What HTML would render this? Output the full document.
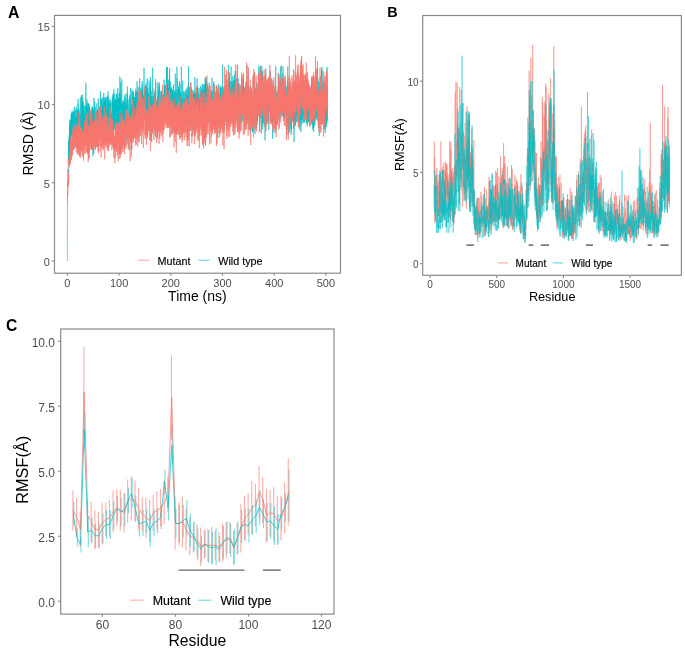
<!DOCTYPE html>
<html><head><meta charset="utf-8"><style>
html,body{margin:0;padding:0;background:#fff;width:685px;height:653px;overflow:hidden}
svg{display:block;filter:blur(0.3px)}
text{font-family:"Liberation Sans", sans-serif}
</style></head><body>
<svg width="685" height="653" viewBox="0 0 685 653">
<rect width="685" height="653" fill="#fff"/>
<polyline points="67.40,261.00 67.45,213.13 67.50,189.02 67.56,187.88 67.61,186.28 67.66,180.82 67.71,181.28 67.76,177.90 67.82,176.02 67.87,175.82 67.92,172.63 67.97,169.46 68.02,173.54 68.08,169.16 68.13,167.31 68.18,162.90 68.23,161.58 68.28,159.62 68.34,160.95 68.39,152.61 68.44,153.19 68.49,161.83 68.54,153.60 68.60,158.69 68.65,142.65 68.70,153.81 68.75,154.12 68.80,147.94 68.86,151.83 68.91,150.10 68.96,139.67 69.01,147.70 69.06,143.29 69.12,140.84 69.17,153.39 69.22,134.85 69.27,140.71 69.32,137.31 69.38,149.38 69.43,136.79 69.48,138.59 69.53,144.35 69.58,124.11 69.64,135.35 69.69,139.32 69.74,136.30 69.79,129.52 69.84,126.86 69.90,130.41 69.95,123.33 70.00,120.17 70.05,141.24 70.11,135.34 70.16,138.24 70.21,130.25 70.26,119.13 70.31,125.11 70.37,137.77 70.42,130.67 70.47,120.55 70.52,132.69 70.57,129.43 70.63,125.95 70.68,143.99 70.73,123.08 70.78,126.62 70.83,123.88 70.89,135.69 70.94,121.49 70.99,133.94 71.04,126.12 71.09,129.06 71.15,128.75 71.20,114.30 71.25,117.22 71.30,134.05 71.35,133.63 71.41,112.96 71.46,130.90 71.51,114.41 71.56,112.60 71.61,131.88 71.67,129.00 71.72,125.77 71.77,134.44 71.82,136.33 71.87,130.90 71.93,119.51 71.98,130.41 72.03,127.46 72.08,129.80 72.13,137.61 72.19,110.78 72.24,146.21 72.29,130.02 72.34,117.74 72.39,137.73 72.45,117.89 72.50,112.94 72.55,135.37 72.60,124.99 72.65,138.68 72.71,122.44 72.76,124.38 72.81,123.81 72.86,112.95 72.91,121.47 72.97,112.30 73.02,119.39 73.07,137.56 73.12,122.43 73.17,119.64 73.23,139.60 73.28,112.20 73.33,124.56 73.38,122.49 73.43,134.62 73.49,125.75 73.54,122.51 73.59,128.42 73.64,124.25 73.69,146.41 73.75,112.10 73.80,138.25 73.85,149.68 73.90,137.13 73.95,137.68 74.01,123.11 74.06,138.90 74.11,126.17 74.16,139.02 74.21,106.87 74.27,122.95 74.32,110.26 74.37,138.21 74.42,120.17 74.47,136.08 74.53,121.07 74.58,120.10 74.63,143.28 74.68,137.61 74.73,138.28 74.79,141.52 74.84,134.50 74.89,137.19 74.94,142.98 75.00,126.42 75.05,122.00 75.10,139.32 75.15,131.72 75.20,126.66 75.26,129.20 75.31,134.20 75.36,119.14 75.41,118.97 75.46,120.75 75.52,130.62 75.57,109.51 75.62,110.22 75.67,131.83 75.72,129.84 75.78,116.43 75.83,134.58 75.88,123.96 75.93,127.46 75.98,135.26 76.04,132.03 76.09,144.36 76.14,134.03 76.19,148.11 76.24,106.40 76.30,113.43 76.35,116.48 76.40,125.56 76.45,119.51 76.50,117.70 76.56,118.77 76.61,120.00 76.66,137.60 76.71,124.20 76.76,133.93 76.82,140.58 76.87,139.41 76.92,124.01 76.97,117.79 77.02,141.50 77.08,109.49 77.13,111.46 77.18,129.26 77.23,130.49 77.28,127.79 77.34,116.35 77.39,128.83 77.44,136.01 77.49,121.10 77.54,144.11 77.60,121.51 77.65,110.58 77.70,119.43 77.75,113.33 77.80,117.33 77.86,114.22 77.91,119.55 77.96,128.41 78.01,120.76 78.06,98.91 78.12,106.03 78.17,104.04 78.22,115.26 78.27,127.86 78.32,127.68 78.38,121.59 78.43,107.58 78.48,119.94 78.53,123.52 78.58,130.45 78.64,114.36 78.69,120.14 78.74,124.26 78.79,124.06 78.84,108.46 78.90,127.50 78.95,110.60 79.00,114.38 79.05,126.05 79.10,117.31 79.16,128.04 79.21,135.46 79.26,130.66 79.31,137.60 79.36,123.18 79.42,128.61 79.47,122.60 79.52,119.53 79.57,156.52 79.62,123.73 79.68,143.66 79.73,124.15 79.78,134.36 79.83,125.85 79.88,113.63 79.94,143.18 79.99,124.33 80.04,126.78 80.09,144.85 80.15,118.52 80.20,124.50 80.25,131.79 80.30,134.37 80.35,97.07 80.41,135.51 80.46,149.60 80.51,139.47 80.56,133.57 80.61,134.56 80.67,132.12 80.72,140.36 80.77,124.23 80.82,134.09 80.87,142.58 80.93,136.91 80.98,131.68 81.03,118.77 81.08,121.99 81.13,130.92 81.19,126.72 81.24,125.24 81.29,106.00 81.34,133.31 81.39,122.52 81.45,119.78 81.50,94.84 81.55,124.35 81.60,123.11 81.65,129.70 81.71,118.60 81.76,113.59 81.81,114.90 81.86,127.61 81.91,123.75 81.97,102.14 82.02,137.20 82.07,115.93 82.12,117.55 82.17,123.62 82.23,94.91 82.28,122.86 82.33,115.60 82.38,110.80 82.43,125.98 82.49,123.41 82.54,124.34 82.59,125.12 82.64,122.12 82.69,132.49 82.75,98.33 82.80,104.09 82.85,104.30 82.90,108.72 82.95,130.85 83.01,104.83 83.06,126.50 83.11,120.03 83.16,101.78 83.21,131.30 83.27,110.87 83.32,116.00 83.37,120.29 83.42,127.84 83.47,116.04 83.53,124.90 83.58,109.15 83.63,107.77 83.68,133.81 83.73,125.36 83.79,123.42 83.84,133.45 83.89,133.00 83.94,121.78 83.99,123.85 84.05,138.84 84.10,127.21 84.15,115.29 84.20,132.68 84.25,130.43 84.31,105.33 84.36,108.00 84.41,138.03 84.46,134.88 84.51,115.87 84.57,131.69 84.62,122.58 84.67,125.52 84.72,115.18 84.77,146.95 84.83,144.69 84.88,133.76 84.93,112.33 84.98,122.87 85.03,136.85 85.09,114.79 85.14,112.17 85.19,119.87 85.24,120.98 85.30,113.98 85.35,107.63 85.40,118.10 85.45,112.98 85.50,117.93 85.56,122.18 85.61,128.33 85.66,117.19 85.71,122.46 85.76,122.11 85.82,110.28 85.87,82.75 85.92,110.92 85.97,135.25 86.02,113.90 86.08,125.39 86.13,127.12 86.18,125.86 86.23,104.92 86.28,108.77 86.34,125.75 86.39,129.61 86.44,120.02 86.49,126.01 86.54,104.15 86.60,134.46 86.65,138.26 86.70,124.21 86.75,121.85 86.80,121.21 86.86,114.38 86.91,99.14 86.96,122.94 87.01,125.67 87.06,138.80 87.12,118.93 87.17,112.99 87.22,125.06 87.27,110.57 87.32,122.98 87.38,107.11 87.43,117.80 87.48,130.57 87.53,126.83 87.58,135.24 87.64,137.38 87.69,117.82 87.74,112.13 87.79,102.52 87.84,123.74 87.90,112.20 87.95,133.48 88.00,112.37 88.05,117.32 88.10,128.65 88.16,116.52 88.21,117.52 88.26,141.21 88.31,115.51 88.36,120.49 88.42,125.48 88.47,126.79 88.52,106.04 88.57,107.29 88.62,103.89 88.68,135.13 88.73,128.86 88.78,112.72 88.83,132.43 88.88,127.90 88.94,138.91 88.99,103.55 89.04,109.00 89.09,115.17 89.14,116.08 89.20,123.04 89.25,122.71 89.30,114.20 89.35,127.72 89.40,107.50 89.46,125.74 89.51,128.50 89.56,106.59 89.61,121.88 89.66,115.37 89.72,125.39 89.77,143.63 89.82,116.24 89.87,135.77 89.92,111.80 89.98,138.84 90.03,143.03 90.08,121.31 90.13,119.18 90.19,123.63 90.24,136.60 90.29,116.13 90.34,140.26 90.39,129.33 90.45,132.87 90.50,127.23 90.55,115.58 90.60,129.87 90.65,118.02 90.71,117.29 90.76,140.53 90.81,135.13 90.86,126.65 90.91,128.66 90.97,120.59 91.02,142.84 91.07,116.26 91.12,115.01 91.17,124.83 91.23,136.83 91.28,124.48 91.33,129.12 91.38,118.98 91.43,126.31 91.49,118.71 91.54,129.05 91.59,111.61 91.64,149.70 91.69,137.33 91.75,123.12 91.80,142.42 91.85,120.55 91.90,107.94 91.95,126.52 92.01,137.00 92.06,131.62 92.11,126.13 92.16,129.76 92.21,133.91 92.27,106.62 92.32,127.99 92.37,137.23 92.42,118.10 92.47,117.09 92.53,114.47 92.58,106.85 92.63,134.79 92.68,116.12 92.73,116.01 92.79,128.33 92.84,124.92 92.89,156.25 92.94,132.72 92.99,110.22 93.05,145.88 93.10,131.85 93.15,126.01 93.20,122.36 93.25,112.54 93.31,145.10 93.36,127.83 93.41,119.67 93.46,142.42 93.51,130.31 93.57,109.51 93.62,114.13 93.67,121.98 93.72,153.94 93.77,130.66 93.83,125.55 93.88,132.18 93.93,129.51 93.98,97.90 94.03,131.50 94.09,138.77 94.14,126.40 94.19,130.46 94.24,128.41 94.29,126.11 94.35,118.03 94.40,123.22 94.45,137.91 94.50,127.71 94.55,121.47 94.61,131.59 94.66,114.66 94.71,101.33 94.76,135.39 94.81,122.28 94.87,106.14 94.92,111.01 94.97,127.10 95.02,117.85 95.07,133.05 95.13,140.53 95.18,121.58 95.23,119.99 95.28,122.64 95.34,128.29 95.39,124.77 95.44,134.76 95.49,124.50 95.54,120.44 95.60,129.16 95.65,120.53 95.70,146.35 95.75,137.11 95.80,114.77 95.86,111.78 95.91,126.44 95.96,130.75 96.01,141.81 96.06,125.06 96.12,120.73 96.17,143.38 96.22,122.19 96.27,124.11 96.32,123.85 96.38,138.97 96.43,121.76 96.48,141.48 96.53,112.03 96.58,125.50 96.64,137.61 96.69,111.93 96.74,113.42 96.79,132.62 96.84,103.38 96.90,134.10 96.95,119.83 97.00,110.78 97.05,146.55 97.10,112.83 97.16,123.46 97.21,125.17 97.26,135.19 97.31,122.31 97.36,137.67 97.42,136.58 97.47,129.93 97.52,137.82 97.57,109.38 97.62,136.51 97.68,129.14 97.73,124.74 97.78,121.65 97.83,114.82 97.88,115.05 97.94,125.69 97.99,125.98 98.04,121.56 98.09,112.65 98.14,114.51 98.20,126.57 98.25,141.19 98.30,98.58 98.35,109.42 98.40,115.88 98.46,115.37 98.51,123.62 98.56,129.31 98.61,124.10 98.66,122.37 98.72,126.37 98.77,134.32 98.82,124.39 98.87,115.74 98.92,126.88 98.98,122.39 99.03,145.24 99.08,126.72 99.13,124.82 99.18,135.32 99.24,140.75 99.29,119.18 99.34,130.52 99.39,119.95 99.44,128.93 99.50,117.78 99.55,126.57 99.60,136.50 99.65,121.14 99.70,123.18 99.76,112.98 99.81,123.27 99.86,123.15 99.91,110.61 99.96,106.65 100.02,108.88 100.07,106.28 100.12,112.18 100.17,108.86 100.23,106.56 100.28,111.40 100.33,113.50 100.38,113.71 100.43,91.32 100.49,115.48 100.54,117.31 100.59,117.69 100.64,115.88 100.69,114.00 100.75,127.47 100.80,136.62 100.85,115.28 100.90,133.31 100.95,114.20 101.01,114.94 101.06,105.29 101.11,99.17 101.16,112.47 101.21,120.71 101.27,127.83 101.32,124.83 101.37,116.33 101.42,138.10 101.47,116.01 101.53,116.66 101.58,110.97 101.63,120.69 101.68,116.64 101.73,124.17 101.79,122.05 101.84,135.55 101.89,115.43 101.94,99.11 101.99,111.20 102.05,109.24 102.10,122.66 102.15,97.21 102.20,119.50 102.25,104.86 102.31,111.84 102.36,122.22 102.41,103.24 102.46,115.01 102.51,114.76 102.57,111.42 102.62,116.91 102.67,120.63 102.72,111.98 102.77,120.14 102.83,115.77 102.88,122.67 102.93,131.76 102.98,123.93 103.03,123.09 103.09,116.90 103.14,105.21 103.19,134.68 103.24,116.78 103.29,140.40 103.35,128.03 103.40,124.10 103.45,142.49 103.50,138.80 103.55,116.20 103.61,116.05 103.66,118.08 103.71,124.33 103.76,92.81 103.81,116.30 103.87,123.73 103.92,97.21 103.97,107.50 104.02,116.85 104.07,101.77 104.13,110.46 104.18,104.15 104.23,107.90 104.28,120.13 104.33,102.18 104.39,109.86 104.44,121.93 104.49,119.21 104.54,101.51 104.59,115.28 104.65,112.84 104.70,106.51 104.75,112.59 104.80,129.57 104.85,108.52 104.91,105.88 104.96,108.79 105.01,100.12 105.06,112.45 105.11,107.30 105.17,97.37 105.22,116.30 105.27,97.75 105.32,98.65 105.38,109.33 105.43,99.19 105.48,109.00 105.53,128.21 105.58,107.57 105.64,117.04 105.69,115.78 105.74,118.39 105.79,106.50 105.84,114.56 105.90,127.47 105.95,116.08 106.00,115.07 106.05,129.52 106.10,124.72 106.16,122.25 106.21,123.22 106.26,112.96 106.31,106.89 106.36,96.76 106.42,103.84 106.47,105.65 106.52,104.73 106.57,102.73 106.62,120.33 106.68,109.67 106.73,114.40 106.78,119.25 106.83,120.35 106.88,120.95 106.94,110.29 106.99,128.03 107.04,109.77 107.09,116.31 107.14,115.23 107.20,112.05 107.25,107.96 107.30,121.10 107.35,114.82 107.40,130.61 107.46,136.73 107.51,133.38 107.56,98.23 107.61,133.89 107.66,111.46 107.72,101.87 107.77,120.68 107.82,99.16 107.87,95.71 107.92,106.30 107.98,91.29 108.03,109.17 108.08,123.38 108.13,110.32 108.18,120.88 108.24,131.44 108.29,131.45 108.34,96.74 108.39,125.88 108.44,120.21 108.50,126.22 108.55,116.59 108.60,120.50 108.65,123.59 108.70,112.68 108.76,134.99 108.81,129.26 108.86,118.27 108.91,100.80 108.96,112.74 109.02,104.14 109.07,117.49 109.12,122.71 109.17,134.88 109.22,120.79 109.28,142.17 109.33,122.35 109.38,102.48 109.43,115.08 109.48,106.59 109.54,123.06 109.59,133.10 109.64,124.23 109.69,123.10 109.74,108.16 109.80,98.77 109.85,125.89 109.90,123.10 109.95,122.44 110.00,124.59 110.06,133.51 110.11,120.59 110.16,117.62 110.21,117.82 110.26,133.13 110.32,122.67 110.37,138.88 110.42,111.12 110.47,128.03 110.53,121.41 110.58,123.51 110.63,125.54 110.68,129.48 110.73,137.58 110.79,102.71 110.84,117.45 110.89,118.14 110.94,100.44 110.99,122.82 111.05,118.02 111.10,124.48 111.15,112.86 111.20,119.34 111.25,121.14 111.31,128.26 111.36,123.01 111.41,113.07 111.46,144.87 111.51,125.10 111.57,128.59 111.62,126.55 111.67,143.71 111.72,117.32 111.77,133.66 111.83,125.80 111.88,128.14 111.93,138.57 111.98,126.52 112.03,139.49 112.09,128.08 112.14,124.50 112.19,118.89 112.24,117.47 112.29,119.80 112.35,96.90 112.40,113.64 112.45,127.58 112.50,123.40 112.55,125.42 112.61,120.75 112.66,124.92 112.71,127.25 112.76,100.72 112.81,116.53 112.87,119.56 112.92,119.71 112.97,94.92 113.02,100.31 113.07,108.83 113.13,102.15 113.18,144.77 113.23,108.48 113.28,102.07 113.33,93.05 113.39,112.27 113.44,129.24 113.49,106.53 113.54,118.29 113.59,130.66 113.65,118.81 113.70,102.15 113.75,101.82 113.80,106.72 113.85,123.76 113.91,88.82 113.96,126.20 114.01,107.91 114.06,129.42 114.11,101.44 114.17,111.22 114.22,105.69 114.27,111.58 114.32,111.37 114.37,109.26 114.43,129.48 114.48,100.47 114.53,101.32 114.58,113.17 114.63,110.75 114.69,106.75 114.74,94.15 114.79,104.46 114.84,108.40 114.89,114.77 114.95,124.69 115.00,115.02 115.05,108.44 115.10,111.42 115.15,108.79 115.21,104.19 115.26,106.57 115.31,107.65 115.36,103.81 115.42,108.61 115.47,109.97 115.52,105.51 115.57,128.46 115.62,98.70 115.68,123.33 115.73,103.32 115.78,110.61 115.83,100.29 115.88,112.23 115.94,121.00 115.99,100.84 116.04,111.11 116.09,112.17 116.14,111.72 116.20,101.39 116.25,103.74 116.30,109.37 116.35,126.75 116.40,115.90 116.46,110.51 116.51,93.60 116.56,108.41 116.61,113.75 116.66,100.75 116.72,113.97 116.77,113.71 116.82,112.28 116.87,127.96 116.92,103.04 116.98,107.64 117.03,113.74 117.08,121.98 117.13,106.30 117.18,95.29 117.24,115.29 117.29,120.00 117.34,103.47 117.39,122.44 117.44,130.82 117.50,113.98 117.55,115.99 117.60,111.25 117.65,113.51 117.70,104.86 117.76,88.13 117.81,113.61 117.86,112.46 117.91,100.71 117.96,99.74 118.02,99.85 118.07,103.07 118.12,142.63 118.17,119.83 118.22,113.86 118.28,108.37 118.33,127.75 118.38,98.01 118.43,110.83 118.48,120.20 118.54,111.83 118.59,116.05 118.64,120.41 118.69,106.70 118.74,113.33 118.80,126.29 118.85,117.98 118.90,111.82 118.95,122.00 119.00,98.68 119.06,122.65 119.11,93.91 119.16,103.54 119.21,121.17 119.26,110.80 119.32,99.81 119.37,114.52 119.42,124.36 119.47,110.87 119.52,92.35 119.58,125.67 119.63,104.77 119.68,108.73 119.73,109.28 119.78,112.83 119.84,112.63 119.89,76.62 119.94,103.20 119.99,119.40 120.04,93.98 120.10,124.66 120.15,105.15 120.20,112.13 120.25,101.53 120.30,110.73 120.36,104.32 120.41,115.41 120.46,105.04 120.51,112.71 120.57,96.04 120.62,125.68 120.67,82.22 120.72,116.43 120.77,117.64 120.83,125.98 120.88,114.93 120.93,135.47 120.98,133.93 121.03,113.01 121.09,135.80 121.14,104.83 121.19,120.33 121.24,114.74 121.29,116.28 121.35,113.61 121.40,120.02 121.45,121.04 121.50,117.72 121.55,105.79 121.61,103.24 121.66,103.65 121.71,113.03 121.76,79.22 121.81,133.07 121.87,110.26 121.92,108.42 121.97,122.20 122.02,109.72 122.07,102.43 122.13,113.39 122.18,104.68 122.23,113.03 122.28,134.00 122.33,120.21 122.39,120.30 122.44,111.37 122.49,124.54 122.54,119.38 122.59,124.99 122.65,116.64 122.70,116.92 122.75,108.31 122.80,112.06 122.85,117.57 122.91,117.22 122.96,117.93 123.01,115.98 123.06,100.26 123.11,142.09 123.17,117.79 123.22,111.69 123.27,104.09 123.32,127.44 123.37,112.87 123.43,109.08 123.48,120.81 123.53,137.80 123.58,123.01 123.63,131.60 123.69,112.89 123.74,127.77 123.79,100.70 123.84,117.35 123.89,125.71 123.95,124.55 124.00,130.33 124.05,115.82 124.10,104.36 124.15,121.26 124.21,110.40 124.26,129.72 124.31,116.12 124.36,95.40 124.41,133.45 124.47,104.65 124.52,102.97 124.57,135.23 124.62,130.36 124.67,123.29 124.73,102.86 124.78,116.83 124.83,114.41 124.88,106.08 124.93,112.26 124.99,111.68 125.04,116.51 125.09,102.25 125.14,121.93 125.19,98.18 125.25,118.58 125.30,124.02 125.35,109.48 125.40,110.41 125.45,134.66 125.51,111.84 125.56,127.41 125.61,122.07 125.66,105.81 125.72,122.80 125.77,109.73 125.82,118.20 125.87,93.48 125.92,114.02 125.98,125.67 126.03,125.41 126.08,124.01 126.13,113.35 126.18,115.31 126.24,104.33 126.29,113.18 126.34,115.66 126.39,114.27 126.44,120.63 126.50,116.21 126.55,110.07 126.60,109.32 126.65,123.94 126.70,136.90 126.76,125.34 126.81,113.88 126.86,141.87 126.91,120.37 126.96,108.62 127.02,117.69 127.07,123.22 127.12,93.81 127.17,97.03 127.22,114.34 127.28,99.35 127.33,99.57 127.38,125.11 127.43,86.51 127.48,123.11 127.54,114.07 127.59,123.37 127.64,111.62 127.69,125.94 127.74,112.28 127.80,100.28 127.85,109.63 127.90,115.30 127.95,98.50 128.00,124.12 128.06,104.65 128.11,117.47 128.16,113.14 128.21,115.30 128.26,114.23 128.32,115.53 128.37,123.44 128.42,121.44 128.47,112.84 128.52,119.38 128.58,128.42 128.63,125.74 128.68,125.78 128.73,118.95 128.78,116.78 128.84,118.28 128.89,125.73 128.94,118.75 128.99,132.74 129.04,149.72 129.10,120.94 129.15,137.77 129.20,130.88 129.25,133.07 129.30,113.63 129.36,131.26 129.41,116.48 129.46,123.21 129.51,129.56 129.56,131.83 129.62,109.78 129.67,110.66 129.72,106.86 129.77,95.32 129.82,112.43 129.88,112.10 129.93,116.67 129.98,114.63 130.03,120.84 130.08,127.10 130.14,97.65 130.19,135.85 130.24,113.33 130.29,111.42 130.34,114.50 130.40,126.51 130.45,118.22 130.50,121.12 130.55,126.70 130.61,88.06 130.66,118.23 130.71,121.10 130.76,109.31 130.81,128.31 130.87,114.09 130.92,123.39 130.97,112.53 131.02,117.50 131.07,115.01 131.13,126.11 131.18,124.30 131.23,125.67 131.28,115.43 131.33,109.24 131.39,105.17 131.44,120.02 131.49,112.90 131.54,129.06 131.59,133.90 131.65,119.62 131.70,119.12 131.75,128.28 131.80,130.31 131.85,107.25 131.91,119.99 131.96,129.29 132.01,89.59 132.06,110.06 132.11,114.47 132.17,104.23 132.22,118.02 132.27,93.31 132.32,124.84 132.37,124.93 132.43,104.13 132.48,120.61 132.53,99.50 132.58,129.87 132.63,119.91 132.69,110.58 132.74,108.38 132.79,102.00 132.84,109.16 132.89,91.49 132.95,118.42 133.00,100.37 133.05,105.21 133.10,116.35 133.15,93.54 133.21,119.21 133.26,120.84 133.31,125.01 133.36,119.80 133.41,129.56 133.47,110.08 133.52,127.41 133.57,91.07 133.62,93.52 133.67,99.69 133.73,113.24 133.78,116.45 133.83,97.34 133.88,106.84 133.93,102.84 133.99,116.54 134.04,99.07 134.09,117.62 134.14,108.01 134.19,125.46 134.25,114.33 134.30,101.79 134.35,110.21 134.40,110.26 134.45,99.36 134.51,109.40 134.56,97.57 134.61,133.28 134.66,103.89 134.71,103.41 134.77,123.75 134.82,119.75 134.87,96.87 134.92,116.87 134.97,112.85 135.03,100.39 135.08,109.80 135.13,102.24 135.18,116.03 135.23,102.81 135.29,96.60 135.34,104.14 135.39,130.64 135.44,101.68 135.49,106.97 135.55,116.89 135.60,92.94 135.65,126.35 135.70,88.67 135.76,114.74 135.81,91.84 135.86,108.15 135.91,123.70 135.96,109.96 136.02,107.32 136.07,103.71 136.12,98.19 136.17,117.83 136.22,105.11 136.28,101.27 136.33,109.81 136.38,116.60 136.43,117.08 136.48,101.38 136.54,100.06 136.59,114.05 136.64,118.65 136.69,91.45 136.74,119.40 136.80,103.13 136.85,111.78 136.90,122.74 136.95,104.00 137.00,107.04 137.06,89.80 137.11,81.10 137.16,105.80 137.21,94.36 137.26,95.49 137.32,111.40 137.37,115.62 137.42,91.79 137.47,113.02 137.52,110.00 137.58,114.39 137.63,113.96 137.68,120.14 137.73,106.08 137.78,100.38 137.84,114.84 137.89,126.35 137.94,112.36 137.99,126.93 138.04,118.41 138.10,99.64 138.15,86.84 138.20,106.77 138.25,113.98 138.30,104.79 138.36,134.97 138.41,118.81 138.46,97.49 138.51,106.12 138.56,126.95 138.62,129.09 138.67,104.02 138.72,112.40 138.77,117.24 138.82,105.50 138.88,118.69 138.93,131.76 138.98,104.47 139.03,121.05 139.08,124.67 139.14,127.06 139.19,109.31 139.24,121.89 139.29,104.72 139.34,114.66 139.40,99.92 139.45,113.47 139.50,107.71 139.55,128.25 139.60,120.44 139.66,101.31 139.71,78.24 139.76,124.14 139.81,119.16 139.86,104.52 139.92,101.38 139.97,113.97 140.02,104.94 140.07,120.57 140.12,105.93 140.18,93.95 140.23,87.78 140.28,106.29 140.33,109.38 140.38,103.79 140.44,97.05 140.49,104.24 140.54,116.88 140.59,105.71 140.65,97.64 140.70,113.43 140.75,119.82 140.80,100.02 140.85,102.27 140.91,96.55 140.96,104.61 141.01,113.27 141.06,111.44 141.11,118.69 141.17,117.72 141.22,112.25 141.27,112.19 141.32,95.80 141.37,120.36 141.43,109.48 141.48,116.08 141.53,93.58 141.58,103.73 141.63,109.73 141.69,98.42 141.74,105.34 141.79,111.19 141.84,90.09 141.89,98.21 141.95,87.69 142.00,92.97 142.05,97.46 142.10,104.41 142.15,118.39 142.21,81.00 142.26,108.41 142.31,102.38 142.36,84.33 142.41,116.86 142.47,119.55 142.52,103.56 142.57,98.22 142.62,114.98 142.67,106.61 142.73,95.48 142.78,117.05 142.83,112.33 142.88,118.78 142.93,96.94 142.99,104.75 143.04,112.69 143.09,127.36 143.14,109.82 143.19,96.40 143.25,110.47 143.30,111.60 143.35,101.02 143.40,119.86 143.45,108.25 143.51,103.32 143.56,116.75 143.61,116.98 143.66,104.92 143.71,108.34 143.77,107.50 143.82,103.75 143.87,103.39 143.92,116.84 143.97,115.39 144.03,67.99 144.08,96.89 144.13,94.01 144.18,116.29 144.23,97.63 144.29,101.31 144.34,109.70 144.39,104.85 144.44,100.60 144.49,90.25 144.55,119.47 144.60,103.54 144.65,110.68 144.70,111.38 144.75,96.67 144.81,97.44 144.86,115.20 144.91,107.90 144.96,102.96 145.01,120.38 145.07,98.28 145.12,108.70 145.17,106.65 145.22,105.26 145.27,89.67 145.33,85.71 145.38,111.99 145.43,91.95 145.48,112.92 145.53,112.65 145.59,119.64 145.64,94.05 145.69,100.86 145.74,99.18 145.80,101.67 145.85,102.26 145.90,110.15 145.95,109.13 146.00,95.48 146.06,98.40 146.11,82.70 146.16,105.82 146.21,103.97 146.26,109.18 146.32,86.09 146.37,113.25 146.42,93.84 146.47,87.42 146.52,103.32 146.58,94.32 146.63,124.57 146.68,105.24 146.73,117.10 146.78,98.16 146.84,100.35 146.89,108.46 146.94,90.86 146.99,96.59 147.04,107.26 147.10,106.58 147.15,113.57 147.20,102.66 147.25,78.68 147.30,107.01 147.36,95.94 147.41,104.57 147.46,92.34 147.51,96.03 147.56,101.58 147.62,117.60 147.67,105.44 147.72,88.28 147.77,103.43 147.82,93.32 147.88,105.58 147.93,118.32 147.98,97.20 148.03,97.78 148.08,107.10 148.14,107.68 148.19,101.12 148.24,111.12 148.29,102.15 148.34,106.22 148.40,129.06 148.45,107.86 148.50,111.03 148.55,113.38 148.60,99.47 148.66,108.22 148.71,98.83 148.76,93.39 148.81,101.83 148.86,118.04 148.92,109.95 148.97,93.48 149.02,105.50 149.07,80.59 149.12,102.70 149.18,96.87 149.23,100.56 149.28,97.24 149.33,111.42 149.38,105.37 149.44,105.40 149.49,103.84 149.54,124.78 149.59,107.78 149.64,120.20 149.70,91.93 149.75,90.75 149.80,89.14 149.85,96.74 149.90,109.20 149.96,94.70 150.01,104.38 150.06,95.69 150.11,111.41 150.16,107.66 150.22,96.82 150.27,84.64 150.32,102.78 150.37,80.13 150.42,77.10 150.48,117.96 150.53,105.65 150.58,115.42 150.63,108.85 150.68,113.15 150.74,108.45 150.79,97.93 150.84,99.25 150.89,105.41 150.95,109.13 151.00,108.11 151.05,106.67 151.10,102.80 151.15,108.96 151.21,102.84 151.26,121.41 151.31,100.48 151.36,90.61 151.41,105.28 151.47,123.47 151.52,96.37 151.57,114.15 151.62,141.85 151.67,114.63 151.73,106.97 151.78,108.71 151.83,100.76 151.88,106.68 151.93,111.10 151.99,132.78 152.04,123.78 152.09,108.99 152.14,103.54 152.19,121.20 152.25,116.95 152.30,106.81 152.35,130.37 152.40,129.77 152.45,113.16 152.51,108.37 152.56,114.53 152.61,133.20 152.66,67.65 152.71,124.07 152.77,104.76 152.82,112.71 152.87,106.82 152.92,103.32 152.97,115.49 153.03,102.27 153.08,98.11 153.13,105.89 153.18,96.21 153.23,113.89 153.29,98.11 153.34,103.23 153.39,115.64 153.44,105.94 153.49,111.89 153.55,112.23 153.60,105.85 153.65,96.24 153.70,112.16 153.75,106.80 153.81,123.17 153.86,107.65 153.91,97.27 153.96,100.87 154.01,103.79 154.07,98.74 154.12,120.31 154.17,111.04 154.22,123.33 154.27,122.54 154.33,101.03 154.38,120.44 154.43,93.00 154.48,124.25 154.53,106.41 154.59,120.99 154.64,106.54 154.69,119.15 154.74,107.45 154.79,110.77 154.85,115.30 154.90,106.67 154.95,96.84 155.00,118.16 155.05,103.59 155.11,111.38 155.16,114.37 155.21,91.26 155.26,136.39 155.31,121.74 155.37,133.27 155.42,119.00 155.47,119.16 155.52,79.05 155.57,113.67 155.63,98.18 155.68,102.36 155.73,120.56 155.78,111.74 155.84,100.30 155.89,114.64 155.94,115.90 155.99,111.42 156.04,131.82 156.10,125.27 156.15,113.04 156.20,109.65 156.25,123.84 156.30,116.59 156.36,114.24 156.41,113.17 156.46,103.31 156.51,109.21 156.56,107.14 156.62,122.86 156.67,119.06 156.72,106.00 156.77,125.52 156.82,105.88 156.88,116.45 156.93,117.26 156.98,102.12 157.03,115.16 157.08,119.02 157.14,117.15 157.19,109.02 157.24,82.48 157.29,131.43 157.34,112.37 157.40,113.80 157.45,102.23 157.50,114.60 157.55,137.43 157.60,96.65 157.66,122.72 157.71,111.40 157.76,125.36 157.81,123.04 157.86,114.71 157.92,101.71 157.97,102.40 158.02,117.10 158.07,106.80 158.12,114.36 158.18,107.71 158.23,107.88 158.28,104.71 158.33,112.61 158.38,109.93 158.44,105.56 158.49,105.72 158.54,115.51 158.59,90.16 158.64,113.51 158.70,102.45 158.75,107.02 158.80,97.28 158.85,129.49 158.90,86.55 158.96,110.03 159.01,119.54 159.06,104.06 159.11,82.10 159.16,101.01 159.22,118.25 159.27,109.20 159.32,91.53 159.37,120.01 159.42,106.69 159.48,107.76 159.53,83.95 159.58,109.20 159.63,93.68 159.68,113.52 159.74,114.69 159.79,95.31 159.84,98.53 159.89,123.83 159.94,99.50 160.00,98.63 160.05,110.95 160.10,101.60 160.15,101.70 160.20,110.29 160.26,110.45 160.31,112.38 160.36,110.40 160.41,120.09 160.46,107.76 160.52,122.71 160.57,108.12 160.62,110.91 160.67,121.50 160.72,102.61 160.78,91.16 160.83,99.38 160.88,125.69 160.93,99.95 160.99,111.43 161.04,113.32 161.09,118.68 161.14,113.99 161.19,97.92 161.25,107.10 161.30,116.37 161.35,118.59 161.40,114.53 161.45,104.71 161.51,90.70 161.56,114.58 161.61,109.01 161.66,113.52 161.71,117.48 161.77,103.96 161.82,102.07 161.87,121.81 161.92,115.81 161.97,92.97 162.03,102.64 162.08,99.90 162.13,111.38 162.18,109.09 162.23,99.52 162.29,109.77 162.34,116.59 162.39,105.25 162.44,96.14 162.49,116.63 162.55,95.03 162.60,100.56 162.65,116.71 162.70,108.26 162.75,108.96 162.81,101.79 162.86,102.56 162.91,121.77 162.96,122.33 163.01,98.89 163.07,109.33 163.12,107.26 163.17,107.60 163.22,96.29 163.27,123.68 163.33,99.37 163.38,117.51 163.43,100.36 163.48,94.42 163.53,122.85 163.59,103.81 163.64,110.32 163.69,109.36 163.74,105.99 163.79,115.88 163.85,114.22 163.90,97.27 163.95,94.98 164.00,108.91 164.05,117.73 164.11,79.63 164.16,91.05 164.21,99.10 164.26,111.56 164.31,107.31 164.37,98.22 164.42,110.58 164.47,85.18 164.52,98.16 164.57,96.08 164.63,111.77 164.68,111.36 164.73,110.58 164.78,97.95 164.83,103.37 164.89,102.89 164.94,97.95 164.99,98.68 165.04,85.56 165.09,100.91 165.15,109.98 165.20,99.55 165.25,84.66 165.30,106.08 165.35,100.22 165.41,104.71 165.46,99.41 165.51,100.41 165.56,110.70 165.61,105.38 165.67,95.01 165.72,92.13 165.77,93.70 165.82,93.44 165.88,104.21 165.93,105.17 165.98,91.59 166.03,113.03 166.08,102.07 166.14,120.30 166.19,105.64 166.24,107.99 166.29,113.03 166.34,95.46 166.40,109.03 166.45,105.16 166.50,105.05 166.55,110.42 166.60,67.09 166.66,108.76 166.71,102.03 166.76,117.70 166.81,107.52 166.86,104.87 166.92,104.42 166.97,67.08 167.02,98.18 167.07,83.91 167.12,101.11 167.18,101.08 167.23,67.07 167.28,73.09 167.33,82.57 167.38,91.37 167.44,84.34 167.49,104.74 167.54,100.36 167.59,95.23 167.64,96.72 167.70,106.77 167.75,105.37 167.80,91.49 167.85,94.85 167.90,119.61 167.96,99.16 168.01,87.43 168.06,106.86 168.11,98.51 168.16,116.24 168.22,93.88 168.27,114.15 168.32,115.11 168.37,104.45 168.42,79.58 168.48,109.54 168.53,116.52 168.58,98.90 168.63,102.20 168.68,88.11 168.74,118.36 168.79,120.96 168.84,108.13 168.89,101.38 168.94,101.27 169.00,94.28 169.05,121.51 169.10,114.26 169.15,107.06 169.20,97.52 169.26,100.22 169.31,108.07 169.36,115.14 169.41,96.91 169.46,94.79 169.52,75.90 169.57,105.54 169.62,68.04 169.67,117.65 169.72,111.49 169.78,114.31 169.83,112.10 169.88,117.38 169.93,115.12 169.98,109.27 170.04,113.78 170.09,102.67 170.14,109.40 170.19,107.73 170.24,93.28 170.30,104.74 170.35,81.32 170.40,107.06 170.45,105.61 170.50,101.54 170.56,115.22 170.61,95.09 170.66,90.36 170.71,92.80 170.76,107.97 170.82,119.55 170.87,108.17 170.92,103.55 170.97,96.62 171.03,106.59 171.08,105.28 171.13,87.10 171.18,111.03 171.23,87.71 171.29,95.93 171.34,119.43 171.39,93.60 171.44,112.85 171.49,116.39 171.55,125.51 171.60,123.48 171.65,102.92 171.70,111.40 171.75,105.23 171.81,119.79 171.86,113.03 171.91,111.81 171.96,125.94 172.01,127.04 172.07,105.25 172.12,108.42 172.17,118.85 172.22,111.49 172.27,102.50 172.33,89.71 172.38,116.54 172.43,103.14 172.48,89.05 172.53,108.46 172.59,92.78 172.64,132.88 172.69,91.42 172.74,106.55 172.79,125.33 172.85,98.81 172.90,95.69 172.95,95.54 173.00,94.69 173.05,105.68 173.11,113.95 173.16,112.34 173.21,107.70 173.26,103.87 173.31,114.90 173.37,108.72 173.42,100.21 173.47,106.07 173.52,84.32 173.57,85.51 173.63,119.18 173.68,113.24 173.73,121.57 173.78,120.76 173.83,103.22 173.89,119.02 173.94,103.34 173.99,110.45 174.04,98.88 174.09,109.64 174.15,109.16 174.20,95.96 174.25,99.07 174.30,99.30 174.35,92.69 174.41,113.30 174.46,101.34 174.51,111.20 174.56,94.95 174.61,96.59 174.67,113.85 174.72,90.72 174.77,115.84 174.82,92.83 174.87,103.22 174.93,115.13 174.98,117.52 175.03,111.00 175.08,108.02 175.13,114.81 175.19,102.63 175.24,123.16 175.29,73.77 175.34,97.00 175.39,128.37 175.45,104.95 175.50,120.06 175.55,132.72 175.60,114.89 175.65,109.96 175.71,96.92 175.76,111.72 175.81,92.34 175.86,91.65 175.91,94.79 175.97,90.59 176.02,100.94 176.07,109.56 176.12,98.71 176.18,93.55 176.23,101.62 176.28,108.61 176.33,121.98 176.38,99.59 176.44,101.02 176.49,117.96 176.54,103.94 176.59,97.15 176.64,104.04 176.70,95.22 176.75,94.61 176.80,116.63 176.85,105.22 176.90,97.37 176.96,66.68 177.01,89.12 177.06,121.47 177.11,104.28 177.16,95.38 177.22,89.47 177.27,78.26 177.32,112.20 177.37,106.85 177.42,113.33 177.48,93.91 177.53,115.27 177.58,89.24 177.63,92.39 177.68,96.80 177.74,125.12 177.79,99.63 177.84,95.06 177.89,115.35 177.94,104.47 178.00,102.57 178.05,95.35 178.10,101.46 178.15,102.95 178.20,109.14 178.26,102.34 178.31,104.33 178.36,95.66 178.41,105.11 178.46,92.65 178.52,119.60 178.57,89.32 178.62,104.17 178.67,89.72 178.72,101.25 178.78,93.34 178.83,85.92 178.88,106.00 178.93,100.66 178.98,103.96 179.04,100.69 179.09,119.22 179.14,103.65 179.19,105.76 179.24,110.80 179.30,104.35 179.35,117.48 179.40,87.57 179.45,95.83 179.50,81.07 179.56,108.18 179.61,101.47 179.66,94.71 179.71,103.89 179.76,96.29 179.82,106.09 179.87,102.85 179.92,98.03 179.97,102.04 180.02,84.22 180.08,97.33 180.13,116.27 180.18,94.88 180.23,116.89 180.28,102.36 180.34,116.08 180.39,112.59 180.44,91.83 180.49,111.74 180.54,113.11 180.60,112.26 180.65,109.88 180.70,93.54 180.75,120.08 180.80,121.43 180.86,102.91 180.91,122.94 180.96,109.95 181.01,95.16 181.07,108.04 181.12,114.15 181.17,117.95 181.22,119.19 181.27,116.51 181.33,66.51 181.38,98.30 181.43,100.86 181.48,114.80 181.53,117.02 181.59,102.87 181.64,128.77 181.69,113.96 181.74,113.67 181.79,122.51 181.85,122.49 181.90,110.11 181.95,129.58 182.00,119.50 182.05,117.64 182.11,109.25 182.16,123.50 182.21,99.71 182.26,113.86 182.31,113.45 182.37,114.99 182.42,116.13 182.47,120.92 182.52,99.02 182.57,108.06 182.63,111.63 182.68,80.73 182.73,116.45 182.78,102.74 182.83,108.35 182.89,116.78 182.94,102.08 182.99,123.22 183.04,99.46 183.09,113.95 183.15,100.04 183.20,91.67 183.25,99.96 183.30,112.48 183.35,107.27 183.41,109.74 183.46,118.57 183.51,118.01 183.56,108.25 183.61,103.37 183.67,126.29 183.72,109.91 183.77,104.70 183.82,106.80 183.87,117.52 183.93,99.52 183.98,122.73 184.03,102.79 184.08,91.17 184.13,127.31 184.19,104.94 184.24,104.75 184.29,104.56 184.34,115.36 184.39,109.38 184.45,118.90 184.50,103.57 184.55,98.94 184.60,110.33 184.65,111.54 184.71,108.12 184.76,102.44 184.81,102.22 184.86,104.69 184.91,102.94 184.97,117.01 185.02,132.20 185.07,100.28 185.12,93.11 185.17,120.08 185.23,110.73 185.28,100.53 185.33,92.96 185.38,96.61 185.43,90.48 185.49,103.61 185.54,100.04 185.59,101.06 185.64,109.42 185.69,93.43 185.75,100.23 185.80,96.32 185.85,110.23 185.90,95.08 185.95,115.91 186.01,101.77 186.06,131.67 186.11,115.83 186.16,99.05 186.22,111.27 186.27,104.32 186.32,121.61 186.37,88.81 186.42,99.95 186.48,106.53 186.53,102.51 186.58,103.21 186.63,92.78 186.68,105.21 186.74,121.24 186.79,108.94 186.84,94.69 186.89,100.50 186.94,109.42 187.00,99.72 187.05,103.86 187.10,99.67 187.15,120.49 187.20,113.88 187.26,99.09 187.31,108.30 187.36,103.30 187.41,87.09 187.46,109.52 187.52,103.96 187.57,112.43 187.62,116.53 187.67,110.83 187.72,126.22 187.78,132.30 187.83,96.53 187.88,110.77 187.93,98.81 187.98,108.83 188.04,108.56 188.09,103.77 188.14,103.71 188.19,123.56 188.24,98.27 188.30,119.84 188.35,107.13 188.40,83.86 188.45,108.32 188.50,92.60 188.56,66.22 188.61,101.68 188.66,107.00 188.71,103.94 188.76,117.27 188.82,116.25 188.87,104.00 188.92,123.12 188.97,114.54 189.02,98.73 189.08,110.75 189.13,113.88 189.18,113.87 189.23,101.11 189.28,105.78 189.34,100.94 189.39,105.74 189.44,86.79 189.49,109.16 189.54,123.95 189.60,95.92 189.65,105.87 189.70,105.70 189.75,123.47 189.80,97.60 189.86,108.22 189.91,107.19 189.96,119.78 190.01,98.59 190.06,104.58 190.12,91.40 190.17,112.22 190.22,120.85 190.27,107.40 190.32,116.74 190.38,102.92 190.43,117.20 190.48,107.52 190.53,107.85 190.58,104.58 190.64,110.39 190.69,113.78 190.74,107.65 190.79,111.24 190.84,102.77 190.90,106.31 190.95,127.06 191.00,105.30 191.05,91.19 191.10,101.89 191.16,90.82 191.21,100.12 191.26,109.67 191.31,117.43 191.37,96.07 191.42,93.98 191.47,87.48 191.52,100.81 191.57,100.36 191.63,104.84 191.68,101.62 191.73,104.62 191.78,102.95 191.83,114.61 191.89,112.51 191.94,100.06 191.99,108.60 192.04,130.65 192.09,106.47 192.15,130.61 192.20,90.03 192.25,102.77 192.30,102.42 192.35,115.67 192.41,119.75 192.46,111.08 192.51,108.41 192.56,116.79 192.61,107.59 192.67,94.09 192.72,102.49 192.77,118.89 192.82,130.84 192.87,109.33 192.93,115.38 192.98,104.70 193.03,93.63 193.08,93.01 193.13,103.81 193.19,96.03 193.24,90.44 193.29,105.67 193.34,105.86 193.39,99.99 193.45,109.24 193.50,112.36 193.55,114.98 193.60,108.27 193.65,114.51 193.71,100.42 193.76,111.90 193.81,94.33 193.86,97.98 193.91,121.93 193.97,98.47 194.02,110.95 194.07,92.97 194.12,101.03 194.17,105.33 194.23,97.40 194.28,107.83 194.33,98.28 194.38,97.96 194.43,102.99 194.49,97.74 194.54,111.04 194.59,95.85 194.64,113.88 194.69,98.15 194.75,100.28 194.80,99.90 194.85,112.08 194.90,77.16 194.95,110.35 195.01,105.93 195.06,113.83 195.11,92.51 195.16,109.33 195.21,93.38 195.27,113.36 195.32,100.25 195.37,106.49 195.42,93.55 195.47,104.57 195.53,110.88 195.58,98.79 195.63,115.54 195.68,114.00 195.73,97.41 195.79,124.31 195.84,99.82 195.89,110.42 195.94,115.41 195.99,103.80 196.05,101.80 196.10,88.91 196.15,110.66 196.20,101.08 196.26,101.97 196.31,108.72 196.36,115.61 196.41,117.19 196.46,113.70 196.52,100.64 196.57,102.00 196.62,103.49 196.67,92.53 196.72,108.65 196.78,109.35 196.83,108.88 196.88,85.80 196.93,123.12 196.98,100.21 197.04,97.94 197.09,101.60 197.14,78.63 197.19,89.96 197.24,95.87 197.30,110.69 197.35,97.25 197.40,106.79 197.45,103.02 197.50,102.38 197.56,106.97 197.61,95.86 197.66,87.85 197.71,93.07 197.76,101.36 197.82,120.20 197.87,92.31 197.92,91.46 197.97,106.69 198.02,109.74 198.08,99.22 198.13,115.28 198.18,99.39 198.23,115.72 198.28,115.97 198.34,105.81 198.39,120.41 198.44,104.16 198.49,98.68 198.54,116.58 198.60,94.08 198.65,107.88 198.70,97.87 198.75,100.45 198.80,107.40 198.86,109.77 198.91,119.17 198.96,109.88 199.01,111.21 199.06,87.82 199.12,95.30 199.17,119.39 199.22,99.06 199.27,105.01 199.32,110.62 199.38,101.44 199.43,98.70 199.48,111.18 199.53,107.76 199.58,104.56 199.64,115.28 199.69,104.96 199.74,106.42 199.79,111.68 199.84,113.18 199.90,103.48 199.95,97.87 200.00,103.74 200.05,114.31 200.10,99.07 200.16,105.31 200.21,100.34 200.26,94.16 200.31,114.40 200.36,105.99 200.42,110.63 200.47,113.54 200.52,85.97 200.57,96.81 200.62,122.97 200.68,102.18 200.73,110.04 200.78,92.38 200.83,102.80 200.88,103.76 200.94,100.86 200.99,98.27 201.04,100.88 201.09,103.08 201.14,100.13 201.20,93.88 201.25,110.79 201.30,98.97 201.35,93.49 201.41,104.56 201.46,95.88 201.51,114.27 201.56,104.77 201.61,88.73 201.67,94.64 201.72,102.82 201.77,98.13 201.82,94.22 201.87,113.97 201.93,94.98 201.98,105.55 202.03,100.67 202.08,100.76 202.13,91.80 202.19,92.79 202.24,83.93 202.29,98.74 202.34,105.45 202.39,107.28 202.45,97.39 202.50,86.72 202.55,100.22 202.60,108.76 202.65,100.13 202.71,99.75 202.76,103.09 202.81,110.80 202.86,127.76 202.91,107.99 202.97,93.53 203.02,102.64 203.07,124.71 203.12,102.64 203.17,119.95 203.23,84.10 203.28,100.87 203.33,114.07 203.38,94.30 203.43,110.58 203.49,97.73 203.54,103.05 203.59,115.55 203.64,97.81 203.69,116.84 203.75,91.75 203.80,103.54 203.85,115.24 203.90,122.72 203.95,89.67 204.01,90.95 204.06,115.67 204.11,89.22 204.16,104.69 204.21,108.09 204.27,106.34 204.32,106.03 204.37,89.31 204.42,102.36 204.47,120.56 204.53,83.97 204.58,96.91 204.63,113.15 204.68,105.93 204.73,110.52 204.79,101.01 204.84,96.08 204.89,97.43 204.94,104.38 204.99,107.43 205.05,93.22 205.10,100.97 205.15,77.35 205.20,106.11 205.25,90.90 205.31,97.95 205.36,106.47 205.41,84.99 205.46,96.34 205.51,105.74 205.57,100.13 205.62,86.64 205.67,107.73 205.72,82.51 205.77,90.47 205.83,99.37 205.88,81.98 205.93,79.02 205.98,90.34 206.03,93.82 206.09,77.22 206.14,80.26 206.19,105.14 206.24,98.05 206.30,99.49 206.35,102.33 206.40,112.34 206.45,89.94 206.50,97.15 206.56,94.23 206.61,81.28 206.66,99.70 206.71,95.99 206.76,93.71 206.82,101.69 206.87,99.32 206.92,92.15 206.97,100.32 207.02,87.84 207.08,108.77 207.13,101.09 207.18,117.97 207.23,105.03 207.28,110.57 207.34,89.88 207.39,94.84 207.44,97.47 207.49,84.12 207.54,89.39 207.60,94.20 207.65,106.64 207.70,114.21 207.75,101.86 207.80,104.70 207.86,109.34 207.91,106.69 207.96,119.06 208.01,88.88 208.06,114.59 208.12,109.22 208.17,98.34 208.22,119.16 208.27,95.20 208.32,95.84 208.38,107.38 208.43,115.65 208.48,108.03 208.53,121.82 208.58,88.84 208.64,102.75 208.69,109.80 208.74,112.62 208.79,99.65 208.84,90.53 208.90,116.57 208.95,111.04 209.00,121.27 209.05,98.60 209.10,103.44 209.16,82.83 209.21,105.17 209.26,109.88 209.31,110.94 209.36,95.37 209.42,119.69 209.47,97.74 209.52,104.17 209.57,112.62 209.62,115.83 209.68,97.20 209.73,90.38 209.78,113.00 209.83,101.98 209.88,90.50 209.94,113.74 209.99,108.81 210.04,117.65 210.09,107.21 210.14,107.09 210.20,111.74 210.25,115.83 210.30,124.30 210.35,122.06 210.40,118.02 210.46,101.73 210.51,112.52 210.56,115.52 210.61,101.79 210.66,104.61 210.72,117.66 210.77,117.13 210.82,105.08 210.87,107.98 210.92,120.55 210.98,110.93 211.03,113.36 211.08,101.90 211.13,121.46 211.18,103.76 211.24,108.08 211.29,122.76 211.34,102.46 211.39,101.83 211.45,123.87 211.50,90.54 211.55,119.42 211.60,115.68 211.65,110.58 211.71,97.97 211.76,99.63 211.81,106.42 211.86,92.39 211.91,101.11 211.97,91.40 212.02,77.69 212.07,101.98 212.12,129.63 212.17,109.93 212.23,115.21 212.28,103.14 212.33,102.05 212.38,116.02 212.43,114.29 212.49,105.18 212.54,102.90 212.59,127.71 212.64,92.57 212.69,102.11 212.75,104.05 212.80,101.72 212.85,113.59 212.90,104.50 212.95,94.50 213.01,93.27 213.06,98.38 213.11,104.76 213.16,110.90 213.21,89.92 213.27,96.80 213.32,106.81 213.37,124.79 213.42,111.21 213.47,120.23 213.53,90.05 213.58,103.00 213.63,113.56 213.68,107.00 213.73,81.40 213.79,94.40 213.84,119.83 213.89,108.39 213.94,119.07 213.99,124.79 214.05,105.87 214.10,84.09 214.15,89.91 214.20,104.19 214.25,109.14 214.31,104.28 214.36,96.32 214.41,122.67 214.46,127.31 214.51,90.44 214.57,105.43 214.62,92.45 214.67,106.73 214.72,95.44 214.77,117.25 214.83,105.99 214.88,95.42 214.93,99.45 214.98,110.15 215.03,99.95 215.09,115.20 215.14,122.70 215.19,104.89 215.24,97.12 215.29,101.72 215.35,121.40 215.40,99.67 215.45,100.72 215.50,112.46 215.55,133.09 215.61,98.33 215.66,98.57 215.71,102.05 215.76,124.64 215.81,122.42 215.87,96.56 215.92,98.27 215.97,102.09 216.02,107.86 216.07,101.10 216.13,110.51 216.18,106.76 216.23,111.41 216.28,100.16 216.33,106.52 216.39,93.72 216.44,96.68 216.49,114.31 216.54,86.28 216.60,118.00 216.65,101.35 216.70,95.65 216.75,94.48 216.80,129.91 216.86,97.03 216.91,94.13 216.96,90.15 217.01,126.95 217.06,110.40 217.12,105.11 217.17,107.95 217.22,89.67 217.27,110.63 217.32,91.35 217.38,98.19 217.43,118.48 217.48,113.41 217.53,108.59 217.58,103.54 217.64,93.69 217.69,107.25 217.74,96.68 217.79,106.72 217.84,137.97 217.90,110.92 217.95,102.06 218.00,111.88 218.05,115.89 218.10,103.70 218.16,86.84 218.21,106.02 218.26,111.46 218.31,112.87 218.36,83.90 218.42,105.17 218.47,97.73 218.52,92.59 218.57,94.26 218.62,113.63 218.68,95.55 218.73,96.99 218.78,100.39 218.83,96.31 218.88,111.12 218.94,105.79 218.99,111.76 219.04,98.66 219.09,113.68 219.14,103.55 219.20,118.51 219.25,109.17 219.30,110.58 219.35,108.62 219.40,105.07 219.46,108.25 219.51,107.73 219.56,127.03 219.61,95.11 219.66,113.71 219.72,109.20 219.77,114.16 219.82,93.50 219.87,111.67 219.92,97.13 219.98,90.51 220.03,85.42 220.08,90.15 220.13,94.60 220.18,112.29 220.24,87.86 220.29,89.62 220.34,91.95 220.39,92.11 220.44,99.81 220.50,104.80 220.55,89.05 220.60,87.46 220.65,111.49 220.70,93.56 220.76,99.56 220.81,94.23 220.86,100.98 220.91,93.17 220.96,93.33 221.02,94.79 221.07,117.76 221.12,96.98 221.17,104.85 221.22,118.11 221.28,99.12 221.33,119.73 221.38,96.73 221.43,86.63 221.49,108.38 221.54,93.40 221.59,98.03 221.64,96.22 221.69,115.59 221.75,94.74 221.80,100.85 221.85,93.76 221.90,100.72 221.95,88.90 222.01,96.86 222.06,94.05 222.11,88.25 222.16,98.56 222.21,90.20 222.27,99.37 222.32,96.11 222.37,107.09 222.42,95.73 222.47,93.34 222.53,107.96 222.58,64.86 222.63,102.38 222.68,117.95 222.73,102.89 222.79,92.51 222.84,112.56 222.89,125.74 222.94,106.41 222.99,115.93 223.05,90.74 223.10,110.12 223.15,109.81 223.20,117.24 223.25,108.65 223.31,114.67 223.36,118.88 223.41,111.85 223.46,118.84 223.51,96.73 223.57,120.97 223.62,110.90 223.67,115.90 223.72,123.38 223.77,93.82 223.83,131.82 223.88,96.14 223.93,123.89 223.98,108.09 224.03,86.23 224.09,129.05 224.14,121.28 224.19,93.49 224.24,106.09 224.29,114.61 224.35,108.57 224.40,119.03 224.45,104.42 224.50,94.49 224.55,113.49 224.61,108.52 224.66,96.39 224.71,90.79 224.76,115.42 224.81,104.20 224.87,112.67 224.92,113.39 224.97,110.15 225.02,110.65 225.07,122.69 225.13,125.12 225.18,112.67 225.23,103.47 225.28,92.48 225.33,109.21 225.39,105.97 225.44,97.63 225.49,97.44 225.54,106.53 225.59,105.98 225.65,86.85 225.70,109.88 225.75,109.85 225.80,121.24 225.85,101.97 225.91,107.78 225.96,86.77 226.01,108.57 226.06,97.10 226.11,95.59 226.17,88.26 226.22,118.21 226.27,89.48 226.32,102.96 226.37,106.23 226.43,108.16 226.48,108.53 226.53,108.97 226.58,129.98 226.64,99.54 226.69,104.30 226.74,112.37 226.79,103.04 226.84,79.50 226.90,98.15 226.95,105.22 227.00,83.30 227.05,107.89 227.10,101.46 227.16,105.36 227.21,101.04 227.26,90.78 227.31,93.38 227.36,107.12 227.42,100.93 227.47,99.49 227.52,104.83 227.57,102.10 227.62,109.18 227.68,108.95 227.73,100.33 227.78,111.07 227.83,94.80 227.88,101.06 227.94,105.39 227.99,101.59 228.04,100.01 228.09,97.57 228.14,97.73 228.20,101.19 228.25,107.67 228.30,83.22 228.35,89.91 228.40,64.70 228.46,88.20 228.51,93.85 228.56,102.21 228.61,98.78 228.66,73.72 228.72,89.70 228.77,89.23 228.82,104.60 228.87,93.96 228.92,77.03 228.98,94.66 229.03,87.46 229.08,84.76 229.13,91.01 229.18,83.27 229.24,77.31 229.29,94.15 229.34,104.70 229.39,72.53 229.44,96.09 229.50,98.09 229.55,85.58 229.60,104.50 229.65,100.51 229.70,106.20 229.76,98.21 229.81,102.95 229.86,95.13 229.91,102.48 229.96,106.50 230.02,102.87 230.07,101.44 230.12,105.34 230.17,91.45 230.22,95.17 230.28,99.17 230.33,112.01 230.38,92.99 230.43,111.49 230.48,97.36 230.54,98.00 230.59,104.62 230.64,108.41 230.69,108.06 230.74,81.03 230.80,103.53 230.85,103.11 230.90,90.78 230.95,95.23 231.00,88.77 231.06,111.27 231.11,110.27 231.16,66.51 231.21,98.83 231.26,101.34 231.32,96.63 231.37,88.94 231.42,111.77 231.47,98.37 231.53,100.76 231.58,93.54 231.63,97.02 231.68,104.00 231.73,106.59 231.79,120.86 231.84,86.67 231.89,111.41 231.94,101.33 231.99,81.15 232.05,102.61 232.10,92.22 232.15,99.44 232.20,91.17 232.25,96.01 232.31,101.74 232.36,83.94 232.41,100.14 232.46,111.45 232.51,101.32 232.57,92.97 232.62,107.69 232.67,88.75 232.72,88.64 232.77,75.81 232.83,104.32 232.88,91.83 232.93,115.52 232.98,102.52 233.03,97.58 233.09,93.19 233.14,97.18 233.19,96.94 233.24,102.02 233.29,100.39 233.35,92.66 233.40,89.54 233.45,89.66 233.50,85.94 233.55,81.82 233.61,111.33 233.66,99.37 233.71,96.76 233.76,103.05 233.81,85.65 233.87,88.71 233.92,96.97 233.97,93.22 234.02,79.99 234.07,96.83 234.13,95.80 234.18,83.64 234.23,87.82 234.28,78.44 234.33,89.00 234.39,84.12 234.44,96.47 234.49,75.19 234.54,90.46 234.59,115.70 234.65,85.89 234.70,80.50 234.75,87.93 234.80,90.76 234.85,78.55 234.91,90.75 234.96,81.51 235.01,71.06 235.06,85.55 235.11,83.53 235.17,90.07 235.22,92.65 235.27,92.03 235.32,94.13 235.37,84.96 235.43,110.60 235.48,98.42 235.53,90.81 235.58,106.55 235.63,99.53 235.69,104.45 235.74,92.49 235.79,88.37 235.84,83.95 235.89,93.94 235.95,106.74 236.00,97.58 236.05,96.25 236.10,88.02 236.15,121.91 236.21,97.71 236.26,118.63 236.31,94.92 236.36,98.93 236.41,98.99 236.47,94.13 236.52,98.01 236.57,108.47 236.62,97.68 236.68,89.82 236.73,101.19 236.78,99.42 236.83,111.95 236.88,88.30 236.94,105.24 236.99,108.50 237.04,107.04 237.09,110.81 237.14,104.96 237.20,90.26 237.25,95.32 237.30,87.85 237.35,87.68 237.40,111.43 237.46,96.94 237.51,64.45 237.56,77.83 237.61,115.45 237.66,116.14 237.72,97.26 237.77,105.05 237.82,109.99 237.87,98.05 237.92,108.75 237.98,123.71 238.03,100.78 238.08,99.48 238.13,78.07 238.18,91.40 238.24,100.13 238.29,105.25 238.34,109.98 238.39,120.41 238.44,107.55 238.50,92.40 238.55,95.51 238.60,82.97 238.65,104.40 238.70,120.83 238.76,94.20 238.81,91.89 238.86,112.79 238.91,117.52 238.96,102.36 239.02,97.65 239.07,116.37 239.12,108.39 239.17,112.46 239.22,117.08 239.28,118.67 239.33,103.03 239.38,108.84 239.43,112.52 239.48,131.39 239.54,89.83 239.59,116.15 239.64,107.73 239.69,115.68 239.74,102.64 239.80,120.81 239.85,105.18 239.90,107.90 239.95,97.29 240.00,116.99 240.06,111.63 240.11,108.00 240.16,85.52 240.21,119.94 240.26,102.70 240.32,111.94 240.37,101.58 240.42,98.24 240.47,102.99 240.52,101.83 240.58,102.57 240.63,111.67 240.68,108.98 240.73,122.61 240.78,110.60 240.84,115.47 240.89,110.14 240.94,99.93 240.99,104.89 241.04,102.29 241.10,96.04 241.15,129.74 241.20,101.44 241.25,105.69 241.30,106.91 241.36,116.44 241.41,99.50 241.46,93.76 241.51,94.08 241.56,105.82 241.62,98.87 241.67,95.71 241.72,84.72 241.77,80.79 241.83,101.87 241.88,101.71 241.93,100.96 241.98,101.52 242.03,96.03 242.09,95.76 242.14,109.49 242.19,109.50 242.24,97.43 242.29,106.09 242.35,102.70 242.40,121.51 242.45,93.96 242.50,101.54 242.55,103.14 242.61,97.39 242.66,100.65 242.71,108.01 242.76,79.94 242.81,104.14 242.87,90.11 242.92,82.18 242.97,104.77 243.02,97.60 243.07,106.48 243.13,88.79 243.18,102.17 243.23,110.63 243.28,86.77 243.33,91.40 243.39,108.43 243.44,88.41 243.49,97.03 243.54,72.85 243.59,81.68 243.65,104.61 243.70,101.40 243.75,107.62 243.80,97.81 243.85,98.70 243.91,91.30 243.96,99.61 244.01,114.43 244.06,109.56 244.11,87.00 244.17,91.43 244.22,105.10 244.27,106.42 244.32,105.15 244.37,104.51 244.43,120.78 244.48,96.41 244.53,113.03 244.58,105.48 244.63,130.57 244.69,104.00 244.74,92.38 244.79,127.15 244.84,90.84 244.89,101.24 244.95,112.49 245.00,118.88 245.05,92.00 245.10,100.53 245.15,97.92 245.21,106.96 245.26,110.64 245.31,95.60 245.36,114.06 245.41,96.19 245.47,121.38 245.52,112.29 245.57,86.56 245.62,92.52 245.67,121.36 245.73,116.48 245.78,99.64 245.83,103.32 245.88,82.77 245.93,87.01 245.99,100.27 246.04,98.57 246.09,120.01 246.14,112.58 246.19,109.29 246.25,106.39 246.30,118.12 246.35,112.73 246.40,111.95 246.45,93.84 246.51,93.37 246.56,106.31 246.61,104.44 246.66,101.01 246.72,111.44 246.77,105.54 246.82,119.99 246.87,98.16 246.92,95.30 246.98,101.16 247.03,100.10 247.08,64.93 247.13,85.64 247.18,103.77 247.24,118.15 247.29,116.20 247.34,99.39 247.39,96.01 247.44,97.56 247.50,96.50 247.55,102.89 247.60,118.55 247.65,110.62 247.70,120.24 247.76,106.03 247.81,113.84 247.86,98.55 247.91,101.29 247.96,119.01 248.02,92.34 248.07,91.71 248.12,112.76 248.17,99.42 248.22,95.67 248.28,105.14 248.33,93.35 248.38,99.13 248.43,91.84 248.48,99.52 248.54,103.49 248.59,96.63 248.64,93.66 248.69,99.66 248.74,107.04 248.80,112.32 248.85,109.12 248.90,112.69 248.95,104.63 249.00,104.83 249.06,90.21 249.11,105.18 249.16,104.05 249.21,90.13 249.26,93.96 249.32,110.63 249.37,100.60 249.42,108.79 249.47,106.49 249.52,107.81 249.58,111.75 249.63,118.02 249.68,127.10 249.73,101.57 249.78,92.36 249.84,114.77 249.89,101.10 249.94,110.12 249.99,95.76 250.04,115.76 250.10,109.49 250.15,108.90 250.20,131.20 250.25,106.73 250.30,109.31 250.36,133.42 250.41,103.08 250.46,107.74 250.51,105.27 250.56,103.21 250.62,110.84 250.67,118.27 250.72,112.05 250.77,111.38 250.82,86.44 250.88,89.66 250.93,111.12 250.98,109.33 251.03,103.59 251.08,102.05 251.14,115.72 251.19,117.58 251.24,88.26 251.29,96.07 251.34,122.30 251.40,125.37 251.45,116.01 251.50,105.58 251.55,103.06 251.60,111.48 251.66,123.22 251.71,104.97 251.76,102.10 251.81,109.86 251.87,114.76 251.92,103.96 251.97,110.22 252.02,120.87 252.07,109.45 252.13,122.19 252.18,99.96 252.23,104.53 252.28,119.64 252.33,108.21 252.39,97.68 252.44,131.73 252.49,113.05 252.54,95.61 252.59,125.64 252.65,111.68 252.70,122.48 252.75,109.15 252.80,132.23 252.85,125.75 252.91,115.46 252.96,107.29 253.01,104.48 253.06,103.21 253.11,95.34 253.17,99.70 253.22,99.42 253.27,116.14 253.32,107.34 253.37,73.95 253.43,82.48 253.48,96.48 253.53,98.06 253.58,95.81 253.63,110.38 253.69,86.05 253.74,95.96 253.79,108.23 253.84,83.59 253.89,125.94 253.95,102.82 254.00,123.38 254.05,111.53 254.10,106.10 254.15,108.08 254.21,102.76 254.26,112.42 254.31,102.88 254.36,113.61 254.41,106.27 254.47,116.69 254.52,96.11 254.57,115.12 254.62,94.74 254.67,105.67 254.73,105.98 254.78,90.79 254.83,101.77 254.88,121.97 254.93,99.60 254.99,133.92 255.04,103.09 255.09,109.71 255.14,120.95 255.19,106.12 255.25,109.77 255.30,87.71 255.35,112.51 255.40,89.49 255.45,94.07 255.51,116.18 255.56,118.37 255.61,98.44 255.66,113.14 255.71,109.17 255.77,113.70 255.82,122.89 255.87,115.12 255.92,118.96 255.97,123.66 256.03,97.53 256.08,90.52 256.13,93.09 256.18,108.71 256.23,106.80 256.29,103.15 256.34,94.24 256.39,105.72 256.44,112.81 256.49,111.82 256.55,96.01 256.60,81.82 256.65,113.56 256.70,128.39 256.75,98.74 256.81,106.49 256.86,103.44 256.91,91.94 256.96,103.05 257.02,119.56 257.07,125.10 257.12,106.12 257.17,117.12 257.22,102.84 257.28,119.77 257.33,110.95 257.38,121.45 257.43,108.95 257.48,110.33 257.54,100.68 257.59,91.75 257.64,107.86 257.69,112.68 257.74,84.35 257.80,101.17 257.85,97.74 257.90,96.20 257.95,89.10 258.00,92.13 258.06,95.78 258.11,93.55 258.16,110.31 258.21,109.35 258.26,103.87 258.32,101.04 258.37,99.90 258.42,95.50 258.47,97.86 258.52,102.82 258.58,115.49 258.63,91.22 258.68,65.57 258.73,109.72 258.78,98.37 258.84,99.26 258.89,102.55 258.94,97.67 258.99,112.43 259.04,106.92 259.10,84.24 259.15,110.34 259.20,105.84 259.25,115.31 259.30,107.76 259.36,98.87 259.41,97.53 259.46,132.05 259.51,96.03 259.56,101.92 259.62,108.05 259.67,93.11 259.72,93.73 259.77,124.48 259.82,92.18 259.88,88.55 259.93,111.21 259.98,106.57 260.03,94.73 260.08,106.00 260.14,115.14 260.19,109.23 260.24,114.09 260.29,94.66 260.34,116.96 260.40,90.55 260.45,117.92 260.50,100.42 260.55,65.68 260.60,101.57 260.66,86.14 260.71,85.08 260.76,83.30 260.81,96.61 260.86,94.88 260.92,93.93 260.97,78.67 261.02,100.78 261.07,86.93 261.12,94.44 261.18,87.73 261.23,93.56 261.28,92.69 261.33,106.21 261.38,104.70 261.44,114.03 261.49,103.02 261.54,102.69 261.59,92.56 261.64,114.17 261.70,71.22 261.75,104.71 261.80,65.75 261.85,93.72 261.91,129.00 261.96,107.05 262.01,90.53 262.06,129.70 262.11,98.19 262.17,112.95 262.22,109.91 262.27,102.25 262.32,122.35 262.37,103.48 262.43,113.53 262.48,113.97 262.53,99.77 262.58,71.12 262.63,101.83 262.69,100.03 262.74,107.07 262.79,111.69 262.84,106.11 262.89,94.18 262.95,107.11 263.00,99.70 263.05,112.11 263.10,82.72 263.15,123.52 263.21,100.20 263.26,101.70 263.31,104.77 263.36,119.09 263.41,119.60 263.47,111.47 263.52,107.56 263.57,120.42 263.62,118.50 263.67,101.27 263.73,96.48 263.78,112.25 263.83,116.12 263.88,116.87 263.93,84.56 263.99,103.51 264.04,109.26 264.09,98.59 264.14,86.13 264.19,96.68 264.25,123.11 264.30,110.05 264.35,113.82 264.40,112.53 264.45,121.69 264.51,114.80 264.56,121.01 264.61,107.18 264.66,109.63 264.71,123.81 264.77,125.49 264.82,112.06 264.87,101.14 264.92,102.78 264.97,109.53 265.03,140.44 265.08,111.67 265.13,112.79 265.18,108.99 265.23,119.78 265.29,110.34 265.34,112.56 265.39,78.36 265.44,98.53 265.49,106.94 265.55,104.97 265.60,107.17 265.65,103.03 265.70,109.49 265.75,68.66 265.81,93.85 265.86,94.97 265.91,100.59 265.96,92.04 266.01,103.03 266.07,114.66 266.12,122.45 266.17,113.01 266.22,107.33 266.27,103.79 266.33,96.66 266.38,112.45 266.43,113.77 266.48,98.54 266.53,94.18 266.59,110.30 266.64,102.54 266.69,92.19 266.74,100.80 266.79,104.41 266.85,124.00 266.90,90.17 266.95,97.03 267.00,103.89 267.06,109.85 267.11,116.60 267.16,103.12 267.21,102.16 267.26,89.50 267.32,112.83 267.37,86.80 267.42,101.21 267.47,89.14 267.52,111.70 267.58,97.66 267.63,89.89 267.68,102.75 267.73,119.67 267.78,109.75 267.84,102.26 267.89,120.59 267.94,121.18 267.99,104.02 268.04,114.83 268.10,97.23 268.15,116.40 268.20,121.82 268.25,110.84 268.30,88.06 268.36,111.41 268.41,104.16 268.46,102.38 268.51,114.51 268.56,93.41 268.62,102.96 268.67,100.38 268.72,100.10 268.77,120.27 268.82,129.73 268.88,102.84 268.93,103.73 268.98,94.53 269.03,86.66 269.08,104.52 269.14,105.23 269.19,96.54 269.24,85.99 269.29,110.64 269.34,95.69 269.40,102.84 269.45,103.78 269.50,91.22 269.55,107.92 269.60,111.32 269.66,94.66 269.71,101.84 269.76,102.62 269.81,102.53 269.86,94.79 269.92,104.59 269.97,93.52 270.02,96.38 270.07,85.20 270.12,87.25 270.18,93.03 270.23,93.53 270.28,101.26 270.33,106.09 270.38,71.85 270.44,102.66 270.49,96.05 270.54,88.52 270.59,117.13 270.64,110.87 270.70,106.85 270.75,112.40 270.80,115.86 270.85,108.83 270.90,89.51 270.96,96.19 271.01,104.82 271.06,104.49 271.11,122.51 271.16,99.23 271.22,101.05 271.27,116.93 271.32,103.14 271.37,107.77 271.42,109.63 271.48,113.13 271.53,110.47 271.58,113.38 271.63,100.10 271.68,78.11 271.74,100.25 271.79,106.70 271.84,108.11 271.89,84.79 271.95,124.73 272.00,95.68 272.05,102.09 272.10,104.87 272.15,110.42 272.21,108.12 272.26,116.80 272.31,120.77 272.36,107.89 272.41,121.27 272.47,96.61 272.52,93.83 272.57,138.87 272.62,120.71 272.67,102.39 272.73,102.09 272.78,102.94 272.83,99.51 272.88,96.61 272.93,95.14 272.99,85.86 273.04,102.21 273.09,93.22 273.14,118.46 273.19,105.86 273.25,116.11 273.30,89.25 273.35,80.71 273.40,81.87 273.45,120.05 273.51,107.22 273.56,106.75 273.61,105.41 273.66,96.21 273.71,96.36 273.77,132.45 273.82,92.27 273.87,111.41 273.92,110.48 273.97,89.69 274.03,106.68 274.08,119.06 274.13,119.33 274.18,104.90 274.23,97.03 274.29,90.22 274.34,106.62 274.39,109.33 274.44,87.77 274.49,108.18 274.55,89.82 274.60,102.39 274.65,100.19 274.70,106.11 274.75,101.26 274.81,107.91 274.86,108.11 274.91,105.60 274.96,112.00 275.01,101.93 275.07,103.17 275.12,105.37 275.17,104.76 275.22,104.14 275.27,85.48 275.33,102.89 275.38,109.44 275.43,106.33 275.48,96.09 275.53,103.80 275.59,104.31 275.64,104.25 275.69,100.57 275.74,66.45 275.79,99.02 275.85,121.23 275.90,115.54 275.95,130.90 276.00,94.35 276.05,93.19 276.11,91.58 276.16,103.16 276.21,94.44 276.26,106.24 276.31,107.84 276.37,122.41 276.42,114.84 276.47,112.69 276.52,99.05 276.57,92.99 276.63,114.42 276.68,105.41 276.73,105.92 276.78,115.47 276.83,123.66 276.89,113.47 276.94,120.30 276.99,110.01 277.04,109.08 277.10,109.83 277.15,109.36 277.20,102.55 277.25,116.62 277.30,98.50 277.36,123.43 277.41,105.85 277.46,102.26 277.51,113.74 277.56,122.24 277.62,100.84 277.67,113.43 277.72,98.44 277.77,98.74 277.82,106.82 277.88,104.61 277.93,95.44 277.98,101.73 278.03,114.55 278.08,104.61 278.14,100.61 278.19,102.41 278.24,101.69 278.29,104.50 278.34,103.72 278.40,111.84 278.45,115.96 278.50,90.70 278.55,108.76 278.60,100.17 278.66,116.59 278.71,99.84 278.76,109.14 278.81,73.32 278.86,111.99 278.92,109.38 278.97,89.29 279.02,87.84 279.07,121.10 279.12,97.47 279.18,92.32 279.23,112.69 279.28,94.33 279.33,105.60 279.38,109.16 279.44,104.77 279.49,105.71 279.54,115.71 279.59,81.02 279.64,108.43 279.70,111.56 279.75,94.70 279.80,105.38 279.85,90.43 279.90,104.51 279.96,97.90 280.01,100.07 280.06,99.47 280.11,104.40 280.16,102.95 280.22,84.99 280.27,107.82 280.32,104.22 280.37,101.72 280.42,92.45 280.48,92.88 280.53,89.07 280.58,112.91 280.63,66.51 280.68,102.61 280.74,103.18 280.79,99.15 280.84,118.82 280.89,95.34 280.94,96.10 281.00,112.28 281.05,98.69 281.10,81.85 281.15,102.28 281.20,92.42 281.26,100.08 281.31,105.90 281.36,105.74 281.41,99.67 281.46,83.89 281.52,88.81 281.57,104.91 281.62,87.70 281.67,99.88 281.72,104.79 281.78,93.53 281.83,106.14 281.88,113.02 281.93,86.23 281.98,115.67 282.04,92.60 282.09,111.98 282.14,97.02 282.19,98.31 282.25,99.26 282.30,116.52 282.35,94.98 282.40,87.13 282.45,103.95 282.51,96.26 282.56,86.18 282.61,103.35 282.66,93.65 282.71,106.27 282.77,93.15 282.82,90.81 282.87,73.52 282.92,88.20 282.97,66.53 283.03,83.64 283.08,107.95 283.13,87.14 283.18,102.37 283.23,103.70 283.29,86.96 283.34,96.98 283.39,86.10 283.44,112.83 283.49,96.56 283.55,103.55 283.60,103.14 283.65,121.11 283.70,94.45 283.75,102.09 283.81,113.86 283.86,117.50 283.91,112.88 283.96,89.91 284.01,105.12 284.07,108.60 284.12,101.60 284.17,104.32 284.22,104.34 284.27,99.41 284.33,102.05 284.38,96.21 284.43,117.32 284.48,104.95 284.53,108.22 284.59,102.57 284.64,104.87 284.69,110.01 284.74,97.38 284.79,93.28 284.85,106.76 284.90,113.96 284.95,97.35 285.00,93.32 285.05,103.91 285.11,99.48 285.16,108.84 285.21,100.51 285.26,88.82 285.31,91.12 285.37,98.22 285.42,102.46 285.47,115.78 285.52,95.48 285.57,95.13 285.63,89.93 285.68,82.13 285.73,97.80 285.78,92.63 285.83,112.60 285.89,90.97 285.94,94.66 285.99,88.90 286.04,95.85 286.09,97.51 286.15,87.08 286.20,108.42 286.25,97.16 286.30,91.99 286.35,110.13 286.41,112.86 286.46,99.33 286.51,103.90 286.56,101.13 286.61,100.23 286.67,110.58 286.72,102.84 286.77,95.13 286.82,109.40 286.87,107.96 286.93,116.42 286.98,97.09 287.03,85.89 287.08,120.22 287.14,99.76 287.19,97.05 287.24,111.61 287.29,109.86 287.34,116.91 287.40,114.74 287.45,104.38 287.50,99.84 287.55,105.94 287.60,101.55 287.66,108.24 287.71,123.24 287.76,66.59 287.81,100.81 287.86,118.34 287.92,82.79 287.97,107.38 288.02,110.00 288.07,93.15 288.12,135.19 288.18,127.81 288.23,106.16 288.28,116.53 288.33,124.07 288.38,99.07 288.44,109.94 288.49,127.84 288.54,122.40 288.59,107.22 288.64,98.06 288.70,133.76 288.75,112.21 288.80,119.23 288.85,132.63 288.90,116.88 288.96,131.39 289.01,120.42 289.06,97.46 289.11,108.47 289.16,105.56 289.22,105.82 289.27,108.58 289.32,103.13 289.37,124.69 289.42,116.22 289.48,103.70 289.53,119.00 289.58,115.91 289.63,98.53 289.68,94.38 289.74,116.34 289.79,118.22 289.84,104.34 289.89,106.57 289.94,115.82 290.00,103.93 290.05,104.63 290.10,110.71 290.15,82.74 290.20,98.46 290.26,103.13 290.31,101.86 290.36,83.20 290.41,102.03 290.46,120.47 290.52,109.45 290.57,112.06 290.62,117.67 290.67,110.43 290.72,110.20 290.78,114.52 290.83,118.90 290.88,106.29 290.93,129.09 290.98,105.11 291.04,112.97 291.09,109.39 291.14,134.82 291.19,94.64 291.24,126.99 291.30,118.47 291.35,103.91 291.40,115.65 291.45,113.97 291.50,131.27 291.56,112.62 291.61,105.42 291.66,101.17 291.71,111.70 291.76,106.71 291.82,104.59 291.87,114.32 291.92,115.35 291.97,89.03 292.02,115.69 292.08,95.76 292.13,107.16 292.18,91.84 292.23,111.05 292.29,99.21 292.34,100.82 292.39,107.20 292.44,101.46 292.49,111.97 292.55,105.09 292.60,108.71 292.65,97.42 292.70,105.93 292.75,118.36 292.81,107.11 292.86,104.17 292.91,113.62 292.96,92.74 293.01,103.23 293.07,99.64 293.12,114.74 293.17,110.75 293.22,97.53 293.27,121.06 293.33,104.14 293.38,108.10 293.43,115.05 293.48,109.94 293.53,119.87 293.59,108.29 293.64,121.08 293.69,120.33 293.74,94.30 293.79,114.79 293.85,129.09 293.90,98.85 293.95,115.24 294.00,142.05 294.05,107.21 294.11,96.46 294.16,101.77 294.21,88.11 294.26,106.23 294.31,98.85 294.37,115.62 294.42,103.79 294.47,90.23 294.52,101.08 294.57,102.43 294.63,124.31 294.68,109.48 294.73,118.14 294.78,99.72 294.83,115.23 294.89,105.80 294.94,119.92 294.99,91.64 295.04,121.17 295.09,107.20 295.15,81.98 295.20,104.47 295.25,114.56 295.30,100.41 295.35,95.67 295.41,97.32 295.46,125.71 295.51,102.86 295.56,125.13 295.61,85.52 295.67,102.78 295.72,107.26 295.77,97.49 295.82,99.44 295.87,116.98 295.93,89.32 295.98,108.27 296.03,121.89 296.08,90.45 296.13,89.93 296.19,92.71 296.24,100.78 296.29,114.88 296.34,96.39 296.39,87.10 296.45,99.15 296.50,91.69 296.55,114.53 296.60,96.56 296.65,96.28 296.71,121.35 296.76,122.18 296.81,113.85 296.86,105.75 296.91,101.70 296.97,107.74 297.02,106.70 297.07,106.99 297.12,106.08 297.18,102.46 297.23,102.74 297.28,108.16 297.33,106.51 297.38,114.19 297.44,101.76 297.49,113.04 297.54,90.85 297.59,106.50 297.64,105.19 297.70,115.42 297.75,86.56 297.80,105.38 297.85,106.40 297.90,112.91 297.96,116.59 298.01,103.40 298.06,102.43 298.11,99.49 298.16,90.74 298.22,106.72 298.27,122.29 298.32,102.35 298.37,120.18 298.42,114.50 298.48,92.07 298.53,96.28 298.58,108.06 298.63,106.31 298.68,100.54 298.74,117.20 298.79,94.25 298.84,102.90 298.89,81.80 298.94,108.57 299.00,89.17 299.05,106.47 299.10,89.79 299.15,110.71 299.20,95.86 299.26,106.57 299.31,111.21 299.36,105.12 299.41,99.33 299.46,101.00 299.52,90.40 299.57,97.73 299.62,129.73 299.67,107.00 299.72,122.15 299.78,107.72 299.83,97.83 299.88,118.38 299.93,116.14 299.98,103.28 300.04,107.56 300.09,89.15 300.14,102.20 300.19,101.53 300.24,88.92 300.30,112.46 300.35,108.55 300.40,118.55 300.45,106.73 300.50,98.70 300.56,84.36 300.61,107.99 300.66,114.43 300.71,114.91 300.76,120.30 300.82,106.96 300.87,94.29 300.92,132.03 300.97,131.16 301.02,95.59 301.08,125.68 301.13,105.79 301.18,120.43 301.23,102.27 301.28,102.21 301.34,106.36 301.39,98.98 301.44,105.29 301.49,100.10 301.54,88.93 301.60,97.12 301.65,113.81 301.70,114.32 301.75,109.37 301.80,109.48 301.86,106.21 301.91,114.49 301.96,102.26 302.01,106.77 302.06,101.51 302.12,105.14 302.17,97.44 302.22,115.95 302.27,89.19 302.33,103.51 302.38,101.57 302.43,100.30 302.48,93.45 302.53,96.61 302.59,101.44 302.64,97.37 302.69,120.45 302.74,102.38 302.79,107.79 302.85,109.85 302.90,81.99 302.95,123.38 303.00,104.95 303.05,93.39 303.11,95.53 303.16,91.89 303.21,116.72 303.26,112.13 303.31,96.76 303.37,106.47 303.42,87.03 303.47,104.13 303.52,105.16 303.57,101.75 303.63,108.56 303.68,105.42 303.73,112.94 303.78,108.44 303.83,113.05 303.89,105.14 303.94,121.03 303.99,122.44 304.04,102.16 304.09,102.71 304.15,114.93 304.20,106.93 304.25,92.43 304.30,87.67 304.35,122.78 304.41,90.17 304.46,115.10 304.51,99.29 304.56,110.23 304.61,110.59 304.67,95.90 304.72,97.29 304.77,109.77 304.82,114.70 304.87,84.55 304.93,90.56 304.98,102.94 305.03,105.18 305.08,99.35 305.13,101.06 305.19,91.81 305.24,113.84 305.29,104.71 305.34,112.73 305.39,91.68 305.45,87.46 305.50,104.66 305.55,99.43 305.60,91.26 305.65,107.96 305.71,115.41 305.76,95.28 305.81,99.98 305.86,107.34 305.91,89.03 305.97,101.16 306.02,120.95 306.07,100.80 306.12,106.39 306.17,87.71 306.23,106.79 306.28,109.05 306.33,101.91 306.38,105.98 306.43,123.32 306.49,109.72 306.54,112.76 306.59,95.97 306.64,86.42 306.69,122.18 306.75,119.67 306.80,118.67 306.85,116.48 306.90,118.54 306.95,109.88 307.01,99.10 307.06,122.15 307.11,123.25 307.16,126.36 307.21,97.20 307.27,94.25 307.32,122.16 307.37,123.29 307.42,105.73 307.48,96.59 307.53,96.64 307.58,103.88 307.63,99.01 307.68,100.78 307.74,110.97 307.79,86.75 307.84,104.10 307.89,115.53 307.94,110.64 308.00,119.98 308.05,104.03 308.10,94.45 308.15,117.15 308.20,94.39 308.26,86.03 308.31,103.12 308.36,118.74 308.41,116.67 308.46,111.77 308.52,121.98 308.57,121.49 308.62,111.57 308.67,109.98 308.72,102.51 308.78,121.54 308.83,92.16 308.88,84.19 308.93,100.36 308.98,114.75 309.04,91.54 309.09,111.21 309.14,90.79 309.19,97.13 309.24,116.91 309.30,111.73 309.35,88.04 309.40,96.87 309.45,107.99 309.50,105.36 309.56,105.42 309.61,113.98 309.66,104.50 309.71,108.49 309.76,106.21 309.82,98.35 309.87,111.57 309.92,96.48 309.97,103.38 310.02,96.59 310.08,96.47 310.13,91.50 310.18,96.66 310.23,96.47 310.28,105.83 310.34,99.64 310.39,115.51 310.44,108.56 310.49,98.08 310.54,105.69 310.60,100.51 310.65,115.93 310.70,91.53 310.75,112.18 310.80,102.49 310.86,105.24 310.91,94.54 310.96,108.06 311.01,114.52 311.06,122.18 311.12,104.79 311.17,115.08 311.22,98.37 311.27,89.19 311.32,124.51 311.38,116.08 311.43,76.67 311.48,90.83 311.53,97.92 311.58,97.47 311.64,95.92 311.69,95.66 311.74,84.19 311.79,93.94 311.84,113.49 311.90,105.78 311.95,100.35 312.00,111.27 312.05,107.05 312.10,110.92 312.16,113.28 312.21,100.28 312.26,110.49 312.31,116.70 312.37,113.15 312.42,106.67 312.47,85.24 312.52,105.50 312.57,95.00 312.63,104.02 312.68,129.60 312.73,103.46 312.78,115.84 312.83,121.93 312.89,119.54 312.94,90.39 312.99,124.51 313.04,115.50 313.09,98.96 313.15,104.78 313.20,127.46 313.25,110.96 313.30,115.92 313.35,113.55 313.41,104.44 313.46,116.95 313.51,115.29 313.56,97.51 313.61,132.17 313.67,118.42 313.72,109.35 313.77,125.35 313.82,120.05 313.87,127.31 313.93,111.66 313.98,119.54 314.03,105.74 314.08,102.67 314.13,111.97 314.19,114.97 314.24,107.68 314.29,110.07 314.34,122.72 314.39,99.80 314.45,109.31 314.50,104.40 314.55,124.73 314.60,103.69 314.65,90.30 314.71,104.71 314.76,125.26 314.81,109.77 314.86,110.13 314.91,106.12 314.97,110.90 315.02,103.73 315.07,113.43 315.12,104.66 315.17,112.89 315.23,105.86 315.28,97.17 315.33,112.58 315.38,100.94 315.43,116.17 315.49,108.85 315.54,109.18 315.59,78.37 315.64,113.04 315.69,93.87 315.75,120.75 315.80,108.13 315.85,97.36 315.90,98.56 315.95,116.95 316.01,117.82 316.06,97.18 316.11,117.12 316.16,98.37 316.21,108.25 316.27,102.70 316.32,78.55 316.37,86.23 316.42,91.58 316.47,115.78 316.53,98.26 316.58,99.10 316.63,102.64 316.68,88.56 316.73,118.20 316.79,99.12 316.84,101.32 316.89,108.21 316.94,82.28 316.99,113.16 317.05,99.04 317.10,97.60 317.15,119.79 317.20,112.04 317.25,94.95 317.31,90.87 317.36,89.95 317.41,92.95 317.46,96.54 317.52,119.40 317.57,66.95 317.62,105.49 317.67,89.08 317.72,87.19 317.78,78.05 317.83,93.40 317.88,93.22 317.93,110.42 317.98,100.06 318.04,112.68 318.09,91.74 318.14,113.88 318.19,102.87 318.24,111.35 318.30,108.66 318.35,99.02 318.40,109.60 318.45,101.09 318.50,113.47 318.56,89.89 318.61,108.37 318.66,92.07 318.71,81.01 318.76,127.88 318.82,114.13 318.87,105.68 318.92,91.41 318.97,108.03 319.02,100.06 319.08,110.56 319.13,99.21 319.18,117.32 319.23,96.98 319.28,136.11 319.34,124.89 319.39,88.24 319.44,105.44 319.49,114.43 319.54,82.61 319.60,93.07 319.65,92.27 319.70,106.98 319.75,95.83 319.80,95.94 319.86,115.62 319.91,93.37 319.96,101.10 320.01,86.51 320.06,89.67 320.12,110.59 320.17,110.19 320.22,101.61 320.27,83.89 320.32,107.18 320.38,103.06 320.43,96.20 320.48,96.85 320.53,87.88 320.58,96.90 320.64,109.28 320.69,116.89 320.74,91.24 320.79,103.26 320.84,103.43 320.90,103.46 320.95,115.51 321.00,103.02 321.05,124.36 321.10,101.82 321.16,107.71 321.21,80.43 321.26,93.81 321.31,101.03 321.36,94.71 321.42,89.44 321.47,105.20 321.52,99.02 321.57,99.82 321.62,71.38 321.68,96.19 321.73,116.63 321.78,88.14 321.83,69.57 321.88,98.75 321.94,67.00 321.99,96.20 322.04,84.99 322.09,103.92 322.14,101.93 322.20,112.52 322.25,111.08 322.30,122.04 322.35,88.00 322.41,110.80 322.46,95.67 322.51,96.19 322.56,104.65 322.61,98.32 322.67,99.65 322.72,102.44 322.77,96.79 322.82,98.85 322.87,109.52 322.93,112.83 322.98,108.52 323.03,97.84 323.08,84.74 323.13,84.25 323.19,95.33 323.24,88.66 323.29,97.11 323.34,87.03 323.39,96.90 323.45,94.69 323.50,102.16 323.55,99.45 323.60,81.09 323.65,113.86 323.71,100.52 323.76,106.89 323.81,91.22 323.86,82.72 323.91,104.45 323.97,129.57 324.02,95.09 324.07,95.90 324.12,118.55 324.17,104.56 324.23,101.90 324.28,126.63 324.33,97.17 324.38,98.66 324.43,100.88 324.49,114.77 324.54,110.88 324.59,111.05 324.64,99.61 324.69,116.56 324.75,91.91 324.80,103.51 324.85,129.03 324.90,88.70 324.95,105.01 325.01,110.71 325.06,104.56 325.11,126.10 325.16,107.57 325.21,133.09 325.27,118.38 325.32,94.54 325.37,96.04 325.42,113.30 325.47,118.30 325.53,98.81 325.58,107.11 325.63,104.54 325.68,102.36 325.73,118.89 325.79,99.97 325.84,114.42 325.89,91.66 325.94,122.91 325.99,112.12 326.05,112.50 326.10,98.82 326.15,98.11 326.20,102.59 326.25,99.52 326.31,99.38 326.36,104.88 326.41,123.19 326.46,126.75 326.51,126.99 326.57,103.08 326.62,105.19 326.67,103.76 326.72,100.95 326.77,105.61 326.83,113.11 326.88,119.05 326.93,123.51 326.98,92.02 327.03,67.06 327.09,118.42 327.14,106.91 327.19,98.18 327.24,86.04 327.29,110.15 327.35,102.05 327.40,91.01 327.45,121.07" fill="none" stroke="#00BFC4" stroke-width="0.6" stroke-opacity="1.0" stroke-linejoin="bevel"/>
<polyline points="67.40,201.80 67.45,195.58 67.50,198.26 67.56,191.54 67.61,196.49 67.66,195.36 67.71,194.29 67.76,190.52 67.82,193.07 67.87,181.14 67.92,188.82 67.97,180.33 68.02,185.91 68.08,185.18 68.13,185.12 68.18,183.88 68.23,178.42 68.28,174.02 68.34,177.34 68.39,179.64 68.44,174.37 68.49,178.01 68.54,185.13 68.60,172.75 68.65,179.95 68.70,174.90 68.75,175.37 68.80,173.25 68.86,171.51 68.91,161.87 68.96,163.07 69.01,159.60 69.06,164.38 69.12,163.82 69.17,156.24 69.22,167.31 69.27,161.37 69.32,161.82 69.38,160.75 69.43,158.90 69.48,160.46 69.53,156.60 69.58,164.27 69.64,156.65 69.69,163.17 69.74,152.15 69.79,151.75 69.84,157.79 69.90,159.00 69.95,154.74 70.00,150.65 70.05,162.19 70.11,158.95 70.16,147.83 70.21,153.53 70.26,159.90 70.31,164.98 70.37,154.60 70.42,162.27 70.47,151.02 70.52,152.54 70.57,140.58 70.63,158.71 70.68,147.31 70.73,158.89 70.78,157.49 70.83,152.66 70.89,156.00 70.94,138.07 70.99,151.75 71.04,156.65 71.09,136.90 71.15,156.81 71.20,153.11 71.25,152.74 71.30,156.97 71.35,147.30 71.41,143.23 71.46,159.86 71.51,153.28 71.56,151.88 71.61,158.23 71.67,156.82 71.72,149.90 71.77,154.03 71.82,145.54 71.87,140.91 71.93,144.74 71.98,143.00 72.03,152.34 72.08,150.16 72.13,142.17 72.19,139.53 72.24,144.27 72.29,138.99 72.34,145.90 72.39,152.72 72.45,140.33 72.50,147.00 72.55,155.76 72.60,135.76 72.65,138.58 72.71,135.88 72.76,145.46 72.81,130.12 72.86,138.73 72.91,133.92 72.97,147.31 73.02,144.72 73.07,130.78 73.12,140.73 73.17,140.09 73.23,127.83 73.28,128.93 73.33,136.61 73.38,122.53 73.43,149.80 73.49,139.42 73.54,145.06 73.59,128.30 73.64,126.66 73.69,143.31 73.75,138.76 73.80,132.93 73.85,135.62 73.90,138.02 73.95,133.55 74.01,125.21 74.06,139.85 74.11,149.49 74.16,140.47 74.21,138.76 74.27,141.11 74.32,132.60 74.37,134.33 74.42,132.68 74.47,136.34 74.53,136.94 74.58,146.29 74.63,140.42 74.68,143.51 74.73,134.12 74.79,137.86 74.84,138.12 74.89,133.92 74.94,140.46 75.00,128.57 75.05,129.52 75.10,145.02 75.15,124.77 75.20,139.50 75.26,143.00 75.31,139.78 75.36,146.72 75.41,132.04 75.46,124.11 75.52,146.39 75.57,131.65 75.62,130.61 75.67,130.20 75.72,130.27 75.78,132.93 75.83,138.98 75.88,128.83 75.93,132.88 75.98,129.10 76.04,134.18 76.09,138.88 76.14,137.25 76.19,132.25 76.24,128.14 76.30,152.58 76.35,145.27 76.40,147.29 76.45,139.42 76.50,142.97 76.56,134.92 76.61,138.89 76.66,125.72 76.71,142.50 76.76,144.67 76.82,147.33 76.87,140.78 76.92,135.67 76.97,141.52 77.02,143.48 77.08,148.88 77.13,135.81 77.18,141.21 77.23,145.64 77.28,140.37 77.34,136.53 77.39,122.65 77.44,124.92 77.49,144.47 77.54,140.64 77.60,151.93 77.65,153.76 77.70,151.09 77.75,128.94 77.80,138.89 77.86,150.01 77.91,144.23 77.96,142.84 78.01,143.91 78.06,128.86 78.12,155.25 78.17,142.14 78.22,137.11 78.27,133.91 78.32,154.39 78.38,134.43 78.43,144.81 78.48,140.74 78.53,148.42 78.58,130.35 78.64,112.44 78.69,127.41 78.74,139.33 78.79,150.24 78.84,128.48 78.90,125.95 78.95,144.64 79.00,127.63 79.05,148.43 79.10,145.09 79.16,134.22 79.21,147.41 79.26,130.14 79.31,124.78 79.36,137.18 79.42,133.48 79.47,125.71 79.52,134.84 79.57,128.67 79.62,127.88 79.68,146.73 79.73,118.92 79.78,126.20 79.83,133.23 79.88,128.19 79.94,131.15 79.99,132.09 80.04,142.06 80.09,137.13 80.15,137.98 80.20,127.12 80.25,132.33 80.30,132.68 80.35,137.16 80.41,126.85 80.46,158.21 80.51,145.73 80.56,131.72 80.61,143.92 80.67,135.40 80.72,127.53 80.77,134.67 80.82,154.80 80.87,144.30 80.93,151.00 80.98,138.09 81.03,133.78 81.08,146.26 81.13,139.16 81.19,145.88 81.24,127.79 81.29,142.80 81.34,142.00 81.39,139.32 81.45,136.86 81.50,137.08 81.55,144.33 81.60,143.41 81.65,140.34 81.71,139.75 81.76,146.19 81.81,149.46 81.86,146.65 81.91,140.35 81.97,147.51 82.02,152.18 82.07,146.68 82.12,149.34 82.17,141.44 82.23,150.74 82.28,148.98 82.33,130.12 82.38,140.08 82.43,151.04 82.49,133.41 82.54,145.88 82.59,151.02 82.64,138.44 82.69,156.12 82.75,145.35 82.80,137.89 82.85,137.44 82.90,147.58 82.95,146.97 83.01,143.36 83.06,132.69 83.11,157.61 83.16,134.34 83.21,140.39 83.27,132.53 83.32,151.30 83.37,132.17 83.42,149.27 83.47,140.50 83.53,146.26 83.58,160.52 83.63,140.47 83.68,137.72 83.73,133.61 83.79,146.32 83.84,149.24 83.89,133.65 83.94,141.16 83.99,129.58 84.05,124.61 84.10,137.84 84.15,137.16 84.20,142.71 84.25,153.82 84.31,137.00 84.36,131.53 84.41,126.53 84.46,135.48 84.51,121.01 84.57,139.57 84.62,136.07 84.67,140.03 84.72,139.38 84.77,138.80 84.83,140.94 84.88,138.76 84.93,132.10 84.98,133.95 85.03,144.84 85.09,133.37 85.14,144.72 85.19,134.49 85.24,137.59 85.30,153.44 85.35,147.39 85.40,130.90 85.45,145.08 85.50,145.79 85.56,141.52 85.61,135.87 85.66,132.46 85.71,137.96 85.76,120.47 85.82,138.28 85.87,136.20 85.92,134.31 85.97,131.71 86.02,122.04 86.08,114.35 86.13,137.73 86.18,136.90 86.23,129.96 86.28,136.72 86.34,128.41 86.39,142.60 86.44,127.90 86.49,151.67 86.54,130.16 86.60,129.97 86.65,114.87 86.70,124.76 86.75,129.53 86.80,130.68 86.86,144.28 86.91,135.11 86.96,144.07 87.01,147.41 87.06,150.51 87.12,139.54 87.17,146.83 87.22,154.22 87.27,135.37 87.32,152.66 87.38,130.83 87.43,133.20 87.48,142.08 87.53,147.70 87.58,141.89 87.64,146.15 87.69,137.57 87.74,137.30 87.79,112.62 87.84,152.45 87.90,139.30 87.95,129.69 88.00,126.52 88.05,124.40 88.10,144.22 88.16,130.62 88.21,161.94 88.26,139.04 88.31,131.47 88.36,133.00 88.42,152.92 88.47,148.52 88.52,159.16 88.57,147.30 88.62,152.48 88.68,139.60 88.73,147.60 88.78,136.97 88.83,141.96 88.88,143.54 88.94,126.19 88.99,129.71 89.04,150.96 89.09,127.19 89.14,132.28 89.20,127.50 89.25,133.90 89.30,152.42 89.35,140.48 89.40,157.93 89.46,149.05 89.51,143.07 89.56,126.80 89.61,138.14 89.66,139.06 89.72,134.67 89.77,148.68 89.82,130.47 89.87,137.45 89.92,146.31 89.98,141.40 90.03,138.74 90.08,132.37 90.13,124.70 90.19,139.93 90.24,139.46 90.29,120.98 90.34,108.96 90.39,119.49 90.45,134.48 90.50,139.16 90.55,129.32 90.60,133.80 90.65,142.94 90.71,124.35 90.76,116.56 90.81,143.71 90.86,143.96 90.91,141.70 90.97,146.55 91.02,130.63 91.07,149.32 91.12,131.85 91.17,134.10 91.23,131.88 91.28,149.53 91.33,136.73 91.38,135.28 91.43,129.55 91.49,133.98 91.54,142.40 91.59,127.94 91.64,124.88 91.69,124.75 91.75,142.74 91.80,132.92 91.85,145.06 91.90,138.22 91.95,130.35 92.01,147.70 92.06,113.53 92.11,124.46 92.16,141.73 92.21,141.16 92.27,138.60 92.32,138.32 92.37,146.93 92.42,137.92 92.47,150.07 92.53,141.97 92.58,121.71 92.63,136.53 92.68,138.74 92.73,122.08 92.79,134.42 92.84,130.47 92.89,141.23 92.94,127.89 92.99,138.91 93.05,128.10 93.10,132.03 93.15,124.23 93.20,130.84 93.25,140.65 93.31,149.64 93.36,140.53 93.41,141.04 93.46,121.99 93.51,138.29 93.57,153.43 93.62,130.58 93.67,128.32 93.72,142.27 93.77,128.41 93.83,145.63 93.88,131.51 93.93,135.85 93.98,130.22 94.03,129.31 94.09,138.67 94.14,126.39 94.19,137.11 94.24,130.90 94.29,120.30 94.35,140.11 94.40,132.03 94.45,120.09 94.50,123.42 94.55,139.70 94.61,138.72 94.66,127.66 94.71,138.83 94.76,132.90 94.81,145.39 94.87,127.53 94.92,147.17 94.97,133.06 95.02,129.66 95.07,140.45 95.13,147.31 95.18,145.41 95.23,149.66 95.28,117.59 95.34,149.56 95.39,142.92 95.44,129.43 95.49,107.43 95.54,125.90 95.60,123.13 95.65,130.28 95.70,133.99 95.75,137.84 95.80,134.51 95.86,123.65 95.91,127.66 95.96,127.24 96.01,146.94 96.06,139.20 96.12,136.97 96.17,135.43 96.22,138.81 96.27,122.93 96.32,118.30 96.38,111.70 96.43,131.37 96.48,127.90 96.53,126.56 96.58,128.68 96.64,136.30 96.69,122.38 96.74,147.05 96.79,134.15 96.84,146.24 96.90,124.31 96.95,143.68 97.00,142.21 97.05,133.15 97.10,143.45 97.16,132.40 97.21,137.14 97.26,117.64 97.31,147.46 97.36,144.04 97.42,128.96 97.47,133.53 97.52,130.40 97.57,137.30 97.62,125.60 97.68,129.54 97.73,121.20 97.78,143.67 97.83,130.66 97.88,134.71 97.94,130.51 97.99,142.15 98.04,127.36 98.09,146.00 98.14,127.56 98.20,130.31 98.25,150.86 98.30,132.04 98.35,153.36 98.40,132.40 98.46,151.80 98.51,137.83 98.56,139.65 98.61,151.37 98.66,152.12 98.72,131.64 98.77,139.99 98.82,125.33 98.87,124.59 98.92,109.76 98.98,132.44 99.03,116.60 99.08,109.77 99.13,131.99 99.18,127.45 99.24,137.41 99.29,135.19 99.34,114.99 99.39,130.64 99.44,138.79 99.50,124.21 99.55,135.67 99.60,127.15 99.65,117.86 99.70,115.00 99.76,110.92 99.81,115.53 99.86,118.32 99.91,117.55 99.96,119.84 100.02,123.32 100.07,106.20 100.12,125.84 100.17,106.17 100.23,125.95 100.28,115.91 100.33,151.23 100.38,124.34 100.43,133.21 100.49,113.97 100.54,114.44 100.59,134.92 100.64,129.26 100.69,121.78 100.75,126.31 100.80,128.06 100.85,121.07 100.90,142.97 100.95,117.46 101.01,127.88 101.06,157.58 101.11,140.73 101.16,133.55 101.21,111.88 101.27,132.99 101.32,146.46 101.37,120.57 101.42,129.15 101.47,131.91 101.53,121.09 101.58,134.25 101.63,131.66 101.68,124.64 101.73,129.92 101.79,124.54 101.84,137.49 101.89,117.97 101.94,147.32 101.99,145.56 102.05,129.38 102.10,137.53 102.15,133.41 102.20,135.04 102.25,137.65 102.31,146.93 102.36,135.15 102.41,125.18 102.46,145.74 102.51,118.13 102.57,121.52 102.62,143.20 102.67,128.79 102.72,145.44 102.77,136.29 102.83,143.15 102.88,137.50 102.93,149.07 102.98,132.70 103.03,141.42 103.09,141.35 103.14,150.27 103.19,132.26 103.24,115.63 103.29,134.87 103.35,133.35 103.40,142.25 103.45,135.99 103.50,138.83 103.55,144.20 103.61,138.24 103.66,134.75 103.71,129.82 103.76,134.45 103.81,130.52 103.87,121.57 103.92,122.43 103.97,134.77 104.02,148.35 104.07,132.80 104.13,131.00 104.18,123.09 104.23,130.90 104.28,106.73 104.33,133.67 104.39,143.49 104.44,138.12 104.49,139.90 104.54,133.05 104.59,129.29 104.65,124.37 104.70,159.23 104.75,121.73 104.80,117.05 104.85,119.50 104.91,125.16 104.96,133.30 105.01,127.53 105.06,124.87 105.11,141.75 105.17,125.11 105.22,127.64 105.27,133.68 105.32,116.36 105.38,139.46 105.43,142.03 105.48,133.26 105.53,139.35 105.58,120.75 105.64,134.09 105.69,145.61 105.74,130.84 105.79,123.90 105.84,142.89 105.90,112.93 105.95,146.80 106.00,121.25 106.05,137.39 106.10,133.61 106.16,114.88 106.21,131.17 106.26,137.31 106.31,129.41 106.36,116.24 106.42,122.32 106.47,141.61 106.52,133.03 106.57,144.65 106.62,139.24 106.68,138.53 106.73,127.95 106.78,138.46 106.83,127.20 106.88,121.35 106.94,117.62 106.99,147.50 107.04,133.43 107.09,142.64 107.14,127.30 107.20,131.57 107.25,134.42 107.30,139.38 107.35,143.06 107.40,149.97 107.46,126.43 107.51,137.50 107.56,134.18 107.61,131.50 107.66,127.58 107.72,117.51 107.77,135.93 107.82,130.00 107.87,150.50 107.92,137.76 107.98,140.07 108.03,138.20 108.08,122.97 108.13,133.76 108.18,134.77 108.24,133.30 108.29,136.93 108.34,137.62 108.39,140.28 108.44,139.51 108.50,138.71 108.55,136.10 108.60,151.04 108.65,134.03 108.70,134.68 108.76,131.30 108.81,144.93 108.86,142.63 108.91,136.25 108.96,141.87 109.02,132.25 109.07,141.69 109.12,145.70 109.17,147.03 109.22,138.47 109.28,136.26 109.33,142.30 109.38,119.61 109.43,131.16 109.48,140.17 109.54,116.80 109.59,122.55 109.64,136.13 109.69,139.82 109.74,131.39 109.80,122.25 109.85,142.81 109.90,120.76 109.95,143.83 110.00,124.76 110.06,106.86 110.11,124.51 110.16,124.29 110.21,117.59 110.26,135.74 110.32,111.40 110.37,142.02 110.42,128.42 110.47,124.06 110.53,130.66 110.58,121.93 110.63,144.72 110.68,129.75 110.73,120.04 110.79,129.31 110.84,140.05 110.89,129.09 110.94,127.76 110.99,138.32 111.05,118.56 111.10,131.91 111.15,137.96 111.20,128.24 111.25,134.55 111.31,131.60 111.36,127.92 111.41,134.18 111.46,126.76 111.51,128.97 111.57,121.96 111.62,142.30 111.67,131.65 111.72,131.06 111.77,130.20 111.83,150.21 111.88,140.10 111.93,127.37 111.98,125.49 112.03,131.70 112.09,130.25 112.14,120.62 112.19,135.12 112.24,139.74 112.29,118.87 112.35,127.74 112.40,134.18 112.45,139.52 112.50,120.58 112.55,135.62 112.61,139.77 112.66,120.80 112.71,146.49 112.76,134.89 112.81,127.70 112.87,136.50 112.92,145.01 112.97,130.45 113.02,144.36 113.07,137.32 113.13,130.48 113.18,147.71 113.23,125.01 113.28,139.73 113.33,139.06 113.39,143.33 113.44,135.27 113.49,145.26 113.54,139.76 113.59,130.68 113.65,130.86 113.70,157.52 113.75,132.42 113.80,147.24 113.85,140.38 113.91,141.94 113.96,140.82 114.01,149.03 114.06,138.30 114.11,135.54 114.17,149.51 114.22,145.86 114.27,137.84 114.32,136.74 114.37,142.34 114.43,141.61 114.48,141.01 114.53,147.33 114.58,141.48 114.63,145.49 114.69,146.36 114.74,163.12 114.79,159.33 114.84,138.64 114.89,137.02 114.95,138.65 115.00,141.40 115.05,145.27 115.10,137.60 115.15,145.04 115.21,140.54 115.26,125.39 115.31,151.55 115.36,146.28 115.42,143.51 115.47,158.39 115.52,152.17 115.57,130.82 115.62,133.31 115.68,138.67 115.73,127.52 115.78,146.77 115.83,121.56 115.88,139.02 115.94,142.89 115.99,127.45 116.04,132.48 116.09,135.02 116.14,137.09 116.20,151.52 116.25,151.90 116.30,136.41 116.35,122.74 116.40,144.74 116.46,136.01 116.51,150.50 116.56,149.02 116.61,137.62 116.66,131.07 116.72,130.00 116.77,125.93 116.82,144.08 116.87,138.17 116.92,128.06 116.98,146.24 117.03,138.27 117.08,135.29 117.13,136.29 117.18,127.64 117.24,131.64 117.29,138.19 117.34,155.80 117.39,127.09 117.44,126.21 117.50,130.24 117.55,130.96 117.60,130.30 117.65,122.87 117.70,138.87 117.76,133.91 117.81,142.76 117.86,136.57 117.91,142.10 117.96,142.16 118.02,153.41 118.07,135.77 118.12,126.02 118.17,161.31 118.22,124.62 118.28,137.60 118.33,143.57 118.38,135.68 118.43,140.69 118.48,138.52 118.54,123.99 118.59,133.69 118.64,131.18 118.69,137.55 118.74,136.21 118.80,143.32 118.85,135.76 118.90,142.69 118.95,124.19 119.00,136.10 119.06,127.77 119.11,124.17 119.16,126.33 119.21,142.05 119.26,120.75 119.32,153.33 119.37,124.14 119.42,158.80 119.47,142.85 119.52,136.69 119.58,142.56 119.63,154.68 119.68,149.30 119.73,134.08 119.78,149.51 119.84,129.38 119.89,124.42 119.94,123.13 119.99,133.05 120.04,137.96 120.10,140.18 120.15,112.14 120.20,126.87 120.25,130.28 120.30,133.19 120.36,126.99 120.41,154.70 120.46,128.72 120.51,141.50 120.57,157.35 120.62,127.99 120.67,145.52 120.72,134.32 120.77,144.78 120.83,143.63 120.88,126.31 120.93,137.38 120.98,134.03 121.03,152.30 121.09,132.20 121.14,145.18 121.19,123.16 121.24,150.02 121.29,123.43 121.35,135.30 121.40,154.13 121.45,139.27 121.50,150.02 121.55,130.52 121.61,139.95 121.66,141.56 121.71,115.72 121.76,133.93 121.81,144.33 121.87,133.05 121.92,120.09 121.97,128.65 122.02,149.67 122.07,121.23 122.13,143.88 122.18,141.76 122.23,145.73 122.28,141.73 122.33,120.71 122.39,137.37 122.44,148.20 122.49,141.93 122.54,139.28 122.59,133.09 122.65,143.53 122.70,138.00 122.75,114.00 122.80,141.64 122.85,139.03 122.91,152.23 122.96,132.24 123.01,143.49 123.06,121.28 123.11,127.51 123.17,131.41 123.22,144.03 123.27,142.89 123.32,143.37 123.37,138.31 123.43,142.01 123.48,144.51 123.53,137.78 123.58,137.91 123.63,141.60 123.69,130.08 123.74,128.87 123.79,144.84 123.84,120.14 123.89,135.25 123.95,125.55 124.00,119.40 124.05,149.41 124.10,132.11 124.15,127.70 124.21,124.28 124.26,128.81 124.31,126.59 124.36,148.64 124.41,145.62 124.47,130.35 124.52,154.16 124.57,139.77 124.62,136.52 124.67,131.66 124.73,126.93 124.78,132.59 124.83,141.42 124.88,142.85 124.93,131.54 124.99,130.63 125.04,133.41 125.09,134.71 125.14,135.87 125.19,147.90 125.25,135.35 125.30,128.26 125.35,144.05 125.40,130.30 125.45,128.16 125.51,112.49 125.56,133.52 125.61,136.20 125.66,142.46 125.72,140.92 125.77,147.03 125.82,148.78 125.87,125.29 125.92,131.57 125.98,127.93 126.03,142.89 126.08,146.07 126.13,141.96 126.18,110.72 126.24,116.07 126.29,137.20 126.34,125.03 126.39,123.68 126.44,133.73 126.50,131.74 126.55,118.15 126.60,120.66 126.65,118.74 126.70,122.80 126.76,124.81 126.81,119.64 126.86,124.98 126.91,109.07 126.96,123.25 127.02,120.51 127.07,126.90 127.12,132.47 127.17,130.76 127.22,128.69 127.28,132.21 127.33,118.42 127.38,108.68 127.43,125.76 127.48,131.19 127.54,137.25 127.59,144.03 127.64,125.34 127.69,125.68 127.74,136.12 127.80,129.29 127.85,138.09 127.90,117.94 127.95,130.70 128.00,126.37 128.06,114.92 128.11,149.48 128.16,126.65 128.21,126.10 128.26,128.99 128.32,127.15 128.37,116.11 128.42,133.66 128.47,133.10 128.52,112.87 128.58,118.89 128.63,123.09 128.68,120.84 128.73,129.69 128.78,133.85 128.84,132.87 128.89,127.88 128.94,135.55 128.99,146.94 129.04,133.26 129.10,128.79 129.15,131.81 129.20,124.43 129.25,126.81 129.30,120.21 129.36,129.64 129.41,132.13 129.46,124.56 129.51,121.73 129.56,132.33 129.62,135.88 129.67,116.02 129.72,134.21 129.77,126.09 129.82,134.29 129.88,129.04 129.93,119.67 129.98,116.74 130.03,143.41 130.08,145.23 130.14,161.16 130.19,128.71 130.24,119.05 130.29,131.95 130.34,135.70 130.40,127.13 130.45,142.70 130.50,127.44 130.55,119.86 130.61,121.23 130.66,126.72 130.71,139.05 130.76,136.40 130.81,141.74 130.87,116.93 130.92,122.80 130.97,134.27 131.02,134.21 131.07,130.13 131.13,140.36 131.18,122.08 131.23,129.30 131.28,129.85 131.33,133.51 131.39,156.71 131.44,134.82 131.49,145.52 131.54,149.37 131.59,113.68 131.65,138.52 131.70,135.26 131.75,136.14 131.80,141.10 131.85,117.55 131.91,150.02 131.96,126.63 132.01,136.85 132.06,120.95 132.11,123.94 132.17,129.77 132.22,142.84 132.27,120.64 132.32,118.49 132.37,121.37 132.43,129.71 132.48,121.39 132.53,134.80 132.58,123.95 132.63,121.13 132.69,99.08 132.74,134.01 132.79,127.67 132.84,135.43 132.89,139.06 132.95,119.17 133.00,130.17 133.05,134.50 133.10,136.41 133.15,127.02 133.21,132.14 133.26,137.78 133.31,128.94 133.36,129.19 133.41,139.85 133.47,142.79 133.52,120.97 133.57,135.52 133.62,122.50 133.67,126.26 133.73,130.79 133.78,131.64 133.83,114.63 133.88,135.69 133.93,132.47 133.99,136.67 134.04,129.06 134.09,134.99 134.14,126.03 134.19,137.86 134.25,120.11 134.30,121.24 134.35,123.46 134.40,131.27 134.45,114.45 134.51,107.76 134.56,127.35 134.61,133.62 134.66,119.83 134.71,126.33 134.77,123.72 134.82,120.64 134.87,138.68 134.92,119.52 134.97,135.41 135.03,137.99 135.08,129.76 135.13,113.63 135.18,131.81 135.23,119.96 135.29,133.88 135.34,122.12 135.39,125.38 135.44,118.07 135.49,126.83 135.55,128.33 135.60,145.21 135.65,122.00 135.70,118.14 135.76,124.02 135.81,123.71 135.86,122.03 135.91,118.27 135.96,135.41 136.02,129.10 136.07,125.13 136.12,117.22 136.17,136.53 136.22,144.82 136.28,122.63 136.33,119.56 136.38,109.89 136.43,121.75 136.48,131.48 136.54,121.21 136.59,124.78 136.64,129.33 136.69,136.10 136.74,139.81 136.80,129.66 136.85,127.93 136.90,124.87 136.95,122.99 137.00,119.89 137.06,103.04 137.11,121.46 137.16,109.68 137.21,130.44 137.26,129.67 137.32,126.42 137.37,139.61 137.42,106.02 137.47,119.64 137.52,114.98 137.58,105.97 137.63,117.74 137.68,106.13 137.73,146.55 137.78,109.91 137.84,116.82 137.89,125.95 137.94,108.72 137.99,119.93 138.04,127.47 138.10,137.58 138.15,100.98 138.20,142.16 138.25,115.61 138.30,99.58 138.36,108.97 138.41,119.97 138.46,114.57 138.51,117.32 138.56,109.55 138.62,113.21 138.67,126.24 138.72,127.41 138.77,101.09 138.82,125.77 138.88,123.41 138.93,89.80 138.98,119.22 139.03,123.21 139.08,118.14 139.14,101.74 139.19,118.00 139.24,114.00 139.29,134.98 139.34,119.33 139.40,111.32 139.45,111.04 139.50,95.98 139.55,107.05 139.60,141.81 139.66,128.91 139.71,120.66 139.76,116.09 139.81,112.25 139.86,107.41 139.92,129.94 139.97,135.75 140.02,105.65 140.07,123.36 140.12,135.85 140.18,122.06 140.23,115.67 140.28,124.65 140.33,124.08 140.38,103.27 140.44,124.53 140.49,111.32 140.54,112.22 140.59,117.37 140.65,90.96 140.70,130.47 140.75,90.78 140.80,126.01 140.85,118.75 140.91,113.92 140.96,104.80 141.01,109.23 141.06,119.00 141.11,119.95 141.17,103.97 141.22,99.02 141.27,120.73 141.32,103.21 141.37,109.19 141.43,111.78 141.48,125.18 141.53,126.96 141.58,111.53 141.63,144.07 141.69,122.34 141.74,112.82 141.79,136.57 141.84,101.40 141.89,98.93 141.95,126.07 142.00,117.35 142.05,117.81 142.10,121.05 142.15,119.77 142.21,110.68 142.26,97.36 142.31,112.65 142.36,111.90 142.41,112.08 142.47,120.49 142.52,107.98 142.57,119.18 142.62,124.91 142.67,107.03 142.73,132.60 142.78,118.62 142.83,117.20 142.88,114.28 142.93,130.18 142.99,122.80 143.04,114.63 143.09,107.70 143.14,116.08 143.19,117.79 143.25,124.84 143.30,116.10 143.35,148.06 143.40,110.51 143.45,107.06 143.51,117.76 143.56,124.96 143.61,101.74 143.66,121.78 143.71,101.18 143.77,117.75 143.82,122.02 143.87,115.01 143.92,119.94 143.97,115.73 144.03,108.46 144.08,118.53 144.13,120.37 144.18,116.15 144.23,111.64 144.29,117.23 144.34,112.20 144.39,86.09 144.44,116.35 144.49,111.30 144.55,118.55 144.60,107.76 144.65,113.80 144.70,109.38 144.75,121.95 144.81,135.35 144.86,124.96 144.91,119.48 144.96,115.83 145.01,119.54 145.07,105.28 145.12,133.19 145.17,139.11 145.22,123.94 145.27,129.80 145.33,123.39 145.38,117.27 145.43,96.70 145.48,123.90 145.53,134.03 145.59,124.16 145.64,136.57 145.69,128.19 145.74,108.91 145.80,121.33 145.85,122.45 145.90,109.39 145.95,137.23 146.00,119.89 146.06,123.90 146.11,121.02 146.16,135.00 146.21,127.97 146.26,125.89 146.32,117.58 146.37,131.51 146.42,117.93 146.47,144.91 146.52,119.54 146.58,115.12 146.63,132.87 146.68,125.96 146.73,124.27 146.78,121.02 146.84,113.03 146.89,123.18 146.94,126.53 146.99,124.75 147.04,121.95 147.10,117.57 147.15,123.68 147.20,130.19 147.25,128.88 147.30,132.45 147.36,133.67 147.41,131.27 147.46,131.82 147.51,119.53 147.56,137.99 147.62,124.35 147.67,135.12 147.72,116.58 147.77,119.61 147.82,108.95 147.88,117.97 147.93,131.05 147.98,118.65 148.03,126.42 148.08,125.00 148.14,131.42 148.19,124.45 148.24,120.25 148.29,118.35 148.34,96.75 148.40,122.93 148.45,121.44 148.50,122.72 148.55,123.55 148.60,123.91 148.66,119.11 148.71,120.80 148.76,111.23 148.81,113.04 148.86,127.39 148.92,118.75 148.97,117.70 149.02,123.44 149.07,123.50 149.12,121.23 149.18,114.75 149.23,119.70 149.28,126.82 149.33,122.07 149.38,108.85 149.44,131.31 149.49,117.05 149.54,127.55 149.59,87.24 149.64,118.80 149.70,124.81 149.75,127.45 149.80,140.14 149.85,130.71 149.90,104.48 149.96,121.29 150.01,127.17 150.06,123.47 150.11,121.79 150.16,132.77 150.22,122.71 150.27,118.74 150.32,140.07 150.37,127.00 150.42,150.85 150.48,140.91 150.53,116.65 150.58,112.45 150.63,105.67 150.68,135.24 150.74,123.92 150.79,125.53 150.84,109.61 150.89,117.34 150.95,120.11 151.00,115.35 151.05,127.25 151.10,113.61 151.15,124.55 151.21,111.45 151.26,120.53 151.31,118.69 151.36,131.38 151.41,135.05 151.47,135.68 151.52,115.69 151.57,141.38 151.62,106.34 151.67,122.74 151.73,131.64 151.78,117.24 151.83,131.77 151.88,119.88 151.93,122.83 151.99,108.99 152.04,111.17 152.09,110.91 152.14,123.84 152.19,108.07 152.25,120.69 152.30,117.50 152.35,113.14 152.40,115.23 152.45,130.79 152.51,111.95 152.56,133.85 152.61,113.85 152.66,117.80 152.71,115.82 152.77,125.68 152.82,103.79 152.87,116.51 152.92,106.59 152.97,122.58 153.03,124.32 153.08,117.91 153.13,109.15 153.18,130.17 153.23,122.93 153.29,122.46 153.34,120.27 153.39,122.95 153.44,107.87 153.49,111.57 153.55,120.04 153.60,112.60 153.65,107.08 153.70,122.48 153.75,123.74 153.81,109.27 153.86,88.44 153.91,140.20 153.96,122.28 154.01,110.44 154.07,126.74 154.12,110.87 154.17,117.44 154.22,132.38 154.27,124.36 154.33,115.08 154.38,127.08 154.43,111.53 154.48,113.14 154.53,119.88 154.59,112.87 154.64,120.67 154.69,114.36 154.74,126.68 154.79,103.43 154.85,118.01 154.90,104.40 154.95,96.61 155.00,102.02 155.05,117.32 155.11,116.22 155.16,118.13 155.21,113.60 155.26,125.34 155.31,135.21 155.37,115.19 155.42,117.53 155.47,103.16 155.52,101.49 155.57,132.70 155.63,126.41 155.68,111.65 155.73,109.19 155.78,119.05 155.84,121.16 155.89,137.59 155.94,98.75 155.99,129.31 156.04,117.40 156.10,118.27 156.15,129.44 156.20,111.62 156.25,105.33 156.30,118.66 156.36,118.76 156.41,113.38 156.46,108.63 156.51,110.95 156.56,127.75 156.62,126.86 156.67,121.80 156.72,143.01 156.77,127.61 156.82,116.13 156.88,119.73 156.93,122.77 156.98,106.80 157.03,113.09 157.08,106.48 157.14,118.83 157.19,123.29 157.24,126.81 157.29,115.77 157.34,139.12 157.40,130.29 157.45,116.23 157.50,112.24 157.55,123.21 157.60,134.33 157.66,116.16 157.71,128.05 157.76,122.98 157.81,131.47 157.86,105.62 157.92,107.21 157.97,130.50 158.02,132.17 158.07,120.31 158.12,114.57 158.18,108.52 158.23,120.60 158.28,131.67 158.33,114.94 158.38,114.04 158.44,131.95 158.49,118.22 158.54,119.43 158.59,126.81 158.64,114.40 158.70,105.94 158.75,107.61 158.80,126.39 158.85,124.28 158.90,112.32 158.96,120.95 159.01,122.15 159.06,97.79 159.11,143.92 159.16,125.08 159.22,126.69 159.27,120.53 159.32,103.22 159.37,121.74 159.42,123.92 159.48,120.09 159.53,124.84 159.58,117.11 159.63,93.16 159.68,125.34 159.74,118.98 159.79,117.58 159.84,139.15 159.89,112.48 159.94,117.63 160.00,134.80 160.05,119.20 160.10,112.57 160.15,123.87 160.20,105.27 160.26,122.41 160.31,129.71 160.36,106.81 160.41,115.15 160.46,114.94 160.52,132.24 160.57,130.15 160.62,125.79 160.67,117.92 160.72,116.50 160.78,102.42 160.83,102.40 160.88,117.99 160.93,118.81 160.99,98.39 161.04,117.32 161.09,106.76 161.14,121.69 161.19,118.05 161.25,121.36 161.30,126.00 161.35,115.34 161.40,126.87 161.45,120.39 161.51,114.13 161.56,95.87 161.61,136.22 161.66,116.32 161.71,112.25 161.77,121.62 161.82,110.67 161.87,114.12 161.92,114.29 161.97,123.41 162.03,120.22 162.08,121.14 162.13,129.08 162.18,117.17 162.23,129.32 162.29,127.76 162.34,132.42 162.39,108.77 162.44,124.36 162.49,127.39 162.55,109.86 162.60,84.64 162.65,113.32 162.70,119.18 162.75,114.35 162.81,116.70 162.86,141.93 162.91,104.34 162.96,108.42 163.01,130.07 163.07,107.62 163.12,117.98 163.17,114.36 163.22,103.00 163.27,104.82 163.33,105.06 163.38,95.07 163.43,103.99 163.48,123.06 163.53,130.48 163.59,110.45 163.64,133.65 163.69,119.66 163.74,118.92 163.79,121.66 163.85,101.71 163.90,110.14 163.95,115.83 164.00,106.43 164.05,118.62 164.11,101.60 164.16,114.71 164.21,114.36 164.26,113.78 164.31,99.33 164.37,129.46 164.42,120.92 164.47,118.61 164.52,122.40 164.57,108.34 164.63,104.62 164.68,107.77 164.73,107.92 164.78,100.29 164.83,97.80 164.89,96.59 164.94,111.50 164.99,110.79 165.04,96.91 165.09,107.39 165.15,99.59 165.20,118.32 165.25,113.74 165.30,119.77 165.35,111.66 165.41,107.87 165.46,115.79 165.51,90.40 165.56,124.68 165.61,100.72 165.67,119.80 165.72,106.36 165.77,115.34 165.82,108.39 165.88,109.26 165.93,119.92 165.98,124.31 166.03,118.39 166.08,111.62 166.14,103.10 166.19,96.26 166.24,127.88 166.29,106.76 166.34,116.53 166.40,110.18 166.45,84.33 166.50,102.27 166.55,106.13 166.60,109.79 166.66,108.73 166.71,108.37 166.76,111.03 166.81,99.45 166.86,121.62 166.92,120.06 166.97,94.77 167.02,112.01 167.07,127.65 167.12,102.25 167.18,99.61 167.23,120.49 167.28,125.11 167.33,112.20 167.38,108.17 167.44,119.42 167.49,122.94 167.54,108.64 167.59,107.98 167.64,127.60 167.70,122.63 167.75,113.98 167.80,115.36 167.85,109.83 167.90,105.97 167.96,93.45 168.01,107.74 168.06,102.17 168.11,127.74 168.16,120.34 168.22,102.83 168.27,127.74 168.32,117.14 168.37,107.96 168.42,109.81 168.48,112.74 168.53,120.91 168.58,121.12 168.63,115.30 168.68,113.33 168.74,98.69 168.79,121.95 168.84,117.80 168.89,127.65 168.94,107.71 169.00,108.97 169.05,97.33 169.10,90.76 169.15,104.97 169.20,117.26 169.26,107.50 169.31,107.39 169.36,112.81 169.41,123.17 169.46,111.03 169.52,125.96 169.57,113.43 169.62,115.35 169.67,137.66 169.72,106.94 169.78,91.57 169.83,117.33 169.88,120.40 169.93,102.99 169.98,126.48 170.04,114.14 170.09,113.55 170.14,120.12 170.19,115.66 170.24,124.67 170.30,123.40 170.35,110.01 170.40,124.36 170.45,120.59 170.50,121.95 170.56,109.22 170.61,116.56 170.66,120.65 170.71,108.99 170.76,135.24 170.82,136.60 170.87,114.82 170.92,101.00 170.97,125.15 171.03,116.90 171.08,134.69 171.13,121.14 171.18,119.24 171.23,114.90 171.29,126.88 171.34,99.57 171.39,126.36 171.44,102.13 171.49,127.79 171.55,111.39 171.60,106.21 171.65,98.66 171.70,119.91 171.75,134.20 171.81,108.14 171.86,122.27 171.91,124.65 171.96,119.42 172.01,122.56 172.07,101.84 172.12,112.45 172.17,108.72 172.22,106.65 172.27,119.08 172.33,110.62 172.38,108.54 172.43,102.93 172.48,119.93 172.53,124.39 172.59,129.47 172.64,124.81 172.69,122.13 172.74,119.22 172.79,133.74 172.85,122.66 172.90,121.74 172.95,125.82 173.00,126.42 173.05,115.31 173.11,127.55 173.16,113.32 173.21,127.78 173.26,115.50 173.31,128.80 173.37,106.32 173.42,111.20 173.47,105.56 173.52,126.62 173.57,110.97 173.63,129.52 173.68,117.89 173.73,105.39 173.78,111.32 173.83,113.26 173.89,132.52 173.94,110.09 173.99,114.90 174.04,127.79 174.09,147.28 174.15,130.61 174.20,124.11 174.25,115.45 174.30,97.85 174.35,124.87 174.41,108.55 174.46,108.44 174.51,121.02 174.56,120.64 174.61,115.21 174.67,133.88 174.72,124.28 174.77,131.20 174.82,136.95 174.87,109.26 174.93,116.70 174.98,108.25 175.03,118.79 175.08,114.59 175.13,129.49 175.19,141.57 175.24,134.56 175.29,124.40 175.34,133.39 175.39,108.51 175.45,114.64 175.50,128.25 175.55,108.81 175.60,120.22 175.65,109.07 175.71,125.74 175.76,116.62 175.81,127.48 175.86,124.67 175.91,114.05 175.97,106.14 176.02,122.82 176.07,120.25 176.12,130.26 176.18,123.05 176.23,117.09 176.28,152.92 176.33,126.47 176.38,131.14 176.44,118.43 176.49,112.49 176.54,116.43 176.59,122.70 176.64,129.19 176.70,134.06 176.75,118.93 176.80,104.39 176.85,122.74 176.90,120.16 176.96,123.22 177.01,130.55 177.06,108.16 177.11,113.62 177.16,134.93 177.22,132.20 177.27,106.49 177.32,130.13 177.37,121.88 177.42,132.74 177.48,117.67 177.53,128.94 177.58,127.30 177.63,132.42 177.68,101.83 177.74,94.74 177.79,117.78 177.84,114.29 177.89,114.06 177.94,120.19 178.00,120.30 178.05,122.76 178.10,110.20 178.15,130.37 178.20,128.08 178.26,113.92 178.31,135.15 178.36,103.49 178.41,122.79 178.46,118.11 178.52,105.38 178.57,119.72 178.62,117.62 178.67,124.51 178.72,114.16 178.78,112.13 178.83,126.75 178.88,110.32 178.93,107.60 178.98,109.58 179.04,121.57 179.09,105.19 179.14,101.76 179.19,121.47 179.24,134.07 179.30,126.01 179.35,118.94 179.40,107.58 179.45,108.77 179.50,113.86 179.56,128.49 179.61,115.40 179.66,121.64 179.71,132.33 179.76,139.92 179.82,112.24 179.87,137.59 179.92,107.41 179.97,96.36 180.02,118.03 180.08,126.25 180.13,125.51 180.18,124.53 180.23,114.53 180.28,109.29 180.34,127.31 180.39,123.89 180.44,126.59 180.49,107.79 180.54,108.12 180.60,126.59 180.65,121.82 180.70,117.39 180.75,138.27 180.80,126.45 180.86,117.49 180.91,133.76 180.96,118.05 181.01,119.02 181.07,124.79 181.12,108.01 181.17,128.75 181.22,116.22 181.27,121.59 181.33,108.76 181.38,127.71 181.43,113.58 181.48,115.36 181.53,110.28 181.59,106.12 181.64,136.90 181.69,122.65 181.74,135.06 181.79,113.43 181.85,112.11 181.90,129.06 181.95,124.16 182.00,113.84 182.05,124.74 182.11,126.87 182.16,142.81 182.21,133.87 182.26,115.68 182.31,139.67 182.37,121.15 182.42,121.36 182.47,123.81 182.52,116.06 182.57,131.95 182.63,109.35 182.68,126.00 182.73,109.20 182.78,126.38 182.83,118.09 182.89,124.01 182.94,103.88 182.99,132.43 183.04,125.92 183.09,103.22 183.15,109.99 183.20,119.03 183.25,121.28 183.30,132.92 183.35,123.05 183.41,115.86 183.46,105.54 183.51,107.35 183.56,100.83 183.61,112.81 183.67,127.37 183.72,122.21 183.77,103.06 183.82,117.52 183.87,102.60 183.93,133.93 183.98,123.92 184.03,127.85 184.08,115.40 184.13,125.00 184.19,132.41 184.24,118.02 184.29,140.42 184.34,122.85 184.39,113.46 184.45,127.41 184.50,115.96 184.55,123.04 184.60,118.83 184.65,112.26 184.71,109.99 184.76,110.69 184.81,123.71 184.86,101.44 184.91,114.90 184.97,125.53 185.02,105.38 185.07,122.37 185.12,100.13 185.17,112.49 185.23,122.76 185.28,128.23 185.33,131.99 185.38,131.62 185.43,126.53 185.49,109.37 185.54,120.12 185.59,121.83 185.64,92.54 185.69,123.13 185.75,133.55 185.80,136.85 185.85,106.39 185.90,123.08 185.95,101.44 186.01,98.68 186.06,116.29 186.11,104.82 186.16,122.98 186.22,121.56 186.27,117.87 186.32,116.70 186.37,100.88 186.42,118.05 186.48,107.61 186.53,115.70 186.58,112.07 186.63,98.74 186.68,133.17 186.74,103.94 186.79,123.03 186.84,114.64 186.89,120.39 186.94,123.67 187.00,130.05 187.05,145.90 187.10,97.58 187.15,111.02 187.20,124.09 187.26,140.27 187.31,114.55 187.36,105.01 187.41,116.48 187.46,138.54 187.52,126.04 187.57,117.99 187.62,120.95 187.67,107.75 187.72,129.55 187.78,126.61 187.83,146.16 187.88,108.20 187.93,113.68 187.98,125.19 188.04,140.92 188.09,110.99 188.14,136.06 188.19,132.70 188.24,138.62 188.30,132.26 188.35,129.07 188.40,128.04 188.45,104.92 188.50,108.35 188.56,114.17 188.61,119.38 188.66,115.11 188.71,128.07 188.76,108.39 188.82,121.02 188.87,117.88 188.92,108.80 188.97,121.40 189.02,126.70 189.08,103.99 189.13,132.01 189.18,129.21 189.23,97.68 189.28,120.45 189.34,114.55 189.39,146.39 189.44,117.78 189.49,98.44 189.54,100.90 189.60,103.89 189.65,115.06 189.70,111.20 189.75,118.25 189.80,129.00 189.86,106.46 189.91,97.64 189.96,105.33 190.01,107.60 190.06,98.36 190.12,104.00 190.17,94.22 190.22,108.76 190.27,124.05 190.32,101.82 190.38,95.53 190.43,112.25 190.48,99.89 190.53,94.17 190.58,130.94 190.64,82.40 190.69,96.35 190.74,105.48 190.79,114.99 190.84,119.53 190.90,82.38 190.95,108.81 191.00,98.93 191.05,114.02 191.10,113.92 191.16,103.41 191.21,118.89 191.26,110.53 191.31,112.03 191.37,104.66 191.42,101.93 191.47,112.68 191.52,96.92 191.57,117.55 191.63,116.44 191.68,111.59 191.73,115.25 191.78,105.33 191.83,143.38 191.89,133.14 191.94,136.59 191.99,98.97 192.04,106.58 192.09,122.94 192.15,112.55 192.20,136.17 192.25,120.72 192.30,100.70 192.35,108.71 192.41,92.27 192.46,120.75 192.51,104.86 192.56,116.26 192.61,114.32 192.67,115.07 192.72,110.11 192.77,104.67 192.82,117.22 192.87,115.26 192.93,120.30 192.98,114.65 193.03,127.19 193.08,108.82 193.13,112.15 193.19,116.47 193.24,119.70 193.29,125.07 193.34,128.17 193.39,129.28 193.45,126.44 193.50,108.61 193.55,113.47 193.60,134.03 193.65,127.71 193.71,103.39 193.76,99.96 193.81,109.88 193.86,96.67 193.91,127.70 193.97,114.62 194.02,129.37 194.07,98.52 194.12,115.52 194.17,117.57 194.23,115.97 194.28,127.29 194.33,119.43 194.38,144.30 194.43,122.22 194.49,129.35 194.54,110.12 194.59,102.38 194.64,115.19 194.69,131.63 194.75,132.32 194.80,113.31 194.85,125.04 194.90,125.80 194.95,135.98 195.01,119.94 195.06,118.82 195.11,113.74 195.16,132.30 195.21,122.92 195.27,136.32 195.32,119.47 195.37,119.81 195.42,123.72 195.47,110.88 195.53,134.12 195.58,104.27 195.63,113.88 195.68,111.82 195.73,115.50 195.79,125.81 195.84,122.56 195.89,107.35 195.94,119.60 195.99,114.43 196.05,120.80 196.10,108.48 196.15,110.57 196.20,130.16 196.26,98.32 196.31,106.58 196.36,108.99 196.41,113.55 196.46,117.67 196.52,104.34 196.57,86.59 196.62,114.07 196.67,127.89 196.72,116.39 196.78,114.35 196.83,106.62 196.88,132.34 196.93,123.66 196.98,121.08 197.04,105.78 197.09,105.09 197.14,114.42 197.19,106.64 197.24,114.92 197.30,115.62 197.35,139.80 197.40,125.21 197.45,128.05 197.50,109.23 197.56,114.33 197.61,125.32 197.66,113.73 197.71,116.61 197.76,112.05 197.82,120.89 197.87,122.78 197.92,102.34 197.97,120.07 198.02,104.87 198.08,124.15 198.13,116.73 198.18,116.93 198.23,127.71 198.28,110.09 198.34,132.07 198.39,114.82 198.44,141.03 198.49,110.18 198.54,117.98 198.60,106.91 198.65,98.65 198.70,127.49 198.75,120.69 198.80,135.14 198.86,124.41 198.91,118.74 198.96,118.92 199.01,112.48 199.06,116.04 199.12,109.53 199.17,126.69 199.22,117.57 199.27,130.47 199.32,120.90 199.38,148.04 199.43,119.91 199.48,121.01 199.53,124.10 199.58,122.04 199.64,136.24 199.69,123.11 199.74,124.03 199.79,113.61 199.84,110.81 199.90,119.49 199.95,116.65 200.00,111.10 200.05,123.93 200.10,102.08 200.16,90.44 200.21,107.96 200.26,118.07 200.31,108.53 200.36,98.13 200.42,97.39 200.47,126.22 200.52,109.64 200.57,121.97 200.62,120.67 200.68,112.67 200.73,109.87 200.78,118.44 200.83,126.07 200.88,119.45 200.94,129.16 200.99,97.77 201.04,135.33 201.09,113.57 201.14,117.20 201.20,117.78 201.25,130.99 201.30,123.23 201.35,119.73 201.41,120.54 201.46,119.75 201.51,115.70 201.56,122.70 201.61,113.29 201.67,111.90 201.72,123.50 201.77,110.38 201.82,117.32 201.87,123.00 201.93,111.00 201.98,103.44 202.03,119.50 202.08,135.63 202.13,107.47 202.19,107.71 202.24,129.43 202.29,119.42 202.34,93.66 202.39,144.74 202.45,111.85 202.50,113.74 202.55,114.69 202.60,106.42 202.65,132.63 202.71,110.47 202.76,97.10 202.81,144.98 202.86,124.55 202.91,114.48 202.97,132.12 203.02,143.81 203.07,118.28 203.12,120.12 203.17,130.50 203.23,119.93 203.28,113.31 203.33,112.71 203.38,118.57 203.43,137.46 203.49,125.84 203.54,148.52 203.59,134.03 203.64,119.83 203.69,115.84 203.75,122.31 203.80,122.35 203.85,141.63 203.90,134.98 203.95,131.93 204.01,124.41 204.06,124.77 204.11,91.91 204.16,107.74 204.21,129.87 204.27,125.64 204.32,124.18 204.37,123.49 204.42,123.20 204.47,140.24 204.53,103.05 204.58,108.59 204.63,110.21 204.68,115.40 204.73,111.44 204.79,121.23 204.84,138.50 204.89,115.96 204.94,118.13 204.99,133.33 205.05,143.78 205.10,105.81 205.15,131.27 205.20,119.91 205.25,124.49 205.31,97.60 205.36,132.80 205.41,107.26 205.46,146.17 205.51,108.60 205.57,123.74 205.62,144.80 205.67,117.51 205.72,119.51 205.77,136.94 205.83,112.83 205.88,115.87 205.93,111.76 205.98,133.67 206.03,126.03 206.09,128.64 206.14,115.27 206.19,123.37 206.24,130.89 206.30,104.94 206.35,126.53 206.40,107.29 206.45,109.15 206.50,125.05 206.56,137.33 206.61,114.41 206.66,108.03 206.71,102.49 206.76,111.85 206.82,111.82 206.87,122.69 206.92,121.86 206.97,75.58 207.02,101.06 207.08,127.77 207.13,110.61 207.18,109.23 207.23,134.04 207.28,118.57 207.34,110.31 207.39,98.62 207.44,96.89 207.49,117.99 207.54,118.66 207.60,120.09 207.65,111.98 207.70,104.34 207.75,126.85 207.80,115.17 207.86,120.33 207.91,121.43 207.96,120.53 208.01,93.17 208.06,93.93 208.12,95.38 208.17,134.45 208.22,111.12 208.27,86.05 208.32,109.10 208.38,120.40 208.43,102.80 208.48,111.63 208.53,112.40 208.58,103.32 208.64,100.42 208.69,106.57 208.74,104.31 208.79,116.97 208.84,107.22 208.90,97.19 208.95,103.81 209.00,107.95 209.05,122.76 209.10,91.45 209.16,120.25 209.21,100.26 209.26,111.55 209.31,97.20 209.36,96.04 209.42,113.11 209.47,144.48 209.52,131.37 209.57,119.11 209.62,121.51 209.68,106.19 209.73,86.70 209.78,102.59 209.83,113.38 209.88,94.63 209.94,112.24 209.99,99.61 210.04,104.89 210.09,131.22 210.14,96.53 210.20,85.29 210.25,111.28 210.30,98.57 210.35,102.18 210.40,109.30 210.46,111.08 210.51,97.24 210.56,116.45 210.61,116.26 210.66,101.07 210.72,100.69 210.77,94.93 210.82,122.33 210.87,128.54 210.92,100.36 210.98,143.57 211.03,118.14 211.08,114.16 211.13,93.70 211.18,113.94 211.24,127.96 211.29,115.13 211.34,98.59 211.39,136.75 211.45,131.74 211.50,104.32 211.55,114.22 211.60,127.36 211.65,118.62 211.71,115.68 211.76,132.51 211.81,122.81 211.86,99.44 211.91,112.94 211.97,103.07 212.02,115.74 212.07,121.35 212.12,111.91 212.17,128.23 212.23,113.20 212.28,121.93 212.33,122.26 212.38,121.75 212.43,129.23 212.49,100.13 212.54,133.99 212.59,115.67 212.64,132.21 212.69,105.31 212.75,120.51 212.80,114.74 212.85,110.96 212.90,112.80 212.95,114.44 213.01,111.65 213.06,110.97 213.11,118.90 213.16,116.91 213.21,116.20 213.27,118.66 213.32,117.97 213.37,96.34 213.42,129.29 213.47,91.36 213.53,116.09 213.58,104.24 213.63,109.95 213.68,113.66 213.73,101.57 213.79,89.01 213.84,109.11 213.89,108.54 213.94,113.69 213.99,84.38 214.05,94.39 214.10,95.02 214.15,107.85 214.20,129.68 214.25,102.26 214.31,129.53 214.36,117.58 214.41,98.89 214.46,117.86 214.51,117.93 214.57,134.18 214.62,101.45 214.67,104.47 214.72,113.51 214.77,112.31 214.83,128.75 214.88,117.57 214.93,103.60 214.98,94.67 215.03,102.43 215.09,117.95 215.14,108.97 215.19,92.54 215.24,112.37 215.29,101.90 215.35,100.92 215.40,113.81 215.45,107.29 215.50,129.29 215.55,112.86 215.61,106.00 215.66,99.17 215.71,91.54 215.76,114.88 215.81,104.21 215.87,113.09 215.92,126.58 215.97,123.44 216.02,116.18 216.07,114.90 216.13,126.50 216.18,86.57 216.23,118.09 216.28,111.33 216.33,122.17 216.39,84.97 216.44,146.11 216.49,125.56 216.54,116.78 216.60,105.20 216.65,119.14 216.70,131.09 216.75,99.68 216.80,111.98 216.86,124.49 216.91,125.42 216.96,125.86 217.01,121.37 217.06,143.80 217.12,120.71 217.17,129.94 217.22,115.22 217.27,117.61 217.32,132.96 217.38,102.14 217.43,106.73 217.48,129.05 217.53,128.37 217.58,126.09 217.64,111.62 217.69,100.44 217.74,125.81 217.79,125.38 217.84,108.43 217.90,114.22 217.95,114.86 218.00,116.35 218.05,117.51 218.10,91.13 218.16,99.33 218.21,115.51 218.26,96.37 218.31,87.46 218.36,103.39 218.42,103.92 218.47,113.39 218.52,106.99 218.57,105.46 218.62,91.84 218.68,119.73 218.73,127.41 218.78,115.00 218.83,104.16 218.88,133.64 218.94,109.10 218.99,114.96 219.04,118.54 219.09,105.19 219.14,94.48 219.20,124.08 219.25,105.14 219.30,109.57 219.35,101.82 219.40,111.57 219.46,119.07 219.51,100.91 219.56,108.14 219.61,126.73 219.66,137.37 219.72,122.21 219.77,110.29 219.82,101.08 219.87,116.92 219.92,114.49 219.98,132.57 220.03,114.51 220.08,109.50 220.13,119.43 220.18,113.49 220.24,126.02 220.29,123.66 220.34,110.08 220.39,131.49 220.44,112.74 220.50,98.70 220.55,119.97 220.60,121.56 220.65,126.95 220.70,133.07 220.76,121.16 220.81,128.39 220.86,114.58 220.91,119.89 220.96,125.70 221.02,109.82 221.07,97.03 221.12,96.10 221.17,111.07 221.22,109.48 221.28,122.32 221.33,113.88 221.38,102.76 221.43,100.81 221.49,93.65 221.54,128.39 221.59,90.34 221.64,103.75 221.69,90.38 221.75,110.17 221.80,93.61 221.85,109.42 221.90,123.21 221.95,105.03 222.01,116.51 222.06,110.64 222.11,103.85 222.16,99.89 222.21,100.21 222.27,97.50 222.32,129.98 222.37,94.59 222.42,119.94 222.47,110.69 222.53,119.30 222.58,128.38 222.63,104.08 222.68,129.71 222.73,125.07 222.79,101.54 222.84,145.45 222.89,137.92 222.94,105.34 222.99,132.88 223.05,108.85 223.10,117.49 223.15,122.83 223.20,106.69 223.25,123.62 223.31,120.68 223.36,110.31 223.41,127.30 223.46,129.56 223.51,131.68 223.57,98.72 223.62,87.94 223.67,98.47 223.72,120.97 223.77,120.46 223.83,125.32 223.88,112.50 223.93,97.98 223.98,110.82 224.03,111.67 224.09,149.32 224.14,107.17 224.19,126.63 224.24,114.80 224.29,107.20 224.35,108.69 224.40,97.22 224.45,86.96 224.50,132.07 224.55,123.58 224.61,66.61 224.66,98.96 224.71,101.73 224.76,107.18 224.81,103.33 224.87,90.02 224.92,108.24 224.97,102.15 225.02,119.03 225.07,85.45 225.13,98.16 225.18,108.82 225.23,118.72 225.28,100.67 225.33,91.19 225.39,74.32 225.44,77.21 225.49,102.71 225.54,104.39 225.59,111.69 225.65,96.23 225.70,112.59 225.75,97.41 225.80,100.78 225.85,101.32 225.91,117.36 225.96,91.19 226.01,108.34 226.06,119.75 226.11,105.64 226.17,104.73 226.22,106.17 226.27,92.34 226.32,89.11 226.37,75.19 226.43,105.01 226.48,70.00 226.53,135.83 226.58,84.03 226.64,109.31 226.69,94.02 226.74,113.01 226.79,101.35 226.84,97.02 226.90,111.62 226.95,110.74 227.00,138.77 227.05,94.07 227.10,104.46 227.16,106.14 227.21,88.07 227.26,98.66 227.31,102.78 227.36,128.70 227.42,105.44 227.47,110.02 227.52,93.09 227.57,114.57 227.62,122.93 227.68,110.32 227.73,85.32 227.78,117.84 227.83,88.37 227.88,105.91 227.94,130.62 227.99,99.66 228.04,79.63 228.09,104.63 228.14,122.01 228.20,111.02 228.25,119.33 228.30,71.42 228.35,100.23 228.40,136.64 228.46,97.98 228.51,103.46 228.56,121.76 228.61,118.15 228.66,109.13 228.72,86.56 228.77,115.36 228.82,116.90 228.87,96.92 228.92,115.36 228.98,120.33 229.03,106.54 229.08,95.38 229.13,104.40 229.18,112.08 229.24,91.16 229.29,91.36 229.34,130.08 229.39,124.05 229.44,121.91 229.50,111.64 229.55,110.19 229.60,112.57 229.65,110.51 229.70,105.69 229.76,128.06 229.81,136.80 229.86,106.38 229.91,93.89 229.96,107.30 230.02,115.29 230.07,102.96 230.12,113.00 230.17,126.64 230.22,115.70 230.28,103.21 230.33,107.99 230.38,104.52 230.43,120.07 230.48,105.87 230.54,94.87 230.59,116.04 230.64,118.14 230.69,95.98 230.74,109.81 230.80,127.01 230.85,117.19 230.90,95.99 230.95,107.98 231.00,88.76 231.06,104.62 231.11,110.59 231.16,98.90 231.21,117.00 231.26,96.53 231.32,109.26 231.37,110.76 231.42,103.56 231.47,115.35 231.53,123.85 231.58,121.50 231.63,104.25 231.68,107.04 231.73,111.13 231.79,101.90 231.84,123.31 231.89,118.60 231.94,91.87 231.99,122.72 232.05,92.97 232.10,111.93 232.15,102.90 232.20,104.87 232.25,111.07 232.31,106.66 232.36,97.27 232.41,117.20 232.46,123.43 232.51,100.14 232.57,118.29 232.62,114.12 232.67,116.25 232.72,118.08 232.77,131.66 232.83,110.83 232.88,116.85 232.93,125.09 232.98,115.89 233.03,107.44 233.09,87.17 233.14,109.26 233.19,97.59 233.24,121.33 233.29,110.62 233.35,121.94 233.40,108.07 233.45,113.91 233.50,120.27 233.55,134.80 233.61,105.34 233.66,135.17 233.71,124.76 233.76,94.24 233.81,111.48 233.87,113.10 233.92,115.19 233.97,114.67 234.02,119.77 234.07,110.68 234.13,134.91 234.18,119.66 234.23,109.63 234.28,107.58 234.33,112.96 234.39,106.11 234.44,93.12 234.49,93.94 234.54,114.34 234.59,128.37 234.65,98.88 234.70,112.83 234.75,104.07 234.80,116.34 234.85,102.16 234.91,124.47 234.96,108.63 235.01,125.68 235.06,82.88 235.11,110.48 235.17,133.44 235.22,92.77 235.27,96.19 235.32,90.91 235.37,119.70 235.43,101.30 235.48,89.25 235.53,105.42 235.58,98.03 235.63,104.92 235.69,103.99 235.74,64.40 235.79,109.37 235.84,98.56 235.89,92.27 235.95,100.50 236.00,92.79 236.05,127.78 236.10,88.01 236.15,115.30 236.21,101.36 236.26,101.93 236.31,93.05 236.36,103.25 236.41,107.02 236.47,93.82 236.52,78.09 236.57,109.64 236.62,111.46 236.68,109.79 236.73,116.64 236.78,119.05 236.83,110.56 236.88,94.38 236.94,108.27 236.99,112.09 237.04,104.93 237.09,114.34 237.14,71.41 237.20,84.03 237.25,101.92 237.30,123.18 237.35,109.16 237.40,112.51 237.46,114.63 237.51,131.83 237.56,111.61 237.61,110.90 237.66,110.48 237.72,119.14 237.77,99.00 237.82,114.99 237.87,132.66 237.92,117.50 237.98,95.65 238.03,91.60 238.08,121.63 238.13,111.90 238.18,103.22 238.24,98.43 238.29,114.37 238.34,106.17 238.39,115.87 238.44,130.80 238.50,96.93 238.55,107.70 238.60,102.49 238.65,111.06 238.70,120.69 238.76,114.51 238.81,105.88 238.86,127.68 238.91,94.20 238.96,83.29 239.02,138.63 239.07,99.22 239.12,115.43 239.17,102.60 239.22,107.85 239.28,114.13 239.33,98.48 239.38,108.39 239.43,89.70 239.48,105.84 239.54,126.51 239.59,112.42 239.64,93.71 239.69,118.41 239.74,134.35 239.80,84.00 239.85,106.92 239.90,106.77 239.95,125.11 240.00,99.31 240.06,108.23 240.11,93.09 240.16,85.94 240.21,104.25 240.26,116.65 240.32,92.10 240.37,93.84 240.42,101.11 240.47,94.55 240.52,108.82 240.58,105.37 240.63,104.20 240.68,131.24 240.73,97.26 240.78,97.14 240.84,116.82 240.89,111.00 240.94,101.31 240.99,95.08 241.04,101.74 241.10,106.35 241.15,96.77 241.20,101.60 241.25,114.88 241.30,105.67 241.36,105.78 241.41,93.83 241.46,119.19 241.51,111.40 241.56,106.63 241.62,99.17 241.67,72.38 241.72,103.88 241.77,89.90 241.83,90.86 241.88,83.10 241.93,78.60 241.98,95.37 242.03,112.61 242.09,105.12 242.14,84.23 242.19,78.38 242.24,88.45 242.29,75.11 242.35,95.71 242.40,113.69 242.45,102.88 242.50,100.88 242.55,92.34 242.61,93.31 242.66,114.82 242.71,88.96 242.76,112.82 242.81,100.88 242.87,95.74 242.92,96.19 242.97,98.64 243.02,109.90 243.07,104.20 243.13,93.63 243.18,111.94 243.23,120.33 243.28,134.60 243.33,102.42 243.39,113.92 243.44,102.20 243.49,115.28 243.54,108.09 243.59,106.81 243.65,93.63 243.70,114.54 243.75,117.65 243.80,102.40 243.85,94.86 243.91,117.63 243.96,99.85 244.01,105.66 244.06,99.43 244.11,125.92 244.17,105.03 244.22,110.20 244.27,105.50 244.32,114.96 244.37,108.36 244.43,134.77 244.48,107.94 244.53,90.41 244.58,102.43 244.63,103.60 244.69,100.83 244.74,88.41 244.79,115.01 244.84,123.98 244.89,118.43 244.95,113.36 245.00,104.12 245.05,93.32 245.10,112.29 245.15,115.08 245.21,93.21 245.26,91.81 245.31,117.22 245.36,100.17 245.41,111.08 245.47,113.02 245.52,108.88 245.57,119.33 245.62,129.44 245.67,124.29 245.73,116.32 245.78,102.07 245.83,100.93 245.88,96.82 245.93,118.20 245.99,109.06 246.04,123.26 246.09,116.80 246.14,92.37 246.19,106.25 246.25,81.11 246.30,96.49 246.35,110.80 246.40,113.88 246.45,129.78 246.51,86.03 246.56,88.22 246.61,62.58 246.66,69.37 246.72,97.29 246.77,115.79 246.82,124.66 246.87,106.81 246.92,102.56 246.98,119.30 247.03,91.52 247.08,87.21 247.13,111.70 247.18,104.64 247.24,116.58 247.29,87.42 247.34,110.15 247.39,112.63 247.44,123.56 247.50,109.61 247.55,117.71 247.60,83.33 247.65,89.40 247.70,113.99 247.76,111.64 247.81,100.87 247.86,99.27 247.91,114.50 247.96,83.97 248.02,93.39 248.07,75.39 248.12,135.95 248.17,121.88 248.22,92.06 248.28,99.24 248.33,104.76 248.38,115.01 248.43,67.49 248.48,109.42 248.54,87.82 248.59,92.38 248.64,96.36 248.69,129.54 248.74,103.59 248.80,87.18 248.85,86.64 248.90,93.99 248.95,97.35 249.00,120.11 249.06,91.02 249.11,86.47 249.16,103.36 249.21,104.16 249.26,112.93 249.32,108.73 249.37,114.60 249.42,103.06 249.47,111.46 249.52,129.49 249.58,117.72 249.63,104.45 249.68,106.18 249.73,90.85 249.78,96.63 249.84,93.06 249.89,108.97 249.94,95.67 249.99,118.60 250.04,116.42 250.10,97.68 250.15,105.68 250.20,117.71 250.25,96.14 250.30,79.74 250.36,87.47 250.41,89.48 250.46,96.29 250.51,98.00 250.56,119.38 250.62,130.62 250.67,109.27 250.72,145.00 250.77,113.03 250.82,120.64 250.88,107.95 250.93,117.20 250.98,108.62 251.03,117.87 251.08,109.40 251.14,88.09 251.19,120.56 251.24,129.62 251.29,89.33 251.34,97.89 251.40,104.18 251.45,108.53 251.50,101.11 251.55,109.41 251.60,91.12 251.66,106.45 251.71,111.03 251.76,97.10 251.81,115.13 251.87,99.63 251.92,121.96 251.97,113.50 252.02,105.07 252.07,113.86 252.13,92.17 252.18,106.20 252.23,102.42 252.28,127.71 252.33,98.28 252.39,103.88 252.44,126.21 252.49,96.96 252.54,97.21 252.59,110.20 252.65,115.35 252.70,115.69 252.75,98.75 252.80,99.16 252.85,102.78 252.91,76.77 252.96,106.79 253.01,104.74 253.06,125.82 253.11,102.60 253.17,94.04 253.22,115.78 253.27,77.39 253.32,112.94 253.37,101.99 253.43,107.31 253.48,106.48 253.53,137.65 253.58,90.93 253.63,129.93 253.69,86.34 253.74,114.64 253.79,108.18 253.84,69.08 253.89,113.39 253.95,103.28 254.00,116.45 254.05,102.06 254.10,92.12 254.15,77.49 254.21,130.77 254.26,99.60 254.31,90.51 254.36,87.57 254.41,107.30 254.47,96.33 254.52,72.92 254.57,92.62 254.62,72.18 254.67,114.94 254.73,108.29 254.78,100.09 254.83,112.51 254.88,94.36 254.93,117.42 254.99,99.33 255.04,124.84 255.09,117.38 255.14,105.38 255.19,100.99 255.25,120.70 255.30,126.39 255.35,101.46 255.40,123.01 255.45,105.92 255.51,94.20 255.56,102.01 255.61,128.74 255.66,92.29 255.71,94.12 255.77,115.70 255.82,114.53 255.87,91.87 255.92,104.16 255.97,102.12 256.03,97.09 256.08,102.16 256.13,75.99 256.18,94.18 256.23,108.06 256.29,108.04 256.34,112.31 256.39,91.97 256.44,121.62 256.49,97.03 256.55,114.92 256.60,131.42 256.65,98.93 256.70,105.96 256.75,106.76 256.81,113.84 256.86,109.95 256.91,115.09 256.96,89.77 257.02,88.02 257.07,105.24 257.12,102.23 257.17,99.22 257.22,89.84 257.28,95.94 257.33,105.10 257.38,100.96 257.43,96.40 257.48,101.36 257.54,103.49 257.59,84.32 257.64,96.93 257.69,90.61 257.74,113.62 257.80,91.72 257.85,101.45 257.90,103.83 257.95,107.13 258.00,106.08 258.06,106.09 258.11,97.84 258.16,99.88 258.21,73.50 258.26,90.62 258.32,93.35 258.37,98.15 258.42,106.50 258.47,108.92 258.52,93.06 258.58,116.64 258.63,75.03 258.68,74.95 258.73,112.89 258.78,79.02 258.84,82.12 258.89,82.02 258.94,87.42 258.99,74.12 259.04,104.45 259.10,99.33 259.15,85.23 259.20,93.12 259.25,111.51 259.30,83.75 259.36,82.99 259.41,100.68 259.46,92.18 259.51,83.14 259.56,119.85 259.62,101.71 259.67,103.81 259.72,92.85 259.77,107.84 259.82,107.83 259.88,87.10 259.93,67.08 259.98,104.22 260.03,69.70 260.08,78.56 260.14,77.10 260.19,73.68 260.24,95.60 260.29,76.33 260.34,111.03 260.40,100.33 260.45,86.62 260.50,81.78 260.55,109.56 260.60,116.29 260.66,88.70 260.71,89.21 260.76,84.80 260.81,93.60 260.86,110.42 260.92,81.35 260.97,87.13 261.02,94.50 261.07,71.15 261.12,94.39 261.18,78.90 261.23,98.44 261.28,133.81 261.33,110.86 261.38,132.25 261.44,102.22 261.49,83.73 261.54,120.68 261.59,88.77 261.64,102.31 261.70,86.76 261.75,94.57 261.80,114.12 261.85,92.37 261.91,100.36 261.96,87.31 262.01,73.99 262.06,103.15 262.11,79.53 262.17,99.86 262.22,89.29 262.27,92.47 262.32,102.88 262.37,93.10 262.43,100.39 262.48,89.36 262.53,108.85 262.58,93.80 262.63,83.47 262.69,88.84 262.74,87.71 262.79,88.59 262.84,81.05 262.89,89.14 262.95,84.39 263.00,106.21 263.05,91.46 263.10,108.44 263.15,115.09 263.21,105.66 263.26,91.92 263.31,99.29 263.36,76.76 263.41,91.81 263.47,94.69 263.52,98.61 263.57,116.76 263.62,101.19 263.67,101.63 263.73,82.46 263.78,114.42 263.83,107.12 263.88,115.25 263.93,104.54 263.99,126.80 264.04,99.58 264.09,102.98 264.14,102.21 264.19,69.34 264.25,105.20 264.30,98.68 264.35,105.14 264.40,92.07 264.45,75.63 264.51,81.80 264.56,97.38 264.61,117.89 264.66,95.25 264.71,121.67 264.77,112.10 264.82,108.04 264.87,114.04 264.92,99.29 264.97,104.19 265.03,110.95 265.08,97.30 265.13,114.78 265.18,89.58 265.23,98.69 265.29,110.86 265.34,103.32 265.39,114.51 265.44,114.14 265.49,95.27 265.55,127.50 265.60,100.68 265.65,81.54 265.70,130.69 265.75,73.44 265.81,127.55 265.86,131.29 265.91,130.46 265.96,118.03 266.01,109.07 266.07,126.78 266.12,104.56 266.17,90.35 266.22,109.60 266.27,100.41 266.33,93.69 266.38,80.03 266.43,101.42 266.48,91.35 266.53,91.32 266.59,98.89 266.64,103.24 266.69,95.53 266.74,88.96 266.79,112.48 266.85,101.85 266.90,91.88 266.95,92.58 267.00,94.45 267.06,79.31 267.11,86.62 267.16,115.28 267.21,79.68 267.26,108.41 267.32,109.62 267.37,84.95 267.42,104.53 267.47,121.69 267.52,91.55 267.58,95.76 267.63,92.52 267.68,115.40 267.73,87.08 267.78,102.52 267.84,84.37 267.89,113.15 267.94,110.47 267.99,124.33 268.04,106.72 268.10,83.23 268.15,94.00 268.20,103.86 268.25,77.09 268.30,91.87 268.36,85.37 268.41,90.67 268.46,94.76 268.51,92.18 268.56,86.64 268.62,77.58 268.67,84.82 268.72,80.79 268.77,103.90 268.82,114.36 268.88,84.73 268.93,86.38 268.98,82.89 269.03,101.64 269.08,86.21 269.14,101.15 269.19,86.36 269.24,87.90 269.29,90.73 269.34,85.75 269.40,97.74 269.45,92.36 269.50,83.67 269.55,74.00 269.60,87.59 269.66,83.83 269.71,87.31 269.76,72.45 269.81,64.90 269.86,100.02 269.92,81.65 269.97,85.09 270.02,70.37 270.07,121.85 270.12,100.50 270.18,115.18 270.23,75.02 270.28,90.98 270.33,85.48 270.38,89.09 270.44,91.23 270.49,89.00 270.54,100.84 270.59,124.01 270.64,93.75 270.70,99.71 270.75,106.47 270.80,108.47 270.85,85.22 270.90,112.72 270.96,118.37 271.01,97.32 271.06,87.92 271.11,122.98 271.16,114.69 271.22,116.24 271.27,99.93 271.32,96.77 271.37,87.41 271.42,107.18 271.48,109.92 271.53,114.18 271.58,91.78 271.63,113.35 271.68,116.31 271.74,107.01 271.79,103.21 271.84,98.41 271.89,111.73 271.95,83.05 272.00,79.85 272.05,118.89 272.10,100.04 272.15,115.61 272.21,104.21 272.26,112.71 272.31,107.66 272.36,101.62 272.41,102.31 272.47,120.17 272.52,129.72 272.57,127.58 272.62,87.73 272.67,106.22 272.73,103.29 272.78,83.33 272.83,114.43 272.88,95.86 272.93,111.79 272.99,100.45 273.04,114.06 273.09,114.28 273.14,102.29 273.19,100.89 273.25,121.80 273.30,107.38 273.35,91.90 273.40,105.37 273.45,91.44 273.51,93.84 273.56,100.33 273.61,108.94 273.66,104.97 273.71,119.63 273.77,97.45 273.82,100.48 273.87,90.60 273.92,77.41 273.97,93.11 274.03,97.56 274.08,101.95 274.13,92.71 274.18,86.11 274.23,107.54 274.29,120.52 274.34,121.48 274.39,93.25 274.44,99.81 274.49,98.53 274.55,128.54 274.60,113.46 274.65,127.26 274.70,125.26 274.75,120.18 274.81,121.18 274.86,91.02 274.91,127.85 274.96,121.15 275.01,122.67 275.07,110.54 275.12,101.86 275.17,123.17 275.22,133.29 275.27,95.31 275.33,106.66 275.38,125.31 275.43,97.87 275.48,123.26 275.53,119.48 275.59,116.84 275.64,86.05 275.69,98.71 275.74,105.14 275.79,123.03 275.85,125.27 275.90,119.28 275.95,90.23 276.00,97.83 276.05,111.03 276.11,122.48 276.16,137.12 276.21,121.95 276.26,110.40 276.31,111.19 276.37,120.66 276.42,126.35 276.47,110.39 276.52,118.05 276.57,105.40 276.63,123.28 276.68,105.21 276.73,109.84 276.78,118.97 276.83,97.94 276.89,124.36 276.94,101.10 276.99,115.64 277.04,112.08 277.10,101.49 277.15,113.57 277.20,122.77 277.25,122.13 277.30,123.79 277.36,107.54 277.41,102.76 277.46,107.72 277.51,125.07 277.56,102.40 277.62,92.49 277.67,118.81 277.72,114.24 277.77,91.81 277.82,106.41 277.88,91.45 277.93,107.47 277.98,87.20 278.03,101.56 278.08,102.21 278.14,97.76 278.19,110.74 278.24,106.16 278.29,72.72 278.34,105.90 278.40,78.64 278.45,112.55 278.50,94.18 278.55,90.14 278.60,84.38 278.66,93.47 278.71,102.90 278.76,94.58 278.81,117.91 278.86,129.77 278.92,115.75 278.97,77.72 279.02,87.59 279.07,75.09 279.12,94.44 279.18,119.32 279.23,112.86 279.28,96.89 279.33,112.81 279.38,114.05 279.44,114.91 279.49,112.65 279.54,127.28 279.59,96.76 279.64,114.97 279.70,89.10 279.75,81.68 279.80,105.24 279.85,89.19 279.90,88.81 279.96,99.27 280.01,104.33 280.06,87.22 280.11,97.25 280.16,104.63 280.22,110.40 280.27,104.20 280.32,90.31 280.37,93.00 280.42,108.96 280.48,105.98 280.53,102.64 280.58,111.56 280.63,109.62 280.68,122.39 280.74,116.67 280.79,103.58 280.84,104.84 280.89,110.90 280.94,78.17 281.00,109.00 281.05,96.21 281.10,100.13 281.15,109.51 281.20,96.21 281.26,90.05 281.31,102.74 281.36,94.12 281.41,65.30 281.46,110.23 281.52,102.10 281.57,91.58 281.62,98.94 281.67,109.16 281.72,103.03 281.78,100.81 281.83,100.26 281.88,96.58 281.93,77.32 281.98,95.50 282.04,102.85 282.09,92.06 282.14,92.93 282.19,113.13 282.25,106.21 282.30,114.49 282.35,97.94 282.40,91.76 282.45,102.78 282.51,84.97 282.56,107.70 282.61,104.79 282.66,101.17 282.71,99.17 282.77,80.18 282.82,114.33 282.87,91.84 282.92,99.10 282.97,84.01 283.03,113.06 283.08,109.86 283.13,77.38 283.18,82.05 283.23,82.55 283.29,95.16 283.34,78.81 283.39,91.52 283.44,104.42 283.49,88.71 283.55,91.63 283.60,102.18 283.65,95.16 283.70,96.66 283.75,84.59 283.81,78.85 283.86,76.81 283.91,78.54 283.96,105.39 284.01,84.66 284.07,84.25 284.12,88.71 284.17,102.99 284.22,125.59 284.27,88.87 284.33,103.27 284.38,81.67 284.43,111.24 284.48,87.84 284.53,101.26 284.59,110.74 284.64,99.54 284.69,94.53 284.74,82.41 284.79,81.60 284.85,77.01 284.90,83.94 284.95,100.61 285.00,103.06 285.05,96.11 285.11,104.31 285.16,121.29 285.21,126.18 285.26,90.47 285.31,98.01 285.37,75.17 285.42,106.40 285.47,85.32 285.52,96.76 285.57,92.46 285.63,101.01 285.68,89.38 285.73,95.18 285.78,108.66 285.83,105.37 285.89,105.49 285.94,103.12 285.99,99.79 286.04,108.04 286.09,110.64 286.15,106.12 286.20,126.31 286.25,101.21 286.30,103.06 286.35,140.30 286.41,121.63 286.46,107.19 286.51,135.03 286.56,101.37 286.61,95.68 286.67,102.75 286.72,96.17 286.77,110.40 286.82,97.19 286.87,98.54 286.93,107.96 286.98,104.74 287.03,125.80 287.08,121.18 287.14,90.23 287.19,89.24 287.24,112.06 287.29,122.18 287.34,130.07 287.40,90.36 287.45,99.11 287.50,80.51 287.55,90.54 287.60,81.48 287.66,85.08 287.71,112.01 287.76,109.48 287.81,92.62 287.86,124.22 287.92,98.16 287.97,110.43 288.02,87.46 288.07,111.23 288.12,112.13 288.18,88.50 288.23,140.09 288.28,89.53 288.33,98.26 288.38,105.21 288.44,88.65 288.49,103.21 288.54,87.52 288.59,94.51 288.64,88.41 288.70,111.29 288.75,105.93 288.80,76.50 288.85,97.76 288.90,102.76 288.96,111.64 289.01,105.13 289.06,97.04 289.11,116.23 289.16,101.93 289.22,106.24 289.27,127.88 289.32,103.16 289.37,56.18 289.42,107.49 289.48,105.15 289.53,98.42 289.58,107.70 289.63,120.65 289.68,97.92 289.74,104.45 289.79,107.62 289.84,83.73 289.89,99.67 289.94,110.43 290.00,107.39 290.05,78.37 290.10,87.23 290.15,118.14 290.20,90.70 290.26,105.49 290.31,106.89 290.36,85.19 290.41,91.83 290.46,110.33 290.52,98.61 290.57,89.68 290.62,98.32 290.67,93.14 290.72,105.64 290.78,81.42 290.83,81.98 290.88,108.41 290.93,117.39 290.98,106.33 291.04,91.63 291.09,101.39 291.14,104.74 291.19,105.03 291.24,124.33 291.30,104.66 291.35,105.49 291.40,110.57 291.45,92.71 291.50,112.39 291.56,111.16 291.61,93.36 291.66,95.35 291.71,104.19 291.76,103.32 291.82,99.49 291.87,100.41 291.92,113.05 291.97,90.96 292.02,75.17 292.08,95.23 292.13,103.67 292.18,84.33 292.23,92.37 292.29,109.78 292.34,103.07 292.39,111.97 292.44,91.48 292.49,122.37 292.55,91.51 292.60,114.85 292.65,102.52 292.70,111.02 292.75,98.13 292.81,87.93 292.86,93.92 292.91,118.71 292.96,86.65 293.01,99.10 293.07,78.40 293.12,107.63 293.17,105.70 293.22,110.64 293.27,101.33 293.33,88.96 293.38,110.73 293.43,80.94 293.48,82.58 293.53,88.58 293.59,93.32 293.64,69.35 293.69,112.32 293.74,103.52 293.79,70.17 293.85,114.61 293.90,94.22 293.95,101.76 294.00,111.38 294.05,112.04 294.11,102.45 294.16,96.88 294.21,93.06 294.26,93.00 294.31,96.31 294.37,81.16 294.42,89.34 294.47,106.44 294.52,115.46 294.57,88.67 294.63,86.48 294.68,91.32 294.73,80.91 294.78,114.37 294.83,126.02 294.89,108.58 294.94,92.85 294.99,109.93 295.04,81.72 295.09,86.63 295.15,104.69 295.20,83.26 295.25,109.53 295.30,97.38 295.35,86.67 295.41,73.25 295.46,81.71 295.51,74.37 295.56,112.75 295.61,55.37 295.67,104.44 295.72,89.72 295.77,72.07 295.82,83.33 295.87,76.14 295.93,105.86 295.98,101.64 296.03,94.13 296.08,96.72 296.13,87.82 296.19,93.31 296.24,104.96 296.29,87.65 296.34,106.36 296.39,96.36 296.45,84.88 296.50,102.91 296.55,93.42 296.60,84.76 296.65,75.38 296.71,80.20 296.76,83.31 296.81,88.73 296.86,111.63 296.91,106.28 296.97,104.59 297.02,100.11 297.07,94.12 297.12,104.56 297.18,96.02 297.23,78.15 297.28,99.62 297.33,119.47 297.38,95.74 297.44,92.07 297.49,96.49 297.54,65.46 297.59,80.26 297.64,70.56 297.70,98.91 297.75,82.29 297.80,91.20 297.85,94.71 297.90,102.66 297.96,91.53 298.01,121.57 298.06,85.36 298.11,64.67 298.16,80.48 298.22,127.57 298.27,97.35 298.32,109.76 298.37,107.75 298.42,102.38 298.48,84.25 298.53,91.22 298.58,109.83 298.63,93.97 298.68,97.10 298.74,73.96 298.79,119.12 298.84,101.33 298.89,111.23 298.94,98.84 299.00,126.10 299.05,113.30 299.10,102.32 299.15,107.89 299.20,111.56 299.26,100.08 299.31,105.85 299.36,109.14 299.41,99.00 299.46,95.14 299.52,91.61 299.57,116.81 299.62,99.45 299.67,78.59 299.72,113.06 299.78,92.59 299.83,98.35 299.88,78.93 299.93,77.10 299.98,89.69 300.04,98.32 300.09,114.94 300.14,99.52 300.19,102.90 300.24,92.22 300.30,72.89 300.35,67.02 300.40,86.86 300.45,88.41 300.50,90.22 300.56,84.80 300.61,90.37 300.66,63.94 300.71,95.08 300.76,85.32 300.82,93.79 300.87,71.68 300.92,61.67 300.97,92.52 301.02,81.45 301.08,82.41 301.13,76.77 301.18,90.28 301.23,61.34 301.28,59.38 301.34,70.16 301.39,71.89 301.44,87.53 301.49,57.84 301.54,100.78 301.60,92.75 301.65,56.05 301.70,89.97 301.75,96.33 301.80,106.50 301.86,73.01 301.91,71.78 301.96,83.91 302.01,109.11 302.06,91.13 302.12,97.70 302.17,77.64 302.22,70.20 302.27,83.32 302.33,82.55 302.38,68.32 302.43,66.08 302.48,106.88 302.53,80.24 302.59,103.16 302.64,99.14 302.69,73.52 302.74,100.54 302.79,89.26 302.85,74.00 302.90,84.98 302.95,108.57 303.00,87.90 303.05,88.11 303.11,99.02 303.16,64.26 303.21,90.02 303.26,92.05 303.31,79.74 303.37,92.13 303.42,110.06 303.47,93.84 303.52,89.38 303.57,91.80 303.63,80.03 303.68,82.23 303.73,87.23 303.78,95.81 303.83,95.90 303.89,74.86 303.94,120.36 303.99,85.41 304.04,91.38 304.09,105.01 304.15,97.80 304.20,90.68 304.25,117.33 304.30,97.71 304.35,92.56 304.41,110.79 304.46,97.53 304.51,80.25 304.56,94.23 304.61,108.89 304.67,116.79 304.72,120.29 304.77,85.46 304.82,99.98 304.87,96.42 304.93,97.99 304.98,104.62 305.03,74.02 305.08,86.03 305.13,75.80 305.19,109.62 305.24,86.10 305.29,82.64 305.34,102.87 305.39,97.79 305.45,98.12 305.50,75.59 305.55,85.47 305.60,99.61 305.65,79.92 305.71,98.92 305.76,88.75 305.81,93.04 305.86,102.67 305.91,79.24 305.97,89.81 306.02,120.16 306.07,95.07 306.12,72.95 306.17,119.58 306.23,80.43 306.28,62.68 306.33,109.29 306.38,94.02 306.43,106.23 306.49,108.83 306.54,84.28 306.59,86.76 306.64,111.46 306.69,93.44 306.75,87.53 306.80,108.64 306.85,76.03 306.90,99.38 306.95,88.15 307.01,88.29 307.06,109.71 307.11,94.51 307.16,96.65 307.21,93.72 307.27,95.30 307.32,84.42 307.37,83.54 307.42,72.23 307.48,79.50 307.53,108.30 307.58,98.62 307.63,85.91 307.68,77.69 307.74,97.86 307.79,90.99 307.84,88.97 307.89,93.85 307.94,79.19 308.00,101.24 308.05,82.04 308.10,98.87 308.15,84.58 308.20,102.47 308.26,96.39 308.31,83.21 308.36,107.34 308.41,94.43 308.46,88.45 308.52,97.72 308.57,100.05 308.62,96.86 308.67,108.50 308.72,87.71 308.78,88.04 308.83,83.80 308.88,96.52 308.93,86.24 308.98,106.60 309.04,94.10 309.09,112.21 309.14,97.54 309.19,105.49 309.24,88.64 309.30,124.99 309.35,103.76 309.40,106.16 309.45,93.11 309.50,109.44 309.56,105.51 309.61,86.11 309.66,110.13 309.71,106.77 309.76,87.34 309.82,127.19 309.87,97.22 309.92,98.11 309.97,99.58 310.02,126.12 310.08,122.86 310.13,116.38 310.18,118.43 310.23,98.65 310.28,110.99 310.34,86.57 310.39,105.19 310.44,98.06 310.49,113.17 310.54,112.70 310.60,100.17 310.65,94.85 310.70,115.61 310.75,89.64 310.80,110.06 310.86,89.62 310.91,122.57 310.96,112.84 311.01,98.77 311.06,106.86 311.12,112.31 311.17,97.50 311.22,95.43 311.27,113.28 311.32,98.41 311.38,112.94 311.43,118.66 311.48,94.25 311.53,117.75 311.58,116.48 311.64,100.08 311.69,119.93 311.74,119.62 311.79,108.99 311.84,103.45 311.90,90.90 311.95,105.66 312.00,110.38 312.05,116.55 312.10,106.95 312.16,107.28 312.21,87.30 312.26,119.34 312.31,121.09 312.37,120.60 312.42,101.13 312.47,93.50 312.52,77.96 312.57,116.79 312.63,96.74 312.68,104.62 312.73,75.52 312.78,89.89 312.83,92.77 312.89,93.88 312.94,79.80 312.99,87.45 313.04,99.94 313.09,81.21 313.15,97.65 313.20,122.51 313.25,94.94 313.30,109.90 313.35,89.13 313.41,76.29 313.46,91.95 313.51,91.54 313.56,114.42 313.61,109.40 313.67,104.69 313.72,72.31 313.77,103.05 313.82,95.89 313.87,122.50 313.93,105.69 313.98,98.88 314.03,101.45 314.08,105.12 314.13,76.29 314.19,93.25 314.24,117.65 314.29,119.11 314.34,95.21 314.39,91.36 314.45,117.94 314.50,92.70 314.55,117.88 314.60,102.40 314.65,84.33 314.71,118.18 314.76,96.65 314.81,98.08 314.86,110.36 314.91,87.51 314.97,107.22 315.02,105.30 315.07,109.38 315.12,92.12 315.17,87.78 315.23,76.26 315.28,97.03 315.33,105.02 315.38,78.96 315.43,105.25 315.49,87.55 315.54,56.08 315.59,85.79 315.64,115.65 315.69,105.42 315.75,101.80 315.80,82.16 315.85,101.68 315.90,79.12 315.95,85.66 316.01,88.83 316.06,91.03 316.11,97.85 316.16,70.12 316.21,86.62 316.27,69.21 316.32,101.59 316.37,110.75 316.42,73.56 316.47,106.53 316.53,91.47 316.58,98.68 316.63,93.82 316.68,94.26 316.73,91.44 316.79,105.82 316.84,86.20 316.89,98.41 316.94,68.85 316.99,90.73 317.05,72.37 317.10,95.82 317.15,80.14 317.20,98.37 317.25,104.11 317.31,94.29 317.36,94.98 317.41,60.88 317.46,112.38 317.52,105.44 317.57,89.06 317.62,100.68 317.67,111.22 317.72,91.68 317.78,103.20 317.83,113.80 317.88,120.89 317.93,104.94 317.98,98.89 318.04,103.24 318.09,90.38 318.14,110.07 318.19,101.13 318.24,114.91 318.30,127.49 318.35,97.81 318.40,111.52 318.45,96.90 318.50,112.47 318.56,125.33 318.61,117.51 318.66,110.59 318.71,115.21 318.76,112.10 318.82,103.53 318.87,112.19 318.92,105.89 318.97,110.05 319.02,115.15 319.08,117.04 319.13,132.10 319.18,94.93 319.23,87.95 319.28,114.00 319.34,112.01 319.39,112.41 319.44,100.25 319.49,104.72 319.54,106.79 319.60,103.18 319.65,123.07 319.70,106.18 319.75,104.94 319.80,95.90 319.86,111.96 319.91,108.53 319.96,100.46 320.01,67.66 320.06,109.15 320.12,77.22 320.17,114.57 320.22,103.41 320.27,115.82 320.32,89.27 320.38,105.14 320.43,103.98 320.48,92.86 320.53,89.70 320.58,112.48 320.64,103.19 320.69,112.55 320.74,92.27 320.79,132.95 320.84,75.68 320.90,107.52 320.95,130.49 321.00,102.05 321.05,112.61 321.10,101.54 321.16,100.53 321.21,87.43 321.26,124.50 321.31,96.87 321.36,86.10 321.42,118.42 321.47,93.28 321.52,91.12 321.57,105.60 321.62,123.00 321.68,97.20 321.73,103.64 321.78,80.11 321.83,103.54 321.88,92.79 321.94,99.92 321.99,105.59 322.04,123.85 322.09,115.94 322.14,104.41 322.20,104.87 322.25,108.68 322.30,97.64 322.35,104.70 322.41,97.29 322.46,106.69 322.51,102.36 322.56,113.40 322.61,124.60 322.67,94.96 322.72,92.92 322.77,94.58 322.82,112.39 322.87,88.87 322.93,91.21 322.98,100.35 323.03,109.52 323.08,105.67 323.13,106.18 323.19,95.38 323.24,107.99 323.29,99.23 323.34,104.61 323.39,115.94 323.45,99.98 323.50,99.11 323.55,97.88 323.60,136.67 323.65,85.45 323.71,98.36 323.76,107.70 323.81,71.43 323.86,97.33 323.91,88.79 323.97,96.14 324.02,125.11 324.07,80.31 324.12,110.09 324.17,84.03 324.23,99.22 324.28,108.60 324.33,126.77 324.38,100.87 324.43,109.57 324.49,99.72 324.54,114.42 324.59,91.28 324.64,108.18 324.69,107.78 324.75,75.59 324.80,89.60 324.85,109.83 324.90,96.62 324.95,121.14 325.01,110.55 325.06,102.55 325.11,108.83 325.16,108.75 325.21,87.96 325.27,104.60 325.32,107.93 325.37,104.39 325.42,102.58 325.47,83.83 325.53,89.49 325.58,111.70 325.63,77.05 325.68,80.33 325.73,99.16 325.79,107.06 325.84,93.94 325.89,101.28 325.94,88.97 325.99,96.37 326.05,80.92 326.10,116.65 326.15,104.55 326.20,92.95 326.25,101.45 326.31,98.94 326.36,109.61 326.41,72.02 326.46,80.44 326.51,87.09 326.57,106.68 326.62,101.01 326.67,96.95 326.72,74.31 326.77,78.56 326.83,70.15 326.88,77.02 326.93,77.41 326.98,98.82 327.03,103.97 327.09,77.59 327.14,101.74 327.19,87.06 327.24,103.94 327.29,109.28 327.35,99.38 327.40,110.30 327.45,102.17" fill="none" stroke="#F8766D" stroke-width="0.6" stroke-opacity="1.0" stroke-linejoin="bevel"/>
<polyline points="434.10,173.99 434.23,141.41 434.37,196.07 434.50,185.07 434.63,176.94 434.77,157.28 434.90,223.21 435.03,192.49 435.17,177.30 435.30,222.19 435.43,182.60 435.57,189.77 435.70,175.07 435.83,201.85 435.97,189.92 436.10,202.32 436.23,176.02 436.37,189.90 436.50,200.85 436.63,210.90 436.77,168.22 436.90,190.93 437.03,186.04 437.16,211.94 437.30,216.27 437.43,185.77 437.56,197.69 437.70,220.41 437.83,213.41 437.96,205.24 438.10,199.74 438.23,211.03 438.36,181.21 438.50,187.13 438.63,194.39 438.76,216.36 438.90,200.57 439.03,184.78 439.16,174.51 439.30,204.21 439.43,174.67 439.56,191.09 439.70,198.11 439.83,223.21 439.96,217.16 440.10,222.52 440.23,213.98 440.36,200.56 440.50,172.59 440.63,202.28 440.76,206.94 440.90,141.41 441.03,178.25 441.16,190.34 441.30,186.62 441.43,215.65 441.56,180.76 441.70,181.99 441.83,177.15 441.96,179.08 442.10,184.35 442.23,167.04 442.36,200.82 442.50,202.85 442.63,194.11 442.76,216.44 442.90,196.36 443.03,200.43 443.16,179.35 443.30,197.18 443.43,215.25 443.56,185.47 443.70,162.70 443.83,214.40 443.96,193.91 444.10,169.81 444.23,212.64 444.36,196.77 444.50,185.93 444.63,210.40 444.76,195.48 444.90,181.01 445.03,216.74 445.16,193.81 445.30,161.22 445.43,203.14 445.56,193.73 445.70,197.74 445.83,204.20 445.96,167.12 446.10,163.77 446.23,210.38 446.36,191.60 446.50,176.83 446.63,163.37 446.76,194.39 446.90,185.93 447.03,164.77 447.16,189.37 447.30,173.55 447.43,177.81 447.56,196.00 447.70,180.97 447.83,198.89 447.96,176.88 448.10,205.64 448.23,211.15 448.36,192.03 448.50,195.47 448.63,198.86 448.76,182.56 448.90,206.31 449.03,185.27 449.16,174.21 449.30,182.02 449.43,201.39 449.56,141.41 449.70,141.41 449.83,188.47 449.96,182.35 450.10,163.24 450.23,192.28 450.36,220.48 450.49,197.96 450.63,195.28 450.76,141.41 450.89,215.66 451.03,149.32 451.16,194.29 451.29,172.25 451.43,210.43 451.56,208.70 451.69,179.99 451.83,200.29 451.96,175.08 452.09,191.58 452.23,188.40 452.36,183.58 452.49,186.27 452.63,187.21 452.76,168.08 452.89,214.87 453.03,221.06 453.16,205.94 453.29,176.36 453.43,184.05 453.56,172.40 453.69,175.76 453.83,217.67 453.96,202.28 454.09,223.21 454.23,195.25 454.36,165.19 454.49,208.31 454.63,215.13 454.76,187.65 454.89,149.11 455.03,98.64 455.16,92.53 455.29,97.43 455.43,179.45 455.56,194.39 455.69,139.10 455.83,109.15 455.96,81.20 456.09,163.36 456.23,179.80 456.36,167.19 456.49,176.15 456.63,153.62 456.76,141.78 456.89,156.59 457.03,127.29 457.16,83.09 457.29,174.51 457.43,177.34 457.56,148.18 457.69,107.63 457.83,163.21 457.96,130.00 458.09,167.45 458.23,127.34 458.36,183.58 458.49,139.01 458.63,157.63 458.76,163.31 458.89,134.13 459.03,146.16 459.16,177.85 459.29,147.71 459.43,205.14 459.56,156.98 459.69,87.17 459.83,145.39 459.96,160.88 460.09,166.74 460.23,162.90 460.36,165.43 460.49,158.19 460.63,170.19 460.76,167.23 460.89,171.62 461.03,167.84 461.16,190.40 461.29,89.74 461.43,149.29 461.56,184.22 461.69,118.12 461.83,152.41 461.96,152.53 462.09,132.48 462.23,185.49 462.36,206.70 462.49,167.34 462.63,170.29 462.76,141.54 462.89,165.30 463.03,148.97 463.16,146.70 463.29,159.88 463.43,167.88 463.56,158.22 463.69,184.33 463.82,150.99 463.96,193.31 464.09,180.85 464.22,187.80 464.36,199.94 464.49,183.02 464.62,170.98 464.76,137.13 464.89,135.96 465.02,168.72 465.16,122.72 465.29,189.06 465.42,179.93 465.56,162.21 465.69,152.70 465.82,192.91 465.96,195.09 466.09,111.04 466.22,182.44 466.36,208.82 466.49,200.96 466.62,176.86 466.76,149.20 466.89,163.36 467.02,106.53 467.16,154.13 467.29,142.84 467.42,120.43 467.56,159.11 467.69,136.47 467.82,168.81 467.96,170.41 468.09,114.97 468.22,162.13 468.36,158.36 468.49,175.51 468.62,150.38 468.76,166.00 468.89,138.00 469.02,148.68 469.16,170.74 469.29,120.85 469.42,210.45 469.56,200.12 469.69,210.60 469.82,164.41 469.96,169.57 470.09,155.04 470.22,169.53 470.36,204.25 470.49,152.00 470.62,174.85 470.76,177.20 470.89,192.14 471.02,161.62 471.16,177.80 471.29,181.14 471.42,155.17 471.56,159.15 471.69,182.50 471.82,128.83 471.96,196.05 472.09,201.65 472.22,157.30 472.36,162.36 472.49,170.58 472.62,178.51 472.76,175.78 472.89,184.60 473.02,207.13 473.16,159.40 473.29,205.26 473.42,176.89 473.56,167.68 473.69,198.05 473.82,140.49 473.96,219.28 474.09,212.08 474.22,210.90 474.36,190.66 474.49,194.26 474.62,227.53 474.76,203.73 474.89,229.11 475.02,222.12 475.16,220.17 475.29,234.99 475.42,228.88 475.56,218.91 475.69,217.21 475.82,218.01 475.96,228.94 476.09,206.48 476.22,226.90 476.36,235.09 476.49,201.02 476.62,217.32 476.75,206.67 476.89,227.68 477.02,223.33 477.15,223.35 477.29,223.30 477.42,198.02 477.55,231.70 477.69,226.41 477.82,237.88 477.95,210.99 478.09,214.31 478.22,207.16 478.35,220.98 478.49,216.60 478.62,197.29 478.75,219.94 478.89,213.90 479.02,210.05 479.15,224.52 479.29,198.28 479.42,231.57 479.55,212.40 479.69,218.74 479.82,235.60 479.95,221.19 480.09,220.72 480.22,233.76 480.35,232.12 480.49,216.27 480.62,209.34 480.75,213.78 480.89,192.02 481.02,205.26 481.15,221.62 481.29,212.15 481.42,227.87 481.55,219.08 481.69,198.45 481.82,195.88 481.95,197.48 482.09,217.05 482.22,220.97 482.35,219.42 482.49,219.40 482.62,222.31 482.75,222.77 482.89,216.70 483.02,225.97 483.15,226.24 483.29,218.59 483.42,223.13 483.55,221.66 483.69,236.33 483.82,214.78 483.95,218.83 484.09,212.44 484.22,215.49 484.35,236.88 484.49,186.88 484.62,214.10 484.75,209.88 484.89,230.30 485.02,211.23 485.15,217.88 485.29,223.79 485.42,215.73 485.55,198.48 485.69,225.78 485.82,231.32 485.95,206.81 486.09,209.19 486.22,227.19 486.35,189.67 486.49,220.13 486.62,219.60 486.75,216.88 486.89,220.83 487.02,204.85 487.15,207.17 487.29,217.11 487.42,212.95 487.55,212.44 487.69,207.94 487.82,207.48 487.95,209.63 488.09,214.39 488.22,211.12 488.35,216.21 488.49,215.73 488.62,202.62 488.75,227.67 488.89,197.51 489.02,176.99 489.15,222.88 489.29,182.13 489.42,228.89 489.55,208.56 489.69,180.81 489.82,185.16 489.95,226.40 490.09,228.05 490.22,233.04 490.35,207.52 490.48,223.92 490.62,222.43 490.75,214.49 490.88,210.06 491.02,215.62 491.15,211.53 491.28,218.54 491.42,190.47 491.55,229.73 491.68,188.48 491.82,217.70 491.95,213.15 492.08,222.78 492.22,211.05 492.35,203.97 492.48,213.11 492.62,222.38 492.75,206.90 492.88,221.21 493.02,184.89 493.15,217.54 493.28,221.95 493.42,204.46 493.55,187.33 493.68,207.24 493.82,205.47 493.95,185.03 494.08,215.94 494.22,216.54 494.35,205.18 494.48,215.16 494.62,221.71 494.75,216.24 494.88,193.51 495.02,186.44 495.15,204.21 495.28,203.82 495.42,225.91 495.55,181.88 495.68,170.85 495.82,206.64 495.95,185.35 496.08,220.59 496.22,205.23 496.35,188.98 496.48,221.28 496.62,172.47 496.75,208.13 496.88,210.21 497.02,207.64 497.15,183.97 497.28,187.85 497.42,198.65 497.55,168.15 497.68,204.67 497.82,210.97 497.95,228.71 498.08,211.41 498.22,203.64 498.35,214.71 498.48,224.25 498.62,203.52 498.75,199.68 498.88,176.19 499.02,196.83 499.15,211.59 499.28,203.52 499.42,219.58 499.55,195.84 499.68,201.95 499.82,205.98 499.95,199.31 500.08,205.72 500.22,217.41 500.35,176.03 500.48,156.29 500.62,186.80 500.75,181.16 500.88,204.83 501.02,215.22 501.15,177.72 501.28,210.90 501.42,196.53 501.55,208.46 501.68,190.47 501.82,195.79 501.95,186.37 502.08,209.48 502.22,198.83 502.35,175.43 502.48,211.36 502.62,208.33 502.75,167.74 502.88,199.63 503.02,173.81 503.15,227.27 503.28,200.65 503.42,224.28 503.55,143.22 503.68,186.21 503.81,164.27 503.95,209.91 504.08,217.77 504.21,215.11 504.35,209.92 504.48,225.31 504.61,156.00 504.75,190.14 504.88,205.76 505.01,205.30 505.15,163.51 505.28,172.36 505.41,217.55 505.55,200.14 505.68,180.32 505.81,213.91 505.95,201.07 506.08,183.58 506.21,216.13 506.35,210.42 506.48,226.00 506.61,220.03 506.75,190.83 506.88,206.55 507.01,209.33 507.15,204.45 507.28,166.66 507.41,190.37 507.55,207.92 507.68,196.61 507.81,183.04 507.95,196.95 508.08,225.15 508.21,199.92 508.35,203.10 508.48,183.67 508.61,216.89 508.75,178.57 508.88,215.95 509.01,228.80 509.15,187.89 509.28,217.97 509.41,211.99 509.55,219.83 509.68,204.25 509.81,198.85 509.95,201.30 510.08,200.30 510.21,217.96 510.35,221.52 510.48,189.98 510.61,209.69 510.75,200.32 510.88,205.39 511.01,226.86 511.15,217.54 511.28,223.91 511.41,212.64 511.55,201.66 511.68,204.71 511.81,183.93 511.95,208.94 512.08,211.85 512.21,169.09 512.35,200.05 512.48,204.92 512.61,229.66 512.75,221.02 512.88,216.00 513.01,229.76 513.15,188.50 513.28,196.92 513.41,201.26 513.55,214.66 513.68,215.32 513.81,214.03 513.95,210.30 514.08,195.75 514.21,200.84 514.35,199.04 514.48,185.24 514.61,226.31 514.75,196.45 514.88,183.75 515.01,174.84 515.15,195.63 515.28,192.56 515.41,213.34 515.55,186.44 515.68,191.19 515.81,208.21 515.95,198.68 516.08,188.94 516.21,178.73 516.35,220.12 516.48,204.39 516.61,210.14 516.75,182.27 516.88,186.69 517.01,219.09 517.14,219.97 517.28,181.45 517.41,195.02 517.54,204.56 517.68,216.24 517.81,212.78 517.94,189.87 518.08,205.58 518.21,221.07 518.34,194.12 518.48,203.41 518.61,217.16 518.74,195.42 518.88,210.50 519.01,200.21 519.14,214.61 519.28,204.32 519.41,229.34 519.54,207.41 519.68,225.77 519.81,192.14 519.94,231.40 520.08,206.24 520.21,185.77 520.34,209.78 520.48,208.88 520.61,232.69 520.74,199.96 520.88,174.10 521.01,218.65 521.14,210.36 521.28,213.38 521.41,221.65 521.54,226.45 521.68,233.60 521.81,207.31 521.94,222.92 522.08,222.73 522.21,209.49 522.34,216.31 522.48,186.89 522.61,207.22 522.74,223.61 522.88,199.31 523.01,212.47 523.14,221.32 523.28,235.75 523.41,223.27 523.54,211.10 523.68,223.61 523.81,205.31 523.94,220.34 524.08,228.77 524.21,225.20 524.34,235.01 524.48,225.17 524.61,234.35 524.74,238.99 524.88,237.84 525.01,223.33 525.14,227.29 525.28,219.02 525.41,235.19 525.54,233.73 525.68,222.49 525.81,227.56 525.94,229.51 526.08,189.95 526.21,209.30 526.34,210.73 526.48,182.77 526.61,221.85 526.74,181.80 526.88,202.48 527.01,201.03 527.14,197.01 527.28,155.78 527.41,158.94 527.54,162.64 527.68,142.85 527.81,117.24 527.94,130.68 528.08,146.98 528.21,156.93 528.34,182.69 528.48,188.85 528.61,150.42 528.74,169.40 528.88,149.22 529.01,201.10 529.14,70.82 529.28,185.28 529.41,159.30 529.54,91.35 529.68,175.45 529.81,137.31 529.94,166.36 530.08,162.49 530.21,190.85 530.34,136.31 530.47,120.99 530.61,130.94 530.74,75.73 530.87,57.83 531.01,104.53 531.14,142.36 531.27,126.59 531.41,139.33 531.54,95.42 531.67,138.41 531.81,128.48 531.94,120.96 532.07,134.48 532.21,156.98 532.34,138.09 532.47,148.99 532.61,110.87 532.74,44.72 532.87,180.66 533.01,161.71 533.14,137.62 533.27,169.98 533.41,140.91 533.54,140.29 533.67,129.82 533.81,161.32 533.94,163.55 534.07,160.93 534.21,190.87 534.34,182.92 534.47,186.27 534.61,129.08 534.74,171.99 534.87,170.30 535.01,193.35 535.14,189.62 535.27,203.04 535.41,182.23 535.54,191.66 535.67,152.56 535.81,186.88 535.94,195.86 536.07,210.63 536.21,204.33 536.34,193.03 536.47,176.77 536.61,153.06 536.74,219.07 536.87,206.08 537.01,194.26 537.14,216.89 537.27,210.86 537.41,215.25 537.54,231.71 537.67,214.76 537.81,222.34 537.94,222.11 538.07,221.35 538.21,211.05 538.34,177.46 538.47,218.05 538.61,183.75 538.74,211.59 538.87,206.14 539.01,203.02 539.14,192.39 539.27,213.41 539.41,218.78 539.54,204.56 539.67,184.85 539.81,191.40 539.94,211.59 540.07,194.46 540.21,221.83 540.34,183.97 540.47,199.92 540.61,201.57 540.74,157.24 540.87,177.47 541.01,141.37 541.14,183.46 541.27,158.43 541.41,199.11 541.54,178.70 541.67,163.01 541.81,205.32 541.94,202.03 542.07,192.71 542.21,167.85 542.34,97.07 542.47,173.88 542.61,206.28 542.74,103.09 542.87,193.58 543.01,162.52 543.14,164.01 543.27,204.35 543.40,195.51 543.54,192.11 543.67,145.91 543.80,174.73 543.94,115.32 544.07,115.50 544.20,169.37 544.34,168.16 544.47,158.00 544.60,137.13 544.74,101.26 544.87,176.91 545.00,116.04 545.14,156.89 545.27,143.26 545.40,147.96 545.54,175.52 545.67,83.47 545.80,123.81 545.94,124.85 546.07,86.80 546.20,107.61 546.34,185.53 546.47,120.19 546.60,140.41 546.74,129.32 546.87,159.36 547.00,168.65 547.14,141.17 547.27,150.50 547.40,163.70 547.54,181.38 547.67,168.92 547.80,182.98 547.94,203.23 548.07,190.44 548.20,181.61 548.34,138.13 548.47,139.66 548.60,184.36 548.74,93.41 548.87,135.32 549.00,118.09 549.14,155.25 549.27,162.09 549.40,106.45 549.54,145.53 549.67,157.18 549.80,113.22 549.94,98.01 550.07,184.90 550.20,161.17 550.34,128.86 550.47,87.46 550.60,77.98 550.74,149.37 550.87,132.39 551.00,115.27 551.14,104.68 551.27,144.02 551.40,99.44 551.54,174.81 551.67,202.16 551.80,190.64 551.94,167.72 552.07,158.07 552.20,202.59 552.34,188.07 552.47,145.19 552.60,202.91 552.74,113.23 552.87,124.10 553.00,203.23 553.14,156.19 553.27,174.61 553.40,107.06 553.54,116.04 553.67,161.94 553.80,46.54 553.94,83.20 554.07,115.79 554.20,136.36 554.34,160.72 554.47,129.51 554.60,164.04 554.74,121.14 554.87,189.95 555.00,188.00 555.14,200.83 555.27,178.34 555.40,197.02 555.54,212.24 555.67,158.89 555.80,169.86 555.94,201.69 556.07,219.45 556.20,183.60 556.34,217.04 556.47,156.60 556.60,209.14 556.74,205.77 556.87,228.92 557.00,212.33 557.13,187.41 557.27,207.43 557.40,225.73 557.53,184.27 557.67,205.71 557.80,217.28 557.93,221.99 558.07,210.49 558.20,176.80 558.33,208.94 558.47,207.37 558.60,217.16 558.73,189.80 558.87,218.22 559.00,196.08 559.13,200.35 559.27,218.26 559.40,191.25 559.53,185.08 559.67,214.54 559.80,184.00 559.93,174.63 560.07,215.14 560.20,206.02 560.33,222.96 560.47,208.73 560.60,220.36 560.73,201.52 560.87,205.09 561.00,215.91 561.13,182.67 561.27,211.35 561.40,218.60 561.53,206.72 561.67,222.92 561.80,201.17 561.93,209.42 562.07,220.61 562.20,201.66 562.33,227.79 562.47,200.18 562.60,238.09 562.73,201.19 562.87,222.37 563.00,228.28 563.13,235.90 563.27,209.83 563.40,219.58 563.53,218.79 563.67,197.14 563.80,219.78 563.93,216.41 564.07,217.72 564.20,207.07 564.33,222.65 564.47,215.90 564.60,216.57 564.73,216.40 564.87,214.97 565.00,236.20 565.13,223.53 565.27,219.29 565.40,209.66 565.53,210.64 565.67,233.76 565.80,228.94 565.93,216.52 566.07,236.19 566.20,229.10 566.33,225.88 566.47,225.75 566.60,224.67 566.73,227.83 566.87,199.20 567.00,227.25 567.13,210.43 567.27,199.36 567.40,205.70 567.53,221.78 567.67,218.38 567.80,208.82 567.93,216.05 568.07,210.38 568.20,225.72 568.33,216.52 568.47,238.47 568.60,238.60 568.73,230.70 568.87,199.34 569.00,222.39 569.13,223.30 569.27,235.59 569.40,221.29 569.53,232.93 569.67,234.54 569.80,211.32 569.93,234.09 570.07,208.29 570.20,188.37 570.33,215.83 570.46,216.79 570.60,236.58 570.73,221.67 570.86,230.58 571.00,208.93 571.13,218.13 571.26,234.45 571.40,234.80 571.53,231.05 571.66,212.86 571.80,191.77 571.93,218.57 572.06,232.34 572.20,233.19 572.33,224.02 572.46,238.92 572.60,211.40 572.73,221.70 572.86,238.95 573.00,208.28 573.13,234.83 573.26,223.20 573.40,208.30 573.53,233.27 573.66,234.96 573.80,229.29 573.93,232.14 574.06,221.72 574.20,226.20 574.33,233.62 574.46,228.86 574.60,226.08 574.73,227.18 574.86,217.08 575.00,221.32 575.13,229.67 575.26,197.23 575.40,233.64 575.53,222.33 575.66,224.44 575.80,221.02 575.93,217.95 576.06,207.10 576.20,195.27 576.33,221.44 576.46,179.92 576.60,196.82 576.73,215.70 576.86,208.90 577.00,175.06 577.13,178.29 577.26,210.10 577.40,202.57 577.53,189.42 577.66,198.02 577.80,212.68 577.93,211.57 578.06,191.47 578.20,200.93 578.33,207.43 578.46,171.44 578.60,216.25 578.73,209.33 578.86,175.70 579.00,196.84 579.13,205.91 579.26,203.85 579.40,187.17 579.53,203.93 579.66,226.15 579.80,183.95 579.93,225.50 580.06,213.73 580.20,159.07 580.33,182.28 580.46,206.27 580.60,196.23 580.73,194.91 580.86,177.19 581.00,199.11 581.13,199.98 581.26,204.09 581.40,106.74 581.53,193.32 581.66,199.22 581.80,186.92 581.93,211.25 582.06,189.29 582.20,199.30 582.33,209.59 582.46,173.62 582.60,197.34 582.73,202.80 582.86,178.35 583.00,200.65 583.13,184.64 583.26,160.81 583.39,156.27 583.53,197.67 583.66,181.67 583.79,149.28 583.93,194.46 584.06,159.04 584.19,138.10 584.33,203.14 584.46,185.11 584.59,186.29 584.73,173.61 584.86,133.15 584.99,162.18 585.13,148.36 585.26,130.32 585.39,157.31 585.53,138.74 585.66,211.65 585.79,125.79 585.93,181.87 586.06,168.74 586.19,168.61 586.33,171.74 586.46,179.04 586.59,181.05 586.73,209.96 586.86,190.93 586.99,158.09 587.13,196.57 587.26,210.12 587.39,143.59 587.53,178.22 587.66,165.50 587.79,186.33 587.93,178.43 588.06,167.45 588.19,170.05 588.33,168.36 588.46,206.72 588.59,188.44 588.73,212.38 588.86,157.04 588.99,192.90 589.13,194.26 589.26,180.46 589.39,177.59 589.53,179.88 589.66,198.12 589.79,211.61 589.93,168.24 590.06,206.27 590.19,203.99 590.33,194.83 590.46,198.12 590.59,170.80 590.73,165.07 590.86,185.57 590.99,159.50 591.13,183.35 591.26,135.46 591.39,190.42 591.53,156.08 591.66,129.45 591.79,195.34 591.93,184.73 592.06,203.35 592.19,211.76 592.33,193.23 592.46,164.29 592.59,180.20 592.73,195.86 592.86,196.86 592.99,185.76 593.13,162.18 593.26,188.95 593.39,178.12 593.53,173.73 593.66,218.55 593.79,218.48 593.93,221.37 594.06,190.53 594.19,221.86 594.33,203.78 594.46,195.28 594.59,205.62 594.73,201.47 594.86,201.31 594.99,188.33 595.13,223.09 595.26,212.55 595.39,201.11 595.53,201.44 595.66,208.43 595.79,185.71 595.93,207.34 596.06,206.36 596.19,205.77 596.33,185.99 596.46,199.70 596.59,192.01 596.73,194.02 596.86,182.12 596.99,210.16 597.12,194.37 597.26,195.40 597.39,204.41 597.52,185.50 597.66,205.74 597.79,201.78 597.92,188.81 598.06,195.41 598.19,220.45 598.32,230.15 598.46,202.27 598.59,202.21 598.72,182.92 598.86,203.79 598.99,182.75 599.12,183.65 599.26,215.20 599.39,200.73 599.52,217.12 599.66,223.27 599.79,197.13 599.92,218.01 600.06,212.00 600.19,174.99 600.32,195.58 600.46,195.15 600.59,212.53 600.72,220.67 600.86,192.48 600.99,222.18 601.12,213.65 601.26,211.23 601.39,195.66 601.52,177.49 601.66,213.64 601.79,207.37 601.92,196.43 602.06,200.51 602.19,219.60 602.32,231.10 602.46,218.68 602.59,220.51 602.72,226.16 602.86,228.11 602.99,229.04 603.12,231.56 603.26,228.93 603.39,235.87 603.52,226.57 603.66,218.57 603.79,220.17 603.92,228.68 604.06,216.73 604.19,219.73 604.32,210.80 604.46,234.70 604.59,217.92 604.72,232.64 604.86,224.49 604.99,221.51 605.12,224.10 605.26,226.00 605.39,221.69 605.52,215.21 605.66,219.21 605.79,233.35 605.92,228.69 606.06,222.21 606.19,212.83 606.32,228.47 606.46,221.60 606.59,227.68 606.72,225.97 606.86,225.67 606.99,225.38 607.12,220.38 607.26,225.33 607.39,234.19 607.52,237.42 607.66,227.55 607.79,230.60 607.92,221.90 608.06,211.91 608.19,221.63 608.32,199.49 608.46,219.46 608.59,223.08 608.72,230.93 608.86,226.33 608.99,225.62 609.12,220.12 609.26,210.84 609.39,216.44 609.52,229.24 609.66,221.64 609.79,226.24 609.92,232.11 610.06,223.46 610.19,228.05 610.32,231.26 610.45,204.02 610.59,211.46 610.72,221.79 610.85,232.58 610.99,234.23 611.12,221.26 611.25,212.22 611.39,191.57 611.52,226.63 611.65,223.60 611.79,227.83 611.92,225.41 612.05,235.08 612.19,234.15 612.32,221.60 612.45,227.86 612.59,215.37 612.72,229.14 612.85,228.32 612.99,215.81 613.12,235.23 613.25,229.56 613.39,203.61 613.52,220.17 613.65,239.80 613.79,234.17 613.92,230.08 614.05,221.11 614.19,203.26 614.32,227.58 614.45,195.97 614.59,231.31 614.72,234.82 614.85,214.43 614.99,209.43 615.12,209.25 615.25,192.02 615.39,206.48 615.52,215.94 615.65,231.42 615.79,230.21 615.92,215.57 616.05,210.29 616.19,211.70 616.32,230.20 616.45,207.63 616.59,195.67 616.72,221.67 616.85,222.31 616.99,224.18 617.12,212.37 617.25,221.76 617.39,225.25 617.52,210.88 617.65,209.22 617.79,224.54 617.92,204.38 618.05,221.91 618.19,214.38 618.32,223.22 618.45,215.42 618.59,220.37 618.72,236.00 618.85,229.66 618.99,221.97 619.12,224.97 619.25,237.39 619.39,237.48 619.52,224.88 619.65,233.84 619.79,195.28 619.92,226.34 620.05,229.12 620.19,212.92 620.32,229.91 620.45,240.38 620.59,224.57 620.72,231.08 620.85,229.56 620.99,239.67 621.12,234.83 621.25,229.70 621.39,223.13 621.52,229.13 621.65,232.04 621.79,230.18 621.92,224.24 622.05,224.49 622.19,235.22 622.32,225.59 622.45,230.24 622.59,218.61 622.72,235.09 622.85,231.55 622.99,233.08 623.12,233.12 623.25,227.57 623.38,222.62 623.52,217.65 623.65,221.65 623.78,229.26 623.92,215.60 624.05,238.05 624.18,240.70 624.32,226.95 624.45,223.93 624.58,194.43 624.72,200.52 624.85,197.05 624.98,212.30 625.12,216.25 625.25,208.65 625.38,219.00 625.52,212.26 625.65,216.04 625.78,238.51 625.92,231.60 626.05,238.14 626.18,219.61 626.32,228.34 626.45,230.17 626.58,218.24 626.72,227.31 626.85,217.15 626.98,195.85 627.12,215.37 627.25,228.24 627.38,232.75 627.52,200.85 627.65,210.27 627.78,229.16 627.92,206.75 628.05,233.93 628.18,229.48 628.32,231.73 628.45,230.00 628.58,233.73 628.72,195.00 628.85,222.97 628.98,222.59 629.12,222.98 629.25,233.65 629.38,222.85 629.52,216.62 629.65,217.57 629.78,224.08 629.92,222.16 630.05,225.87 630.18,224.89 630.32,240.99 630.45,222.61 630.58,227.74 630.72,220.92 630.85,237.53 630.98,232.32 631.12,222.40 631.25,206.04 631.38,231.16 631.52,229.40 631.65,218.63 631.78,219.87 631.92,226.45 632.05,221.30 632.18,217.72 632.32,211.67 632.45,211.52 632.58,212.55 632.72,225.26 632.85,226.92 632.98,232.47 633.12,221.28 633.25,231.78 633.38,201.31 633.52,225.06 633.65,214.83 633.78,232.91 633.92,218.52 634.05,221.46 634.18,225.58 634.32,228.77 634.45,228.40 634.58,200.56 634.72,209.28 634.85,214.07 634.98,217.73 635.12,225.36 635.25,235.82 635.38,237.99 635.52,231.64 635.65,230.55 635.78,236.31 635.92,222.00 636.05,224.80 636.18,221.06 636.32,237.56 636.45,221.76 636.58,221.08 636.72,230.16 636.85,239.39 636.98,198.61 637.11,199.25 637.25,213.30 637.38,188.03 637.51,195.09 637.65,202.69 637.78,215.68 637.91,212.79 638.05,197.49 638.18,210.30 638.31,216.76 638.45,207.16 638.58,233.84 638.71,213.21 638.85,222.70 638.98,221.98 639.11,219.01 639.25,218.35 639.38,219.73 639.51,217.66 639.65,219.93 639.78,205.75 639.91,216.61 640.05,194.47 640.18,228.85 640.31,211.61 640.45,201.43 640.58,219.81 640.71,213.30 640.85,183.60 640.98,206.18 641.11,215.42 641.25,229.28 641.38,197.56 641.51,200.45 641.65,192.09 641.78,170.10 641.91,213.65 642.05,205.92 642.18,215.14 642.31,208.26 642.45,208.58 642.58,198.14 642.71,207.51 642.85,219.84 642.98,224.93 643.11,199.20 643.25,230.50 643.38,211.55 643.51,189.48 643.65,205.62 643.78,212.65 643.91,191.55 644.05,208.69 644.18,214.97 644.31,218.10 644.45,187.84 644.58,193.90 644.71,179.08 644.85,218.45 644.98,214.25 645.11,222.64 645.25,210.24 645.38,225.76 645.51,191.73 645.65,214.18 645.78,220.60 645.91,233.78 646.05,233.84 646.18,199.62 646.31,209.10 646.45,201.52 646.58,221.50 646.71,214.09 646.85,234.16 646.98,234.21 647.11,234.26 647.25,209.39 647.38,201.79 647.51,207.92 647.65,217.29 647.78,225.29 647.91,197.93 648.05,219.47 648.18,207.95 648.31,217.42 648.45,222.26 648.58,221.97 648.71,212.42 648.85,223.97 648.98,205.40 649.11,203.44 649.25,182.82 649.38,218.94 649.51,169.74 649.65,196.98 649.78,197.23 649.91,203.64 650.05,207.54 650.18,208.35 650.31,123.15 650.44,213.06 650.58,187.77 650.71,186.42 650.84,214.06 650.98,209.85 651.11,206.99 651.24,195.90 651.38,206.22 651.51,210.27 651.64,206.49 651.78,218.34 651.91,183.70 652.04,230.66 652.18,209.71 652.31,201.95 652.44,234.24 652.58,222.12 652.71,221.26 652.84,213.34 652.98,232.59 653.11,218.58 653.24,233.04 653.38,212.62 653.51,200.95 653.64,222.81 653.78,238.09 653.91,236.80 654.04,228.01 654.18,206.24 654.31,223.49 654.44,233.63 654.58,195.40 654.71,211.28 654.84,219.36 654.98,226.05 655.11,203.96 655.24,219.20 655.38,235.11 655.51,228.65 655.64,226.48 655.78,224.88 655.91,221.56 656.04,227.91 656.18,227.13 656.31,190.20 656.44,221.46 656.58,233.79 656.71,230.94 656.84,232.15 656.98,219.30 657.11,214.69 657.24,233.43 657.38,218.49 657.51,229.12 657.64,222.60 657.78,230.15 657.91,231.82 658.04,237.07 658.18,221.80 658.31,223.90 658.44,224.02 658.58,224.34 658.71,226.51 658.84,221.51 658.98,213.04 659.11,207.23 659.24,223.94 659.38,219.59 659.51,201.20 659.64,212.61 659.78,188.90 659.91,198.70 660.04,182.87 660.18,218.59 660.31,192.29 660.44,210.31 660.58,197.43 660.71,211.90 660.84,223.39 660.98,207.90 661.11,154.76 661.24,177.79 661.38,158.74 661.51,180.18 661.64,218.30 661.78,149.53 661.91,180.69 662.04,172.08 662.18,181.43 662.31,184.56 662.44,197.69 662.58,84.85 662.71,169.31 662.84,197.08 662.98,182.89 663.11,159.27 663.24,170.48 663.38,174.58 663.51,201.56 663.64,186.26 663.77,189.37 663.91,180.74 664.04,143.22 664.17,174.25 664.31,180.87 664.44,198.67 664.57,160.19 664.71,106.74 664.84,169.48 664.97,143.41 665.11,207.63 665.24,177.79 665.37,169.87 665.51,149.74 665.64,174.90 665.77,189.74 665.91,177.31 666.04,172.67 666.17,146.43 666.31,155.99 666.44,167.31 666.57,180.50 666.71,163.52 666.84,190.46 666.97,188.51 667.11,209.85 667.24,156.18 667.37,172.55 667.51,146.88 667.64,177.23 667.77,118.33 667.91,200.94 668.04,106.74 668.17,191.98 668.31,180.27 668.44,199.36 668.57,190.85 668.71,201.28 668.84,166.91 668.97,184.07 669.11,203.45 669.24,154.27 669.37,145.85 669.51,165.77 669.64,188.91" fill="none" stroke="#F8766D" stroke-width="0.6" stroke-opacity="0.8" stroke-linejoin="bevel"/>
<polyline points="434.10,205.09 434.23,185.36 434.37,212.32 434.50,206.74 434.63,204.19 434.77,170.35 434.90,186.85 435.03,212.23 435.17,200.10 435.30,220.48 435.43,207.64 435.57,217.54 435.70,215.99 435.83,199.90 435.97,186.76 436.10,197.81 436.23,196.16 436.37,202.24 436.50,232.77 436.63,216.40 436.77,216.25 436.90,204.45 437.03,174.59 437.16,204.87 437.30,227.95 437.43,218.79 437.56,221.78 437.70,210.12 437.83,217.36 437.96,232.77 438.10,226.15 438.23,219.73 438.36,232.77 438.50,223.59 438.63,226.87 438.76,208.97 438.90,215.75 439.03,214.77 439.16,190.66 439.30,197.04 439.43,193.32 439.56,219.06 439.70,229.04 439.83,170.35 439.96,204.04 440.10,212.53 440.23,172.26 440.36,229.43 440.50,228.66 440.63,216.16 440.76,216.86 440.90,221.68 441.03,205.94 441.16,210.26 441.30,182.13 441.43,205.49 441.56,223.08 441.70,210.13 441.83,213.00 441.96,193.38 442.10,200.09 442.23,170.35 442.36,206.14 442.50,227.98 442.63,203.09 442.76,218.73 442.90,170.35 443.03,186.09 443.16,170.35 443.30,199.83 443.43,215.12 443.56,200.40 443.70,221.00 443.83,219.17 443.96,219.01 444.10,200.70 444.23,219.59 444.36,219.38 444.50,180.74 444.63,214.14 444.76,213.31 444.90,205.22 445.03,207.97 445.16,220.27 445.30,219.26 445.43,172.89 445.56,179.11 445.70,198.80 445.83,187.98 445.96,227.83 446.10,203.41 446.23,214.24 446.36,226.64 446.50,211.07 446.63,207.69 446.76,199.51 446.90,232.77 447.03,219.72 447.16,206.27 447.30,213.29 447.43,211.08 447.56,211.51 447.70,208.45 447.83,222.79 447.96,180.31 448.10,216.18 448.23,211.96 448.36,203.90 448.50,211.78 448.63,222.45 448.76,201.16 448.90,232.77 449.03,232.05 449.16,188.29 449.30,217.53 449.43,209.92 449.56,205.30 449.70,189.12 449.83,209.50 449.96,194.76 450.10,209.44 450.23,184.38 450.36,192.98 450.49,209.56 450.63,204.88 450.76,212.25 450.89,227.45 451.03,177.81 451.16,190.20 451.29,204.06 451.43,189.86 451.56,170.35 451.69,180.26 451.83,203.68 451.96,206.10 452.09,212.84 452.23,187.43 452.36,205.10 452.49,192.13 452.63,221.84 452.76,186.27 452.89,182.73 453.03,191.32 453.16,232.54 453.29,230.39 453.43,212.04 453.56,224.69 453.69,204.83 453.83,202.79 453.96,198.01 454.09,213.15 454.23,217.09 454.36,194.30 454.49,195.44 454.63,210.51 454.76,211.04 454.89,133.69 455.03,195.76 455.16,182.51 455.29,214.60 455.43,206.75 455.56,189.19 455.69,174.96 455.83,164.19 455.96,206.05 456.09,189.13 456.23,159.34 456.36,185.76 456.49,185.31 456.63,207.94 456.76,190.15 456.89,191.96 457.03,159.48 457.16,163.80 457.29,123.86 457.43,149.72 457.56,128.30 457.69,159.42 457.83,170.75 457.96,192.55 458.09,111.50 458.23,181.54 458.36,211.01 458.49,184.15 458.63,190.09 458.76,152.06 458.89,162.18 459.03,137.05 459.16,128.51 459.29,189.96 459.43,202.01 459.56,187.95 459.69,186.18 459.83,211.41 459.96,175.92 460.09,124.46 460.23,170.73 460.36,178.84 460.49,180.43 460.63,106.97 460.76,104.96 460.89,185.60 461.03,186.96 461.16,169.61 461.29,134.77 461.43,146.90 461.56,148.73 461.69,157.07 461.83,139.87 461.96,116.51 462.09,55.66 462.23,169.32 462.36,156.08 462.49,103.57 462.63,137.81 462.76,143.87 462.89,115.79 463.03,115.11 463.16,103.03 463.29,187.50 463.43,155.54 463.56,131.39 463.69,150.54 463.82,174.83 463.96,201.35 464.09,194.55 464.22,195.14 464.36,170.67 464.49,148.89 464.62,164.51 464.76,189.79 464.89,192.68 465.02,179.93 465.16,155.31 465.29,172.88 465.42,159.37 465.56,200.81 465.69,185.16 465.82,188.91 465.96,171.92 466.09,187.77 466.22,202.67 466.36,196.27 466.49,172.21 466.62,161.18 466.76,112.42 466.89,164.03 467.02,176.03 467.16,144.56 467.29,191.11 467.42,140.50 467.56,180.24 467.69,151.77 467.82,180.32 467.96,168.87 468.09,199.23 468.22,170.84 468.36,153.96 468.49,187.54 468.62,111.18 468.76,150.88 468.89,186.47 469.02,113.36 469.16,175.40 469.29,120.66 469.42,206.62 469.56,112.68 469.69,172.78 469.82,169.53 469.96,172.09 470.09,212.33 470.22,166.03 470.36,175.09 470.49,178.26 470.62,201.79 470.76,211.98 470.89,183.84 471.02,182.89 471.16,188.89 471.29,189.36 471.42,193.80 471.56,163.71 471.69,144.79 471.82,192.39 471.96,207.02 472.09,125.13 472.22,203.47 472.36,170.48 472.49,184.28 472.62,148.65 472.76,197.18 472.89,215.48 473.02,210.61 473.16,187.41 473.29,189.21 473.42,199.26 473.56,206.77 473.69,221.08 473.82,219.01 473.96,220.34 474.09,225.26 474.22,220.13 474.36,224.18 474.49,189.79 474.62,229.73 474.76,203.58 474.89,216.18 475.02,205.86 475.16,216.28 475.29,234.65 475.42,217.91 475.56,212.34 475.69,209.07 475.82,214.94 475.96,227.38 476.09,207.43 476.22,219.72 476.36,229.34 476.49,227.90 476.62,231.70 476.75,228.50 476.89,221.49 477.02,198.00 477.15,218.14 477.29,221.92 477.42,234.56 477.55,229.86 477.69,241.79 477.82,229.62 477.95,229.83 478.09,227.03 478.22,211.80 478.35,225.25 478.49,217.20 478.62,220.88 478.75,231.53 478.89,234.24 479.02,226.11 479.15,230.68 479.29,218.65 479.42,233.81 479.55,214.83 479.69,224.51 479.82,229.70 479.95,237.57 480.09,223.70 480.22,220.61 480.35,217.29 480.49,222.38 480.62,219.03 480.75,230.09 480.89,231.67 481.02,210.43 481.15,223.07 481.29,201.80 481.42,205.10 481.55,220.20 481.69,224.09 481.82,214.05 481.95,212.50 482.09,221.27 482.22,238.21 482.35,213.12 482.49,206.45 482.62,210.33 482.75,209.89 482.89,205.09 483.02,211.09 483.15,220.72 483.29,219.45 483.42,217.55 483.55,214.45 483.69,194.22 483.82,223.91 483.95,201.59 484.09,222.43 484.22,219.96 484.35,193.84 484.49,217.55 484.62,216.72 484.75,226.39 484.89,219.50 485.02,223.53 485.15,236.10 485.29,224.37 485.42,211.15 485.55,225.43 485.69,228.11 485.82,234.31 485.95,234.16 486.09,223.80 486.22,230.99 486.35,221.15 486.49,228.43 486.62,220.55 486.75,210.38 486.89,223.23 487.02,206.31 487.15,214.18 487.29,210.83 487.42,220.74 487.55,216.50 487.69,227.06 487.82,208.78 487.95,224.75 488.09,233.72 488.22,230.82 488.35,237.23 488.49,219.99 488.62,227.63 488.75,229.96 488.89,224.58 489.02,237.10 489.15,217.11 489.29,201.78 489.42,198.72 489.55,209.82 489.69,224.44 489.82,213.15 489.95,201.67 490.09,179.99 490.22,180.16 490.35,218.27 490.48,189.18 490.62,206.94 490.75,224.07 490.88,201.86 491.02,193.02 491.15,234.83 491.28,199.78 491.42,219.96 491.55,189.74 491.68,216.11 491.82,203.64 491.95,174.60 492.08,206.04 492.22,173.13 492.35,218.19 492.48,222.29 492.62,225.16 492.75,203.20 492.88,212.13 493.02,196.08 493.15,197.27 493.28,198.82 493.42,204.20 493.55,199.57 493.68,216.23 493.82,226.43 493.95,226.78 494.08,203.35 494.22,220.29 494.35,218.38 494.48,220.65 494.62,207.11 494.75,197.27 494.88,210.69 495.02,212.57 495.15,202.97 495.28,230.01 495.42,210.57 495.55,184.44 495.68,209.99 495.82,201.90 495.95,216.61 496.08,206.31 496.22,210.28 496.35,214.69 496.48,204.93 496.62,199.54 496.75,230.80 496.88,224.55 497.02,230.71 497.15,214.90 497.28,222.50 497.42,207.61 497.55,215.06 497.68,190.07 497.82,194.53 497.95,218.51 498.08,219.12 498.22,208.45 498.35,222.42 498.48,209.47 498.62,228.68 498.75,193.07 498.88,200.52 499.02,215.81 499.15,219.29 499.28,214.47 499.42,204.03 499.55,214.38 499.68,220.18 499.82,213.26 499.95,192.54 500.08,193.54 500.22,182.86 500.35,207.75 500.48,205.98 500.62,198.53 500.75,184.98 500.88,194.72 501.02,219.59 501.15,210.82 501.28,222.40 501.42,195.07 501.55,204.49 501.68,216.36 501.82,179.99 501.95,170.90 502.08,210.55 502.22,215.71 502.35,196.92 502.48,215.56 502.62,197.41 502.75,225.58 502.88,212.20 503.02,214.87 503.15,195.57 503.28,203.04 503.42,228.24 503.55,227.46 503.68,218.92 503.81,192.26 503.95,179.04 504.08,185.02 504.21,178.90 504.35,207.14 504.48,211.71 504.61,223.62 504.75,192.64 504.88,226.81 505.01,204.14 505.15,199.11 505.28,187.82 505.41,219.17 505.55,199.49 505.68,216.97 505.81,182.17 505.95,207.29 506.08,210.71 506.21,215.24 506.35,218.18 506.48,212.44 506.61,212.35 506.75,194.77 506.88,225.10 507.01,210.21 507.15,210.05 507.28,220.44 507.41,225.90 507.55,203.09 507.68,226.77 507.81,208.28 507.95,199.75 508.08,204.25 508.21,221.71 508.35,228.65 508.48,196.04 508.61,203.98 508.75,185.64 508.88,218.35 509.01,210.60 509.15,212.82 509.28,206.25 509.41,210.59 509.55,200.48 509.68,176.92 509.81,212.85 509.95,194.40 510.08,190.29 510.21,213.72 510.35,178.82 510.48,217.11 510.61,190.41 510.75,216.98 510.88,214.09 511.01,203.87 511.15,218.66 511.28,225.32 511.41,193.97 511.55,165.33 511.68,192.87 511.81,205.10 511.95,216.09 512.08,218.98 512.21,199.20 512.35,196.69 512.48,189.01 512.61,196.10 512.75,194.25 512.88,219.77 513.01,226.89 513.15,227.07 513.28,219.37 513.41,210.80 513.55,212.77 513.68,226.92 513.81,210.53 513.95,194.86 514.08,204.14 514.21,231.97 514.35,194.16 514.48,206.00 514.61,187.82 514.75,188.99 514.88,193.04 515.01,205.31 515.15,196.27 515.28,199.62 515.41,218.25 515.55,204.55 515.68,215.47 515.81,208.24 515.95,210.11 516.08,204.55 516.21,228.46 516.35,216.40 516.48,205.67 516.61,209.29 516.75,226.31 516.88,220.35 517.01,205.90 517.14,193.44 517.28,193.86 517.41,203.22 517.54,190.56 517.68,184.95 517.81,221.70 517.94,225.82 518.08,205.32 518.21,221.64 518.34,195.30 518.48,213.78 518.61,223.22 518.74,191.00 518.88,211.86 519.01,221.97 519.14,214.32 519.28,217.15 519.41,211.84 519.54,208.40 519.68,223.26 519.81,213.51 519.94,211.25 520.08,209.78 520.21,210.04 520.34,222.67 520.48,233.80 520.61,194.81 520.74,225.25 520.88,206.34 521.01,212.02 521.14,208.09 521.28,203.96 521.41,219.02 521.54,211.50 521.68,194.45 521.81,182.57 521.94,214.59 522.08,201.53 522.21,231.52 522.34,212.81 522.48,209.39 522.61,218.16 522.74,193.00 522.88,204.44 523.01,218.28 523.14,239.23 523.28,238.60 523.41,225.35 523.54,229.73 523.68,238.93 523.81,221.16 523.94,206.90 524.08,219.71 524.21,222.20 524.34,229.00 524.48,215.94 524.61,242.26 524.74,242.36 524.88,203.76 525.01,218.10 525.14,222.92 525.28,234.37 525.41,242.87 525.54,232.92 525.68,232.15 525.81,236.47 525.94,212.80 526.08,211.78 526.21,218.45 526.34,193.06 526.48,214.92 526.61,218.36 526.74,220.36 526.88,165.69 527.01,218.32 527.14,190.84 527.28,174.57 527.41,148.03 527.54,203.97 527.68,208.04 527.81,183.64 527.94,193.52 528.08,189.14 528.21,194.63 528.34,190.05 528.48,156.12 528.61,206.76 528.74,141.70 528.88,160.37 529.01,122.94 529.14,145.03 529.28,89.95 529.41,177.20 529.54,99.97 529.68,148.69 529.81,153.37 529.94,126.61 530.08,186.38 530.21,148.37 530.34,133.66 530.47,177.93 530.61,81.40 530.74,136.20 530.87,184.86 531.01,163.20 531.14,175.15 531.27,152.74 531.41,140.81 531.54,152.90 531.67,163.75 531.81,181.64 531.94,174.57 532.07,81.20 532.21,163.04 532.34,133.22 532.47,164.37 532.61,160.78 532.74,156.99 532.87,109.96 533.01,138.07 533.14,172.02 533.27,110.25 533.41,116.74 533.54,149.62 533.67,150.52 533.81,136.59 533.94,147.75 534.07,128.80 534.21,127.76 534.34,165.74 534.47,184.97 534.61,196.20 534.74,175.70 534.87,140.82 535.01,206.64 535.14,193.30 535.27,200.98 535.41,201.56 535.54,175.98 535.67,167.28 535.81,210.84 535.94,176.60 536.07,185.22 536.21,196.65 536.34,192.63 536.47,212.56 536.61,185.59 536.74,215.81 536.87,198.83 537.01,225.69 537.14,188.37 537.27,214.02 537.41,217.02 537.54,228.96 537.67,221.94 537.81,209.77 537.94,213.07 538.07,222.66 538.21,229.20 538.34,222.78 538.47,219.20 538.61,229.20 538.74,214.30 538.87,196.05 539.01,208.08 539.14,204.92 539.27,212.14 539.41,185.28 539.54,194.37 539.67,188.81 539.81,214.64 539.94,222.49 540.07,212.29 540.21,218.67 540.34,205.87 540.47,205.25 540.61,207.62 540.74,215.19 540.87,195.99 541.01,192.49 541.14,205.31 541.27,197.62 541.41,198.27 541.54,185.27 541.67,193.36 541.81,217.97 541.94,200.44 542.07,213.82 542.21,214.99 542.34,207.35 542.47,169.65 542.61,199.53 542.74,181.19 542.87,192.44 543.01,190.43 543.14,151.77 543.27,171.22 543.40,154.81 543.54,151.89 543.67,197.76 543.80,201.74 543.94,211.99 544.07,165.13 544.20,165.78 544.34,159.46 544.47,161.65 544.60,175.55 544.74,181.40 544.87,177.14 545.00,177.83 545.14,203.25 545.27,149.30 545.40,172.79 545.54,189.59 545.67,117.18 545.80,104.70 545.94,104.50 546.07,145.55 546.20,194.96 546.34,194.31 546.47,210.75 546.60,182.64 546.74,154.77 546.87,188.44 547.00,210.49 547.14,152.56 547.27,139.81 547.40,146.56 547.54,210.22 547.67,167.22 547.80,190.14 547.94,173.03 548.07,168.01 548.20,130.23 548.34,176.44 548.47,171.06 548.60,200.45 548.74,188.57 548.87,198.57 549.00,195.20 549.14,177.90 549.27,176.43 549.40,162.00 549.54,153.27 549.67,125.83 549.80,103.03 549.94,192.31 550.07,191.08 550.20,148.38 550.34,141.84 550.47,100.27 550.60,128.00 550.74,97.38 550.87,137.47 551.00,177.35 551.14,148.86 551.27,190.05 551.40,198.16 551.54,172.50 551.67,182.78 551.80,159.10 551.94,200.61 552.07,168.83 552.20,202.01 552.34,174.29 552.47,178.33 552.60,142.07 552.74,182.68 552.87,168.85 553.00,209.60 553.14,195.03 553.27,129.20 553.40,149.11 553.54,148.34 553.67,154.29 553.80,105.27 553.94,195.27 554.07,70.26 554.20,183.94 554.34,144.51 554.47,190.81 554.60,200.67 554.74,197.12 554.87,177.48 555.00,175.24 555.14,155.47 555.27,211.17 555.40,199.04 555.54,200.36 555.67,172.85 555.80,184.14 555.94,206.70 556.07,216.60 556.20,204.04 556.34,215.91 556.47,204.81 556.60,193.74 556.74,219.21 556.87,222.66 557.00,187.75 557.13,208.57 557.27,211.01 557.40,219.87 557.53,211.60 557.67,216.08 557.80,204.92 557.93,226.77 558.07,218.24 558.20,213.08 558.33,206.97 558.47,202.58 558.60,206.12 558.73,230.64 558.87,215.63 559.00,219.33 559.13,200.58 559.27,213.00 559.40,187.62 559.53,227.57 559.67,227.33 559.80,236.46 559.93,208.01 560.07,220.10 560.20,221.44 560.33,228.31 560.47,224.91 560.60,229.22 560.73,218.36 560.87,236.64 561.00,223.05 561.13,223.81 561.27,217.88 561.40,216.40 561.53,200.15 561.67,214.37 561.80,215.78 561.93,227.12 562.07,224.43 562.20,218.52 562.33,200.63 562.47,231.86 562.60,230.72 562.73,225.91 562.87,232.50 563.00,199.77 563.13,193.08 563.27,205.50 563.40,212.99 563.53,197.88 563.67,235.21 563.80,204.91 563.93,238.22 564.07,219.42 564.20,220.22 564.33,226.03 564.47,221.47 564.60,225.55 564.73,236.53 564.87,238.78 565.00,234.03 565.13,226.37 565.27,230.43 565.40,234.21 565.53,207.44 565.67,231.77 565.80,234.57 565.93,231.87 566.07,232.25 566.20,221.48 566.33,228.84 566.47,236.75 566.60,231.08 566.73,230.32 566.87,233.11 567.00,214.90 567.13,203.27 567.27,228.80 567.40,194.12 567.53,194.15 567.67,231.00 567.80,210.77 567.93,220.19 568.07,210.08 568.20,240.70 568.33,218.09 568.47,230.06 568.60,224.37 568.73,216.44 568.87,240.75 569.00,231.31 569.13,228.32 569.27,212.93 569.40,200.10 569.53,220.77 569.67,235.38 569.80,217.56 569.93,230.71 570.07,216.27 570.20,226.42 570.33,226.15 570.46,227.51 570.60,235.11 570.73,230.09 570.86,235.95 571.00,208.52 571.13,199.88 571.26,232.54 571.40,239.06 571.53,223.45 571.66,231.89 571.80,234.44 571.93,195.23 572.06,227.87 572.20,230.95 572.33,223.94 572.46,217.94 572.60,205.90 572.73,217.79 572.86,232.53 573.00,227.16 573.13,204.96 573.26,241.11 573.40,227.82 573.53,210.42 573.66,223.60 573.80,228.16 573.93,231.94 574.06,227.26 574.20,219.15 574.33,219.20 574.46,206.83 574.60,214.82 574.73,215.88 574.86,223.65 575.00,217.94 575.13,224.41 575.26,196.04 575.40,200.94 575.53,212.47 575.66,218.40 575.80,211.59 575.93,240.05 576.06,221.12 576.20,223.73 576.33,223.28 576.46,209.06 576.60,197.40 576.73,186.78 576.86,208.59 577.00,232.93 577.13,237.29 577.26,218.39 577.40,206.42 577.53,199.85 577.66,217.11 577.80,226.67 577.93,223.62 578.06,212.86 578.20,210.61 578.33,209.99 578.46,221.70 578.60,173.78 578.73,213.26 578.86,211.95 579.00,205.53 579.13,196.34 579.26,220.56 579.40,225.76 579.53,221.26 579.66,208.36 579.80,201.39 579.93,210.76 580.06,201.60 580.20,183.84 580.33,215.59 580.46,166.73 580.60,163.59 580.73,197.52 580.86,206.26 581.00,213.24 581.13,228.07 581.26,210.15 581.40,217.12 581.53,205.56 581.66,205.36 581.80,161.78 581.93,213.96 582.06,195.16 582.20,200.32 582.33,160.19 582.46,173.75 582.60,220.33 582.73,211.01 582.86,199.88 583.00,212.45 583.13,191.90 583.26,194.39 583.39,203.14 583.53,186.20 583.66,170.74 583.79,188.60 583.93,185.88 584.06,183.91 584.19,177.31 584.33,143.47 584.46,206.31 584.59,185.00 584.73,189.81 584.86,182.29 584.99,167.56 585.13,170.24 585.26,158.48 585.39,170.19 585.53,169.38 585.66,183.89 585.79,155.87 585.93,136.73 586.06,147.90 586.19,169.86 586.33,162.37 586.46,214.81 586.59,195.64 586.73,191.67 586.86,175.01 586.99,178.13 587.13,200.48 587.26,204.38 587.39,163.23 587.53,92.14 587.66,144.29 587.79,183.15 587.93,196.18 588.06,200.99 588.19,195.44 588.33,143.18 588.46,151.10 588.59,116.07 588.73,138.53 588.86,170.24 588.99,188.65 589.13,154.31 589.26,158.16 589.39,198.80 589.53,199.64 589.66,194.71 589.79,138.79 589.93,187.96 590.06,197.85 590.19,171.42 590.33,173.50 590.46,212.30 590.59,157.61 590.73,202.85 590.86,178.78 590.99,173.58 591.13,189.37 591.26,175.99 591.39,191.58 591.53,210.07 591.66,177.13 591.79,174.44 591.93,210.01 592.06,177.27 592.19,203.10 592.33,194.25 592.46,175.98 592.59,190.06 592.73,158.42 592.86,169.79 592.99,188.19 593.13,133.04 593.26,173.23 593.39,183.84 593.53,185.27 593.66,173.29 593.79,174.65 593.93,205.00 594.06,139.80 594.19,174.09 594.33,221.88 594.46,212.32 594.59,188.30 594.73,202.16 594.86,217.53 594.99,179.14 595.13,217.25 595.26,205.04 595.39,189.14 595.53,167.20 595.66,216.65 595.79,174.58 595.93,214.11 596.06,185.48 596.19,169.62 596.33,190.37 596.46,216.30 596.59,161.70 596.73,182.86 596.86,225.20 596.99,229.32 597.12,208.83 597.26,207.22 597.39,195.16 597.52,211.25 597.66,202.90 597.79,216.37 597.92,210.09 598.06,225.05 598.19,227.88 598.32,232.28 598.46,198.85 598.59,218.36 598.72,229.29 598.86,228.57 598.99,225.10 599.12,211.31 599.26,233.75 599.39,217.87 599.52,197.12 599.66,216.97 599.79,209.96 599.92,192.08 600.06,230.33 600.19,226.30 600.32,210.51 600.46,196.97 600.59,215.63 600.72,219.40 600.86,231.12 600.99,205.03 601.12,208.41 601.26,217.78 601.39,217.23 601.52,226.42 601.66,209.74 601.79,221.23 601.92,210.51 602.06,206.35 602.19,217.76 602.32,210.28 602.46,212.31 602.59,210.26 602.72,227.45 602.86,221.75 602.99,191.32 603.12,210.51 603.26,218.99 603.39,220.22 603.52,189.28 603.66,225.01 603.79,223.05 603.92,202.26 604.06,228.10 604.19,232.42 604.32,238.04 604.46,218.61 604.59,226.50 604.72,211.09 604.86,227.57 604.99,233.90 605.12,233.04 605.26,237.42 605.39,212.19 605.52,235.52 605.66,216.73 605.79,214.32 605.92,201.77 606.06,224.56 606.19,212.69 606.32,236.19 606.46,221.70 606.59,235.83 606.72,219.39 606.86,224.25 606.99,220.54 607.12,224.96 607.26,231.12 607.39,227.51 607.52,208.91 607.66,215.23 607.79,203.15 607.92,223.81 608.06,229.06 608.19,230.72 608.32,228.37 608.46,229.48 608.59,224.66 608.72,229.64 608.86,222.72 608.99,204.30 609.12,223.04 609.26,228.84 609.39,230.10 609.52,240.79 609.66,214.66 609.79,231.27 609.92,211.63 610.06,239.35 610.19,220.00 610.32,197.17 610.45,229.53 610.59,208.95 610.72,219.70 610.85,219.97 610.99,234.46 611.12,219.97 611.25,225.09 611.39,230.77 611.52,206.61 611.65,219.05 611.79,241.77 611.92,220.10 612.05,200.88 612.19,230.64 612.32,219.59 612.45,231.23 612.59,212.09 612.72,239.16 612.85,238.15 612.99,228.03 613.12,232.24 613.25,236.84 613.39,225.88 613.52,230.50 613.65,234.03 613.79,239.87 613.92,219.19 614.05,226.64 614.19,222.28 614.32,214.52 614.45,233.02 614.59,234.80 614.72,221.58 614.85,232.50 614.99,242.04 615.12,220.19 615.25,227.49 615.39,230.97 615.52,209.46 615.65,224.92 615.79,223.06 615.92,208.93 616.05,237.42 616.19,242.14 616.32,231.11 616.45,242.17 616.59,225.15 616.72,234.80 616.85,238.98 616.99,228.18 617.12,237.71 617.25,208.63 617.39,219.27 617.52,212.00 617.65,214.53 617.79,221.69 617.92,230.14 618.05,218.70 618.19,226.55 618.32,227.13 618.45,240.28 618.59,217.70 618.72,233.20 618.85,233.00 618.99,240.57 619.12,213.39 619.25,217.20 619.39,199.52 619.52,217.82 619.65,230.67 619.79,224.63 619.92,237.26 620.05,236.12 620.19,226.88 620.32,220.18 620.45,216.68 620.59,236.91 620.72,233.98 620.85,227.99 620.99,230.82 621.12,235.79 621.25,225.92 621.39,231.29 621.52,221.50 621.65,202.44 621.79,216.54 621.92,227.49 622.05,170.58 622.19,231.75 622.32,228.97 622.45,237.83 622.59,232.39 622.72,234.09 622.85,206.98 622.99,207.20 623.12,206.47 623.25,221.24 623.38,231.65 623.52,232.32 623.65,224.11 623.78,235.92 623.92,240.19 624.05,232.46 624.18,230.01 624.32,224.34 624.45,231.38 624.58,227.81 624.72,223.97 624.85,227.20 624.98,241.68 625.12,232.90 625.25,234.43 625.38,222.90 625.52,240.71 625.65,235.47 625.78,236.11 625.92,226.05 626.05,240.25 626.18,220.37 626.32,223.38 626.45,242.87 626.58,234.41 626.72,235.01 626.85,242.43 626.98,237.88 627.12,233.67 627.25,234.60 627.38,223.77 627.52,223.52 627.65,225.05 627.78,221.49 627.92,234.38 628.05,217.54 628.18,224.95 628.32,200.89 628.45,200.89 628.58,202.14 628.72,225.33 628.85,218.56 628.98,226.63 629.12,220.23 629.25,225.93 629.38,234.99 629.52,228.27 629.65,237.38 629.78,214.82 629.92,215.14 630.05,215.04 630.18,225.59 630.32,227.04 630.45,212.88 630.58,223.72 630.72,224.50 630.85,203.79 630.98,223.82 631.12,228.91 631.25,227.38 631.38,220.76 631.52,235.34 631.65,237.87 631.78,223.32 631.92,223.65 632.05,215.66 632.18,230.86 632.32,226.50 632.45,236.00 632.58,225.64 632.72,235.42 632.85,223.33 632.98,210.08 633.12,222.82 633.25,242.87 633.38,216.31 633.52,221.31 633.65,227.73 633.78,228.66 633.92,236.15 634.05,225.36 634.18,233.47 634.32,242.87 634.45,237.10 634.58,221.15 634.72,223.87 634.85,222.82 634.98,232.23 635.12,220.42 635.25,209.57 635.38,225.57 635.52,223.60 635.65,212.72 635.78,219.88 635.92,225.41 636.05,231.32 636.18,236.97 636.32,227.52 636.45,221.48 636.58,220.18 636.72,229.68 636.85,217.17 636.98,220.93 637.11,222.76 637.25,209.70 637.38,213.09 637.51,228.13 637.65,228.53 637.78,224.92 637.91,230.02 638.05,216.85 638.18,235.81 638.31,219.14 638.45,221.92 638.58,212.94 638.71,226.17 638.85,186.81 638.98,201.11 639.11,165.92 639.25,222.45 639.38,227.88 639.51,196.45 639.65,190.43 639.78,223.15 639.91,148.69 640.05,189.02 640.18,169.40 640.31,198.46 640.45,222.63 640.58,222.28 640.71,171.66 640.85,201.06 640.98,179.11 641.11,205.06 641.25,196.94 641.38,204.23 641.51,218.55 641.65,212.62 641.78,224.25 641.91,218.16 642.05,200.05 642.18,208.46 642.31,215.88 642.45,184.11 642.58,198.35 642.71,193.73 642.85,224.35 642.98,177.02 643.11,194.92 643.25,223.93 643.38,189.49 643.51,226.54 643.65,225.04 643.78,224.77 643.91,220.28 644.05,222.60 644.18,200.52 644.31,217.29 644.45,208.19 644.58,212.88 644.71,203.99 644.85,213.61 644.98,211.57 645.11,207.01 645.25,216.94 645.38,228.50 645.51,223.82 645.65,231.12 645.78,229.17 645.91,220.15 646.05,227.14 646.18,213.00 646.31,211.71 646.45,223.97 646.58,214.23 646.71,211.18 646.85,222.89 646.98,205.62 647.11,186.75 647.25,238.28 647.38,225.17 647.51,227.18 647.65,221.38 647.78,213.87 647.91,229.56 648.05,222.20 648.18,225.87 648.31,226.30 648.45,227.06 648.58,228.50 648.71,191.50 648.85,234.34 648.98,221.97 649.11,231.11 649.25,221.44 649.38,204.79 649.51,221.04 649.65,227.00 649.78,229.43 649.91,217.05 650.05,226.21 650.18,216.47 650.31,228.39 650.44,223.87 650.58,212.91 650.71,233.06 650.84,212.43 650.98,232.87 651.11,215.52 651.24,216.13 651.38,192.21 651.51,219.14 651.64,205.84 651.78,218.62 651.91,212.85 652.04,220.36 652.18,200.50 652.31,222.61 652.44,204.21 652.58,192.86 652.71,229.02 652.84,232.00 652.98,221.83 653.11,222.05 653.24,206.68 653.38,218.10 653.51,217.58 653.64,229.96 653.78,223.03 653.91,226.54 654.04,231.74 654.18,215.19 654.31,221.77 654.44,224.17 654.58,237.49 654.71,237.80 654.84,213.91 654.98,226.79 655.11,221.27 655.24,192.86 655.38,214.59 655.51,215.57 655.64,220.36 655.78,210.55 655.91,221.99 656.04,231.90 656.18,213.88 656.31,226.59 656.44,224.23 656.58,229.88 656.71,237.47 656.84,219.52 656.98,223.42 657.11,231.06 657.24,220.03 657.38,220.23 657.51,220.66 657.64,205.72 657.78,199.35 657.91,216.10 658.04,232.27 658.18,234.55 658.31,220.60 658.44,230.64 658.58,218.25 658.71,221.00 658.84,225.12 658.98,232.06 659.11,216.48 659.24,214.58 659.38,216.65 659.51,207.93 659.64,221.94 659.78,218.80 659.91,217.73 660.04,224.77 660.18,175.62 660.31,214.64 660.44,224.72 660.58,223.92 660.71,198.34 660.84,212.85 660.98,214.89 661.11,188.72 661.24,176.33 661.38,211.47 661.51,184.44 661.64,209.48 661.78,153.94 661.91,209.65 662.04,199.99 662.18,205.35 662.31,211.54 662.44,194.24 662.58,181.87 662.71,197.65 662.84,140.43 662.98,166.95 663.11,173.05 663.24,187.78 663.38,170.30 663.51,160.05 663.64,180.73 663.77,172.39 663.91,182.91 664.04,200.51 664.17,170.46 664.31,200.19 664.44,148.26 664.57,212.82 664.71,197.67 664.84,194.34 664.97,195.74 665.11,209.77 665.24,177.31 665.37,147.11 665.51,180.01 665.64,140.62 665.77,197.15 665.91,157.74 666.04,135.92 666.17,162.03 666.31,145.11 666.44,178.43 666.57,187.86 666.71,156.41 666.84,194.07 666.97,180.03 667.11,212.41 667.24,176.36 667.37,169.26 667.51,212.66 667.64,192.75 667.77,178.49 667.91,153.96 668.04,177.86 668.17,160.74 668.31,189.78 668.44,192.22 668.57,172.11 668.71,139.57 668.84,194.52 668.97,155.51 669.11,196.94 669.24,207.27 669.37,200.51 669.51,201.58 669.64,145.20" fill="none" stroke="#00BFC4" stroke-width="0.6" stroke-opacity="0.72" stroke-linejoin="bevel"/>
<line x1="466.4" y1="245.1" x2="473.9" y2="245.1" stroke="#5a5a5a" stroke-width="1.4"/>
<line x1="528.6" y1="245.1" x2="533.3" y2="245.1" stroke="#5a5a5a" stroke-width="1.4"/>
<line x1="540.8" y1="245.1" x2="549.1" y2="245.1" stroke="#5a5a5a" stroke-width="1.4"/>
<line x1="586.0" y1="245.1" x2="593.0" y2="245.1" stroke="#5a5a5a" stroke-width="1.4"/>
<line x1="647.7" y1="245.1" x2="652.2" y2="245.1" stroke="#5a5a5a" stroke-width="1.4"/>
<line x1="660.5" y1="245.1" x2="668.7" y2="245.1" stroke="#5a5a5a" stroke-width="1.4"/>
<line x1="73.70" y1="525.40" x2="73.70" y2="501.83" stroke="#00BFC4" stroke-width="1.1" stroke-opacity="0.55"/>
<line x1="77.35" y1="546.62" x2="77.35" y2="528.43" stroke="#00BFC4" stroke-width="1.1" stroke-opacity="0.55"/>
<line x1="81.00" y1="552.60" x2="81.00" y2="537.00" stroke="#00BFC4" stroke-width="1.1" stroke-opacity="0.55"/>
<line x1="84.65" y1="449.16" x2="84.65" y2="410.17" stroke="#00BFC4" stroke-width="1.1" stroke-opacity="0.55"/>
<line x1="88.30" y1="547.35" x2="88.30" y2="516.79" stroke="#00BFC4" stroke-width="1.1" stroke-opacity="0.55"/>
<line x1="91.95" y1="543.24" x2="91.95" y2="517.26" stroke="#00BFC4" stroke-width="1.1" stroke-opacity="0.55"/>
<line x1="95.60" y1="547.74" x2="95.60" y2="523.67" stroke="#00BFC4" stroke-width="1.1" stroke-opacity="0.55"/>
<line x1="99.25" y1="548.40" x2="99.25" y2="523.01" stroke="#00BFC4" stroke-width="1.1" stroke-opacity="0.55"/>
<line x1="102.90" y1="543.65" x2="102.90" y2="513.21" stroke="#00BFC4" stroke-width="1.1" stroke-opacity="0.55"/>
<line x1="106.55" y1="538.83" x2="106.55" y2="510.23" stroke="#00BFC4" stroke-width="1.1" stroke-opacity="0.55"/>
<line x1="110.20" y1="539.08" x2="110.20" y2="509.98" stroke="#00BFC4" stroke-width="1.1" stroke-opacity="0.55"/>
<line x1="113.85" y1="529.48" x2="113.85" y2="501.38" stroke="#00BFC4" stroke-width="1.1" stroke-opacity="0.55"/>
<line x1="117.50" y1="522.06" x2="117.50" y2="495.81" stroke="#00BFC4" stroke-width="1.1" stroke-opacity="0.55"/>
<line x1="121.15" y1="526.03" x2="121.15" y2="497.56" stroke="#00BFC4" stroke-width="1.1" stroke-opacity="0.55"/>
<line x1="124.80" y1="526.47" x2="124.80" y2="493.48" stroke="#00BFC4" stroke-width="1.1" stroke-opacity="0.55"/>
<line x1="128.45" y1="513.36" x2="128.45" y2="487.88" stroke="#00BFC4" stroke-width="1.1" stroke-opacity="0.55"/>
<line x1="132.10" y1="508.85" x2="132.10" y2="477.84" stroke="#00BFC4" stroke-width="1.1" stroke-opacity="0.55"/>
<line x1="135.75" y1="521.16" x2="135.75" y2="495.15" stroke="#00BFC4" stroke-width="1.1" stroke-opacity="0.55"/>
<line x1="139.40" y1="536.45" x2="139.40" y2="511.05" stroke="#00BFC4" stroke-width="1.1" stroke-opacity="0.55"/>
<line x1="143.05" y1="536.09" x2="143.05" y2="509.33" stroke="#00BFC4" stroke-width="1.1" stroke-opacity="0.55"/>
<line x1="146.70" y1="533.07" x2="146.70" y2="508.71" stroke="#00BFC4" stroke-width="1.1" stroke-opacity="0.55"/>
<line x1="150.35" y1="546.80" x2="150.35" y2="513.69" stroke="#00BFC4" stroke-width="1.1" stroke-opacity="0.55"/>
<line x1="154.00" y1="536.30" x2="154.00" y2="509.12" stroke="#00BFC4" stroke-width="1.1" stroke-opacity="0.55"/>
<line x1="157.65" y1="533.50" x2="157.65" y2="508.28" stroke="#00BFC4" stroke-width="1.1" stroke-opacity="0.55"/>
<line x1="161.30" y1="528.95" x2="161.30" y2="505.56" stroke="#00BFC4" stroke-width="1.1" stroke-opacity="0.55"/>
<line x1="164.95" y1="493.66" x2="164.95" y2="469.64" stroke="#00BFC4" stroke-width="1.1" stroke-opacity="0.55"/>
<line x1="168.60" y1="520.45" x2="168.60" y2="494.82" stroke="#00BFC4" stroke-width="1.1" stroke-opacity="0.55"/>
<line x1="172.25" y1="465.01" x2="172.25" y2="425.51" stroke="#00BFC4" stroke-width="1.1" stroke-opacity="0.55"/>
<line x1="175.90" y1="537.72" x2="175.90" y2="508.74" stroke="#00BFC4" stroke-width="1.1" stroke-opacity="0.55"/>
<line x1="179.55" y1="542.40" x2="179.55" y2="505.10" stroke="#00BFC4" stroke-width="1.1" stroke-opacity="0.55"/>
<line x1="183.20" y1="537.43" x2="183.20" y2="504.87" stroke="#00BFC4" stroke-width="1.1" stroke-opacity="0.55"/>
<line x1="186.85" y1="535.74" x2="186.85" y2="500.32" stroke="#00BFC4" stroke-width="1.1" stroke-opacity="0.55"/>
<line x1="190.50" y1="546.72" x2="190.50" y2="513.78" stroke="#00BFC4" stroke-width="1.1" stroke-opacity="0.55"/>
<line x1="194.15" y1="551.27" x2="194.15" y2="521.18" stroke="#00BFC4" stroke-width="1.1" stroke-opacity="0.55"/>
<line x1="197.80" y1="560.23" x2="197.80" y2="527.82" stroke="#00BFC4" stroke-width="1.1" stroke-opacity="0.55"/>
<line x1="201.45" y1="562.54" x2="201.45" y2="535.90" stroke="#00BFC4" stroke-width="1.1" stroke-opacity="0.55"/>
<line x1="205.10" y1="557.30" x2="205.10" y2="530.75" stroke="#00BFC4" stroke-width="1.1" stroke-opacity="0.55"/>
<line x1="208.75" y1="563.06" x2="208.75" y2="530.18" stroke="#00BFC4" stroke-width="1.1" stroke-opacity="0.55"/>
<line x1="212.40" y1="564.02" x2="212.40" y2="531.83" stroke="#00BFC4" stroke-width="1.1" stroke-opacity="0.55"/>
<line x1="216.05" y1="565.03" x2="216.05" y2="528.21" stroke="#00BFC4" stroke-width="1.1" stroke-opacity="0.55"/>
<line x1="219.70" y1="562.35" x2="219.70" y2="536.09" stroke="#00BFC4" stroke-width="1.1" stroke-opacity="0.55"/>
<line x1="223.35" y1="559.34" x2="223.35" y2="526.11" stroke="#00BFC4" stroke-width="1.1" stroke-opacity="0.55"/>
<line x1="227.00" y1="553.71" x2="227.00" y2="521.34" stroke="#00BFC4" stroke-width="1.1" stroke-opacity="0.55"/>
<line x1="230.65" y1="557.00" x2="230.65" y2="523.24" stroke="#00BFC4" stroke-width="1.1" stroke-opacity="0.55"/>
<line x1="234.30" y1="564.36" x2="234.30" y2="528.89" stroke="#00BFC4" stroke-width="1.1" stroke-opacity="0.55"/>
<line x1="237.95" y1="553.93" x2="237.95" y2="521.12" stroke="#00BFC4" stroke-width="1.1" stroke-opacity="0.55"/>
<line x1="241.60" y1="543.00" x2="241.60" y2="509.70" stroke="#00BFC4" stroke-width="1.1" stroke-opacity="0.55"/>
<line x1="245.25" y1="540.72" x2="245.25" y2="508.34" stroke="#00BFC4" stroke-width="1.1" stroke-opacity="0.55"/>
<line x1="248.90" y1="542.82" x2="248.90" y2="508.84" stroke="#00BFC4" stroke-width="1.1" stroke-opacity="0.55"/>
<line x1="252.55" y1="534.46" x2="252.55" y2="505.24" stroke="#00BFC4" stroke-width="1.1" stroke-opacity="0.55"/>
<line x1="256.20" y1="532.80" x2="256.20" y2="499.63" stroke="#00BFC4" stroke-width="1.1" stroke-opacity="0.55"/>
<line x1="259.85" y1="525.00" x2="259.85" y2="490.27" stroke="#00BFC4" stroke-width="1.1" stroke-opacity="0.55"/>
<line x1="263.50" y1="527.85" x2="263.50" y2="499.38" stroke="#00BFC4" stroke-width="1.1" stroke-opacity="0.55"/>
<line x1="267.15" y1="541.36" x2="267.15" y2="502.50" stroke="#00BFC4" stroke-width="1.1" stroke-opacity="0.55"/>
<line x1="270.80" y1="538.74" x2="270.80" y2="503.05" stroke="#00BFC4" stroke-width="1.1" stroke-opacity="0.55"/>
<line x1="274.45" y1="545.03" x2="274.45" y2="506.63" stroke="#00BFC4" stroke-width="1.1" stroke-opacity="0.55"/>
<line x1="278.10" y1="543.85" x2="278.10" y2="514.04" stroke="#00BFC4" stroke-width="1.1" stroke-opacity="0.55"/>
<line x1="281.75" y1="529.49" x2="281.75" y2="497.74" stroke="#00BFC4" stroke-width="1.1" stroke-opacity="0.55"/>
<line x1="285.40" y1="522.33" x2="285.40" y2="492.94" stroke="#00BFC4" stroke-width="1.1" stroke-opacity="0.55"/>
<line x1="289.05" y1="521.15" x2="289.05" y2="469.17" stroke="#00BFC4" stroke-width="1.1" stroke-opacity="0.55"/>
<line x1="72.90" y1="530.27" x2="72.90" y2="490.20" stroke="#F8766D" stroke-width="1.1" stroke-opacity="0.6"/>
<line x1="76.55" y1="535.34" x2="76.55" y2="498.12" stroke="#F8766D" stroke-width="1.1" stroke-opacity="0.6"/>
<line x1="80.20" y1="546.76" x2="80.20" y2="512.69" stroke="#F8766D" stroke-width="1.1" stroke-opacity="0.6"/>
<line x1="83.85" y1="436.68" x2="83.85" y2="347.28" stroke="#F8766D" stroke-width="1.1" stroke-opacity="0.6"/>
<line x1="87.50" y1="531.72" x2="87.50" y2="499.14" stroke="#F8766D" stroke-width="1.1" stroke-opacity="0.6"/>
<line x1="91.15" y1="542.02" x2="91.15" y2="501.84" stroke="#F8766D" stroke-width="1.1" stroke-opacity="0.6"/>
<line x1="94.80" y1="549.45" x2="94.80" y2="510.01" stroke="#F8766D" stroke-width="1.1" stroke-opacity="0.6"/>
<line x1="98.45" y1="547.77" x2="98.45" y2="511.69" stroke="#F8766D" stroke-width="1.1" stroke-opacity="0.6"/>
<line x1="102.10" y1="544.01" x2="102.10" y2="502.45" stroke="#F8766D" stroke-width="1.1" stroke-opacity="0.6"/>
<line x1="105.75" y1="536.19" x2="105.75" y2="502.48" stroke="#F8766D" stroke-width="1.1" stroke-opacity="0.6"/>
<line x1="109.40" y1="536.16" x2="109.40" y2="499.90" stroke="#F8766D" stroke-width="1.1" stroke-opacity="0.6"/>
<line x1="113.05" y1="532.31" x2="113.05" y2="490.76" stroke="#F8766D" stroke-width="1.1" stroke-opacity="0.6"/>
<line x1="116.70" y1="525.70" x2="116.70" y2="489.57" stroke="#F8766D" stroke-width="1.1" stroke-opacity="0.6"/>
<line x1="120.35" y1="530.46" x2="120.35" y2="490.01" stroke="#F8766D" stroke-width="1.1" stroke-opacity="0.6"/>
<line x1="124.00" y1="532.41" x2="124.00" y2="493.26" stroke="#F8766D" stroke-width="1.1" stroke-opacity="0.6"/>
<line x1="127.65" y1="522.85" x2="127.65" y2="479.43" stroke="#F8766D" stroke-width="1.1" stroke-opacity="0.6"/>
<line x1="131.30" y1="520.58" x2="131.30" y2="476.50" stroke="#F8766D" stroke-width="1.1" stroke-opacity="0.6"/>
<line x1="134.95" y1="521.43" x2="134.95" y2="480.84" stroke="#F8766D" stroke-width="1.1" stroke-opacity="0.6"/>
<line x1="138.60" y1="529.78" x2="138.60" y2="488.09" stroke="#F8766D" stroke-width="1.1" stroke-opacity="0.6"/>
<line x1="142.25" y1="530.72" x2="142.25" y2="497.55" stroke="#F8766D" stroke-width="1.1" stroke-opacity="0.6"/>
<line x1="145.90" y1="538.26" x2="145.90" y2="497.81" stroke="#F8766D" stroke-width="1.1" stroke-opacity="0.6"/>
<line x1="149.55" y1="541.73" x2="149.55" y2="499.53" stroke="#F8766D" stroke-width="1.1" stroke-opacity="0.6"/>
<line x1="153.20" y1="531.03" x2="153.20" y2="494.63" stroke="#F8766D" stroke-width="1.1" stroke-opacity="0.6"/>
<line x1="156.85" y1="529.42" x2="156.85" y2="491.05" stroke="#F8766D" stroke-width="1.1" stroke-opacity="0.6"/>
<line x1="160.50" y1="526.35" x2="160.50" y2="488.93" stroke="#F8766D" stroke-width="1.1" stroke-opacity="0.6"/>
<line x1="164.15" y1="524.26" x2="164.15" y2="480.62" stroke="#F8766D" stroke-width="1.1" stroke-opacity="0.6"/>
<line x1="167.80" y1="512.30" x2="167.80" y2="476.99" stroke="#F8766D" stroke-width="1.1" stroke-opacity="0.6"/>
<line x1="171.45" y1="439.80" x2="171.45" y2="355.59" stroke="#F8766D" stroke-width="1.1" stroke-opacity="0.6"/>
<line x1="175.10" y1="549.69" x2="175.10" y2="496.77" stroke="#F8766D" stroke-width="1.1" stroke-opacity="0.6"/>
<line x1="178.75" y1="544.66" x2="178.75" y2="502.84" stroke="#F8766D" stroke-width="1.1" stroke-opacity="0.6"/>
<line x1="182.40" y1="547.32" x2="182.40" y2="496.54" stroke="#F8766D" stroke-width="1.1" stroke-opacity="0.6"/>
<line x1="186.05" y1="550.53" x2="186.05" y2="508.93" stroke="#F8766D" stroke-width="1.1" stroke-opacity="0.6"/>
<line x1="189.70" y1="555.29" x2="189.70" y2="517.16" stroke="#F8766D" stroke-width="1.1" stroke-opacity="0.6"/>
<line x1="193.35" y1="552.51" x2="193.35" y2="522.54" stroke="#F8766D" stroke-width="1.1" stroke-opacity="0.6"/>
<line x1="197.00" y1="556.36" x2="197.00" y2="523.89" stroke="#F8766D" stroke-width="1.1" stroke-opacity="0.6"/>
<line x1="200.65" y1="565.86" x2="200.65" y2="527.38" stroke="#F8766D" stroke-width="1.1" stroke-opacity="0.6"/>
<line x1="204.30" y1="558.91" x2="204.30" y2="529.14" stroke="#F8766D" stroke-width="1.1" stroke-opacity="0.6"/>
<line x1="207.95" y1="561.75" x2="207.95" y2="528.90" stroke="#F8766D" stroke-width="1.1" stroke-opacity="0.6"/>
<line x1="211.60" y1="563.78" x2="211.60" y2="526.86" stroke="#F8766D" stroke-width="1.1" stroke-opacity="0.6"/>
<line x1="215.25" y1="559.72" x2="215.25" y2="530.93" stroke="#F8766D" stroke-width="1.1" stroke-opacity="0.6"/>
<line x1="218.90" y1="561.27" x2="218.90" y2="531.97" stroke="#F8766D" stroke-width="1.1" stroke-opacity="0.6"/>
<line x1="222.55" y1="561.85" x2="222.55" y2="523.59" stroke="#F8766D" stroke-width="1.1" stroke-opacity="0.6"/>
<line x1="226.20" y1="557.97" x2="226.20" y2="522.27" stroke="#F8766D" stroke-width="1.1" stroke-opacity="0.6"/>
<line x1="229.85" y1="553.18" x2="229.85" y2="521.87" stroke="#F8766D" stroke-width="1.1" stroke-opacity="0.6"/>
<line x1="233.50" y1="564.71" x2="233.50" y2="531.13" stroke="#F8766D" stroke-width="1.1" stroke-opacity="0.6"/>
<line x1="237.15" y1="554.41" x2="237.15" y2="523.24" stroke="#F8766D" stroke-width="1.1" stroke-opacity="0.6"/>
<line x1="240.80" y1="552.51" x2="240.80" y2="504.35" stroke="#F8766D" stroke-width="1.1" stroke-opacity="0.6"/>
<line x1="244.45" y1="540.36" x2="244.45" y2="495.71" stroke="#F8766D" stroke-width="1.1" stroke-opacity="0.6"/>
<line x1="248.10" y1="535.02" x2="248.10" y2="493.25" stroke="#F8766D" stroke-width="1.1" stroke-opacity="0.6"/>
<line x1="251.75" y1="534.49" x2="251.75" y2="480.78" stroke="#F8766D" stroke-width="1.1" stroke-opacity="0.6"/>
<line x1="255.40" y1="526.39" x2="255.40" y2="483.69" stroke="#F8766D" stroke-width="1.1" stroke-opacity="0.6"/>
<line x1="259.05" y1="518.32" x2="259.05" y2="465.76" stroke="#F8766D" stroke-width="1.1" stroke-opacity="0.6"/>
<line x1="262.70" y1="523.02" x2="262.70" y2="476.66" stroke="#F8766D" stroke-width="1.1" stroke-opacity="0.6"/>
<line x1="266.35" y1="542.40" x2="266.35" y2="488.46" stroke="#F8766D" stroke-width="1.1" stroke-opacity="0.6"/>
<line x1="270.00" y1="536.22" x2="270.00" y2="489.45" stroke="#F8766D" stroke-width="1.1" stroke-opacity="0.6"/>
<line x1="273.65" y1="541.01" x2="273.65" y2="487.26" stroke="#F8766D" stroke-width="1.1" stroke-opacity="0.6"/>
<line x1="277.30" y1="545.04" x2="277.30" y2="496.23" stroke="#F8766D" stroke-width="1.1" stroke-opacity="0.6"/>
<line x1="280.95" y1="540.38" x2="280.95" y2="495.68" stroke="#F8766D" stroke-width="1.1" stroke-opacity="0.6"/>
<line x1="284.60" y1="533.25" x2="284.60" y2="482.03" stroke="#F8766D" stroke-width="1.1" stroke-opacity="0.6"/>
<line x1="288.25" y1="525.83" x2="288.25" y2="458.26" stroke="#F8766D" stroke-width="1.1" stroke-opacity="0.6"/>
<polyline points="73.20,510.24 76.85,516.73 80.50,529.73 84.15,391.98 87.80,515.43 91.45,521.93 95.10,529.73 98.75,529.73 102.40,523.23 106.05,519.33 109.70,518.03 113.35,511.53 117.00,507.64 120.65,510.24 124.30,512.83 127.95,501.14 131.60,498.54 135.25,501.14 138.90,508.94 142.55,514.13 146.20,518.03 149.85,520.63 153.50,512.83 157.15,510.24 160.80,507.64 164.45,502.44 168.10,494.64 171.75,397.70 175.40,523.23 179.05,523.75 182.70,521.93 186.35,529.73 190.00,536.23 193.65,537.52 197.30,540.12 200.95,546.62 204.60,544.02 208.25,545.32 211.90,545.32 215.55,545.32 219.20,546.62 222.85,542.72 226.50,540.12 230.15,537.52 233.80,547.92 237.45,538.82 241.10,528.43 244.75,518.03 248.40,514.13 252.05,507.64 255.70,505.04 259.35,492.04 263.00,499.84 266.65,515.43 270.30,512.83 273.95,514.13 277.60,520.63 281.25,518.03 284.90,507.64 288.55,492.04" fill="none" stroke="#F8766D" stroke-width="0.8" stroke-opacity="0.9" stroke-linejoin="bevel"/>
<polyline points="73.20,513.61 76.85,537.52 80.50,544.80 84.15,429.67 87.80,532.07 91.45,530.25 95.10,535.71 98.75,535.71 102.40,528.43 106.05,524.53 109.70,524.53 113.35,515.43 117.00,508.94 120.65,511.79 124.30,509.98 127.95,500.62 131.60,493.34 135.25,508.16 138.90,523.75 142.55,522.71 146.20,520.89 149.85,530.25 153.50,522.71 157.15,520.89 160.80,517.25 164.45,481.65 168.10,507.64 171.75,445.26 175.40,523.23 179.05,523.75 182.70,521.15 186.35,518.03 190.00,530.25 193.65,536.23 197.30,544.02 200.95,549.22 204.60,544.02 208.25,546.62 211.90,547.92 215.55,546.62 219.20,549.22 222.85,542.72 226.50,537.52 230.15,540.12 233.80,546.62 237.45,537.52 241.10,526.35 244.75,524.53 248.40,525.83 252.05,519.85 255.70,516.21 259.35,507.64 263.00,513.61 266.65,521.93 270.30,520.89 273.95,525.83 277.60,528.95 281.25,513.61 284.90,507.64 288.55,495.16" fill="none" stroke="#00BFC4" stroke-width="0.8" stroke-opacity="0.9" stroke-linejoin="bevel"/>
<line x1="178.4" y1="570.1" x2="244.5" y2="570.1" stroke="#6a6a6a" stroke-width="1.4"/>
<line x1="262.9" y1="570.1" x2="280.7" y2="570.1" stroke="#6a6a6a" stroke-width="1.4"/>
<rect x="54.5" y="15.4" width="286.00" height="257.80" fill="none" stroke="#8a8a8a" stroke-width="1.2"/>
<rect x="422.7" y="15.5" width="258.70" height="259.80" fill="none" stroke="#8a8a8a" stroke-width="1.2"/>
<rect x="60.7" y="329.0" width="273.30" height="285.10" fill="none" stroke="#8a8a8a" stroke-width="1.2"/>
<line x1="51.80" y1="261.00" x2="54.50" y2="261.00" stroke="#8a8a8a" stroke-width="1.1"/>
<text x="49.80" y="265.80" font-size="11" fill="#4d4d4d" text-anchor="end">0</text>
<line x1="51.80" y1="182.80" x2="54.50" y2="182.80" stroke="#8a8a8a" stroke-width="1.1"/>
<text x="49.80" y="187.60" font-size="11" fill="#4d4d4d" text-anchor="end">5</text>
<line x1="51.80" y1="104.60" x2="54.50" y2="104.60" stroke="#8a8a8a" stroke-width="1.1"/>
<text x="49.80" y="109.40" font-size="11" fill="#4d4d4d" text-anchor="end">10</text>
<line x1="51.80" y1="26.40" x2="54.50" y2="26.40" stroke="#8a8a8a" stroke-width="1.1"/>
<text x="49.80" y="31.20" font-size="11" fill="#4d4d4d" text-anchor="end">15</text>
<line x1="67.40" y1="273.10" x2="67.40" y2="275.80" stroke="#8a8a8a" stroke-width="1.1"/>
<text x="67.40" y="287.20" font-size="11" fill="#4d4d4d" text-anchor="middle">0</text>
<line x1="119.10" y1="273.10" x2="119.10" y2="275.80" stroke="#8a8a8a" stroke-width="1.1"/>
<text x="119.10" y="287.20" font-size="11" fill="#4d4d4d" text-anchor="middle">100</text>
<line x1="170.80" y1="273.10" x2="170.80" y2="275.80" stroke="#8a8a8a" stroke-width="1.1"/>
<text x="170.80" y="287.20" font-size="11" fill="#4d4d4d" text-anchor="middle">200</text>
<line x1="222.50" y1="273.10" x2="222.50" y2="275.80" stroke="#8a8a8a" stroke-width="1.1"/>
<text x="222.50" y="287.20" font-size="11" fill="#4d4d4d" text-anchor="middle">300</text>
<line x1="274.20" y1="273.10" x2="274.20" y2="275.80" stroke="#8a8a8a" stroke-width="1.1"/>
<text x="274.20" y="287.20" font-size="11" fill="#4d4d4d" text-anchor="middle">400</text>
<line x1="325.90" y1="273.10" x2="325.90" y2="275.80" stroke="#8a8a8a" stroke-width="1.1"/>
<text x="325.90" y="287.20" font-size="11" fill="#4d4d4d" text-anchor="middle">500</text>
<text x="197.4" y="301.2" font-size="14" fill="#000" text-anchor="middle">Time (ns)</text>
<text transform="translate(33.4,143.5) rotate(-90)" font-size="14" fill="#000" text-anchor="middle">RMSD (Å)</text>
<line x1="137.7" y1="260.3" x2="149.1" y2="260.3" stroke="#F8766D" stroke-opacity="0.55" stroke-width="1.2"/>
<text x="157.6" y="265.09" font-size="10.8" fill="#000" stroke="#000" stroke-width="0.15">Mutant</text>
<line x1="198.3" y1="260.3" x2="209.70000000000002" y2="260.3" stroke="#00BFC4" stroke-opacity="0.55" stroke-width="1.2"/>
<text x="218.2" y="265.09" font-size="10.8" fill="#000" stroke="#000" stroke-width="0.15">Wild type</text>
<text transform="translate(8.0,17.7)" font-size="15.8" font-weight="bold" fill="#000">A</text>
<line x1="420.00" y1="263.60" x2="422.70" y2="263.60" stroke="#8a8a8a" stroke-width="1.1"/>
<text x="418.50" y="268.10" font-size="10" fill="#4d4d4d" text-anchor="end">0</text>
<line x1="420.00" y1="172.40" x2="422.70" y2="172.40" stroke="#8a8a8a" stroke-width="1.1"/>
<text x="418.50" y="176.90" font-size="10" fill="#4d4d4d" text-anchor="end">5</text>
<line x1="420.00" y1="81.20" x2="422.70" y2="81.20" stroke="#8a8a8a" stroke-width="1.1"/>
<text x="418.50" y="85.70" font-size="10" fill="#4d4d4d" text-anchor="end">10</text>
<line x1="430.10" y1="275.30" x2="430.10" y2="278.00" stroke="#8a8a8a" stroke-width="1.1"/>
<text x="430.10" y="287.60" font-size="10" fill="#4d4d4d" text-anchor="middle">0</text>
<line x1="496.75" y1="275.30" x2="496.75" y2="278.00" stroke="#8a8a8a" stroke-width="1.1"/>
<text x="496.75" y="287.60" font-size="10" fill="#4d4d4d" text-anchor="middle">500</text>
<line x1="563.40" y1="275.30" x2="563.40" y2="278.00" stroke="#8a8a8a" stroke-width="1.1"/>
<text x="563.40" y="287.60" font-size="10" fill="#4d4d4d" text-anchor="middle">1000</text>
<line x1="630.05" y1="275.30" x2="630.05" y2="278.00" stroke="#8a8a8a" stroke-width="1.1"/>
<text x="630.05" y="287.60" font-size="10" fill="#4d4d4d" text-anchor="middle">1500</text>
<text x="552.2" y="300.9" font-size="12.7" fill="#000" text-anchor="middle">Residue</text>
<text transform="translate(403.9,144.7) rotate(-90)" font-size="12.7" fill="#000" text-anchor="middle">RMSF(Å)</text>
<line x1="497.6" y1="262.9" x2="508.0" y2="262.9" stroke="#F8766D" stroke-opacity="0.55" stroke-width="1.2"/>
<text x="515.6" y="266.50" font-size="10" fill="#000" stroke="#000" stroke-width="0.15">Mutant</text>
<line x1="552.6" y1="262.9" x2="563.0" y2="262.9" stroke="#00BFC4" stroke-opacity="0.55" stroke-width="1.2"/>
<text x="571.2" y="266.50" font-size="10" fill="#000" stroke="#000" stroke-width="0.15">Wild type</text>
<text transform="translate(387.2,16.8)" font-size="14.4" font-weight="bold" fill="#000">B</text>
<line x1="58.00" y1="601.20" x2="60.70" y2="601.20" stroke="#8a8a8a" stroke-width="1.1"/>
<text x="55.00" y="606.60" font-size="12" fill="#4d4d4d" text-anchor="end">0.0</text>
<line x1="58.00" y1="536.23" x2="60.70" y2="536.23" stroke="#8a8a8a" stroke-width="1.1"/>
<text x="55.00" y="541.62" font-size="12" fill="#4d4d4d" text-anchor="end">2.5</text>
<line x1="58.00" y1="471.25" x2="60.70" y2="471.25" stroke="#8a8a8a" stroke-width="1.1"/>
<text x="55.00" y="476.65" font-size="12" fill="#4d4d4d" text-anchor="end">5.0</text>
<line x1="58.00" y1="406.28" x2="60.70" y2="406.28" stroke="#8a8a8a" stroke-width="1.1"/>
<text x="55.00" y="411.68" font-size="12" fill="#4d4d4d" text-anchor="end">7.5</text>
<line x1="58.00" y1="341.30" x2="60.70" y2="341.30" stroke="#8a8a8a" stroke-width="1.1"/>
<text x="55.00" y="346.70" font-size="12" fill="#4d4d4d" text-anchor="end">10.0</text>
<line x1="102.40" y1="614.10" x2="102.40" y2="616.80" stroke="#8a8a8a" stroke-width="1.1"/>
<text x="102.40" y="628.70" font-size="12" fill="#4d4d4d" text-anchor="middle">60</text>
<line x1="175.40" y1="614.10" x2="175.40" y2="616.80" stroke="#8a8a8a" stroke-width="1.1"/>
<text x="175.40" y="628.70" font-size="12" fill="#4d4d4d" text-anchor="middle">80</text>
<line x1="248.40" y1="614.10" x2="248.40" y2="616.80" stroke="#8a8a8a" stroke-width="1.1"/>
<text x="248.40" y="628.70" font-size="12" fill="#4d4d4d" text-anchor="middle">100</text>
<line x1="321.40" y1="614.10" x2="321.40" y2="616.80" stroke="#8a8a8a" stroke-width="1.1"/>
<text x="321.40" y="628.70" font-size="12" fill="#4d4d4d" text-anchor="middle">120</text>
<text x="197.4" y="645.7" font-size="15.8" fill="#000" text-anchor="middle">Residue</text>
<text transform="translate(27.7,469.8) rotate(-90)" font-size="16.3" fill="#000" text-anchor="middle">RMSF(Å)</text>
<line x1="130.5" y1="600.2" x2="143.4" y2="600.2" stroke="#F8766D" stroke-opacity="0.55" stroke-width="1.2"/>
<text x="152.7" y="605.36" font-size="12.4" fill="#000" stroke="#000" stroke-width="0.15">Mutant</text>
<line x1="198.3" y1="600.2" x2="211.20000000000002" y2="600.2" stroke="#00BFC4" stroke-opacity="0.55" stroke-width="1.2"/>
<text x="220.4" y="605.36" font-size="12.4" fill="#000" stroke="#000" stroke-width="0.15">Wild type</text>
<text transform="translate(5.9,331.0)" font-size="15.6" font-weight="bold" fill="#000">C</text>
</svg>
</body></html>
